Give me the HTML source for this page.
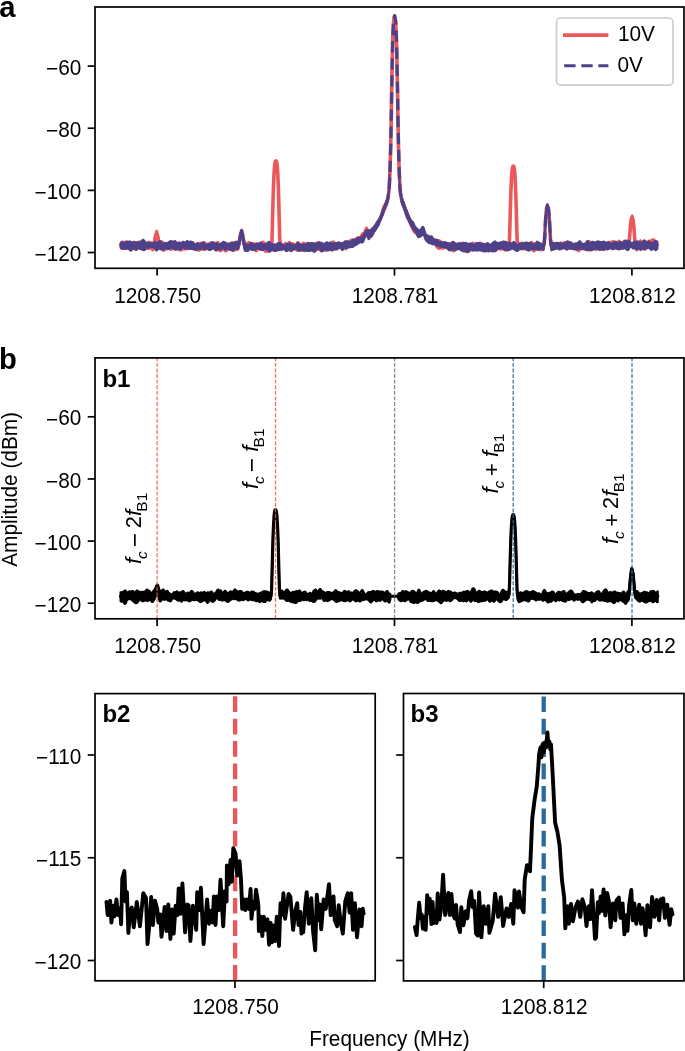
<!DOCTYPE html><html><head><meta charset="utf-8"><style>html,body{margin:0;padding:0;background:#fff;overflow:hidden}svg{display:block}</style></head><body><svg width="685" height="1051" viewBox="0 0 685 1051">
<style>.t{font-family:'Liberation Sans', Arial, Helvetica, sans-serif;font-size:20.8px;fill:#000}.bl{font-family:'Liberation Sans', Arial, Helvetica, sans-serif;font-weight:bold;fill:#000}.m{font-family:'Liberation Sans', Arial, Helvetica, sans-serif;fill:#000}</style>
<rect width="685" height="1051" fill="#fff"/>
<clipPath id="ca"><rect x="95" y="7" width="589" height="261.3"/></clipPath>
<g clip-path="url(#ca)" fill="none" stroke-linejoin="round" stroke-linecap="round">
<path d="M120.5 242.76L120.99 242.54L121.48 242.06L121.97 241.54L122.45 241.25L122.94 241.25L123.43 241.45L123.92 241.67L124.41 241.75L124.9 241.62L125.39 241.34L125.87 241.05L126.36 240.96L126.85 241.18L127.34 241.67L127.83 242.31L128.32 242.95L128.81 243.34L129.3 243.3L129.78 242.87L130.27 242.39L130.76 242.13L131.25 242.11L131.74 242.12L132.23 242.04L132.72 241.88L133.2 241.67L133.69 241.49L134.18 241.5L134.67 241.75L135.16 242.09L135.65 242.25L136.14 242.17L136.62 241.99L137.11 241.85L137.6 241.72L138.09 241.51L138.58 241.27L139.07 241.23L139.56 241.49L140.05 241.91L140.53 242.21L141.02 242.28L141.51 242.2L142 242.06L142.49 241.89L142.98 241.73L143.47 241.68L143.95 241.82L144.44 242.15L144.93 242.63L145.42 243.18L145.91 243.45L146.4 243.45L146.89 243.46L147.37 243.1L147.86 242.22L148.35 241.58L148.84 241.42L149.33 241.57L149.82 241.78L150.31 241.95L150.79 242.2L151.28 242.62L151.77 243.13L152.26 243.51L152.75 243.49L153.24 243.34L153.73 242.42L154.22 240.44L154.7 237.47L155.19 234.33L155.68 231.94L156.17 230.66L156.66 230.33L157.15 230.67L157.64 232.16L158.12 234.9L158.61 238.2L159.1 240.84L159.59 241.98L160.08 241.97L160.57 241.58L161.06 241.25L161.54 241.11L162.03 241.15L162.52 241.34L163.01 241.68L163.5 242.1L163.99 242.5L164.48 242.79L164.96 242.95L165.45 243.02L165.94 243.02L166.43 242.95L166.92 242.82L167.41 242.62L167.9 242.41L168.39 242.22L168.87 242.08L169.36 242.03L169.85 242.1L170.34 242.3L170.83 242.61L171.32 242.95L171.81 243.18L172.29 243.19L172.78 242.92L173.27 242.4L173.76 241.73L174.25 241.12L174.74 240.8L175.23 240.85L175.71 241.25L176.2 241.87L176.69 242.56L177.18 243.09L177.67 243.19L178.16 242.85L178.65 242.32L179.14 241.96L179.62 241.96L180.11 242.24L180.6 242.65L181.09 243.12L181.58 243.61L182.07 243.84L182.56 243.85L183.04 243.85L183.53 243.84L184.02 243.46L184.51 243.13L185 242.81L185.49 242.42L185.98 241.97L186.46 241.61L186.95 241.47L187.44 241.55L187.93 241.69L188.42 241.82L188.91 241.94L189.4 242.16L189.88 242.51L190.37 242.88L190.86 243.02L191.35 242.81L191.84 242.36L192.33 241.97L192.82 241.83L193.31 241.99L193.79 242.41L194.28 242.96L194.77 243.54L195.26 243.99L195.75 243.99L196.24 244L196.73 244L197.21 244.01L197.7 244.01L198.19 243.74L198.68 243.28L199.17 242.84L199.66 242.51L200.15 242.42L200.63 242.62L201.12 243.03L201.61 243.37L202.1 243.4L202.59 243.02L203.08 242.42L203.57 241.94L204.06 241.78L204.54 241.98L205.03 242.41L205.52 242.89L206.01 243.22L206.5 243.3L206.99 243.22L207.48 243.19L207.96 243.34L208.45 243.58L208.94 243.64L209.43 243.28L209.92 242.6L210.41 242.01L210.9 241.87L211.38 242.14L211.87 242.47L212.36 242.6L212.85 242.53L213.34 242.4L213.83 242.33L214.32 242.32L214.8 242.38L215.29 242.48L215.78 242.52L216.27 242.42L216.76 242.15L217.25 241.85L217.74 241.68L218.23 241.85L218.71 242.43L219.2 243.24L219.69 243.91L220.18 244.2L220.67 244.13L221.16 243.82L221.65 243.33L222.13 242.77L222.62 242.33L223.11 242.17L223.6 242.15L224.09 242.12L224.58 242.07L225.07 242.15L225.55 242.4L226.04 242.7L226.53 242.94L227.02 243.15L227.51 243.35L228 243.51L228.49 243.55L228.97 243.41L229.46 243.18L229.95 242.95L230.44 242.74L230.93 242.49L231.42 242.16L231.91 241.92L232.4 241.9L232.88 242.1L233.37 242.35L233.86 242.47L234.35 242.4L234.84 242.15L235.33 241.8L235.82 241.52L236.3 241.52L236.79 241.89L237.28 242.52L237.77 243.19L238.26 243.5L238.75 242.74L239.24 240.28L239.72 236.58L240.21 233.07L240.7 230.72L241.19 229.63L241.68 229.33L242.17 229.52L242.66 230.79L243.15 233.4L243.63 236.93L244.12 240.22L244.61 242.22L245.1 243.04L245.59 243.38L246.08 243.55L246.57 243.49L247.05 243.11L247.54 242.54L248.03 242.03L248.52 241.72L249.01 241.64L249.5 241.79L249.99 242.14L250.47 242.54L250.96 242.79L251.45 242.84L251.94 242.78L252.43 242.72L252.92 242.75L253.41 242.92L253.89 243.19L254.38 243.4L254.87 243.36L255.36 243.16L255.85 242.98L256.34 242.95L256.83 243.05L257.32 243.24L257.8 243.49L258.29 243.73L258.78 243.76L259.27 243.49L259.76 242.97L260.25 242.42L260.74 242.02L261.22 241.82L261.71 241.7L262.2 241.55L262.69 241.41L263.18 241.44L263.67 241.7L264.16 242.11L264.64 242.52L265.13 242.9L265.62 243.27L266.11 243.66L266.6 244L267.09 244.21L267.58 244.29L268.07 244.29L268.55 244.22L269.04 244.09L269.53 243.94L270.02 243.84L270.51 243.84L271 243.87L271.49 243.25L271.97 237.35L272.46 220.19L272.95 200.42L273.44 184.36L273.93 172.74L273.93 177.99L273.44 189.69L272.95 205.63L272.46 225.36L271.97 242.35L271.49 248.07L271 249.12L270.51 250.03L270.02 250.87L269.53 251.57L269.04 252.06L268.55 252.25L268.07 252.11L267.58 251.8L267.09 251.61L266.6 251.69L266.11 251.96L265.62 252.14L265.13 252.04L264.64 251.67L264.16 251.21L263.67 250.78L263.18 250.4L262.69 250.11L262.2 249.96L261.71 249.96L261.22 249.96L260.74 249.8L260.25 249.46L259.76 249.06L259.27 248.84L258.78 249L258.29 249.61L257.8 250.45L257.32 251.16L256.83 251.49L256.34 251.51L255.85 251.42L255.36 251.31L254.87 251.08L254.38 250.67L253.89 250.16L253.41 249.68L252.92 249.26L252.43 248.88L251.94 248.56L251.45 248.55L250.96 248.54L250.47 248.54L249.99 248.53L249.5 248.77L249.01 249.05L248.52 249.31L248.03 249.54L247.54 249.72L247.05 249.76L246.57 249.66L246.08 249.56L245.59 249.61L245.1 249.75L244.61 249.52L244.12 248.11L243.63 245.24L243.15 241.84L242.66 239.18L242.17 237.86L241.68 237.66L241.19 237.9L240.7 238.81L240.21 240.82L239.72 243.84L239.24 247.01L238.75 249.13L238.26 249.92L237.77 250.05L237.28 250.11L236.79 250.27L236.3 250.45L235.82 250.55L235.33 250.58L234.84 250.63L234.35 250.77L233.86 250.94L233.37 251.02L232.88 250.87L232.4 250.55L231.91 250.19L231.42 249.96L230.93 249.92L230.44 250.02L229.95 250.11L229.46 250.09L228.97 249.99L228.49 249.99L228 250.23L227.51 250.71L227.02 251.21L226.53 251.57L226.04 251.7L225.55 251.64L225.07 251.44L224.58 251.08L224.09 250.54L223.6 249.97L223.11 249.64L222.62 249.77L222.13 250.3L221.65 250.94L221.16 251.41L220.67 251.6L220.18 251.56L219.69 251.36L219.2 251.02L218.71 250.61L218.23 250.3L217.74 250.26L217.25 250.47L216.76 250.77L216.27 250.91L215.78 250.78L215.29 250.39L214.8 249.87L214.32 249.3L213.83 248.73L213.34 248.29L212.85 248.17L212.36 248.3L211.87 248.75L211.38 249.28L210.9 249.68L210.41 249.81L209.92 249.68L209.43 249.37L208.94 248.99L208.45 248.67L207.96 248.54L207.48 248.66L206.99 248.99L206.5 249.43L206.01 249.86L205.52 250.16L205.03 250.27L204.54 250.23L204.06 250.13L203.57 250.07L203.08 250.07L202.59 250.1L202.1 250.07L201.61 249.95L201.12 249.82L200.63 249.82L200.15 250.07L199.66 250.52L199.17 251.01L198.68 251.29L198.19 251.21L197.7 250.82L197.21 250.28L196.73 249.7L196.24 249.15L195.75 248.75L195.26 248.7L194.77 249.04L194.28 249.58L193.79 249.96L193.31 249.93L192.82 249.58L192.33 249.19L191.84 248.94L191.35 248.82L190.86 248.71L190.37 248.57L189.88 248.49L189.4 248.63L188.91 248.99L188.42 249.36L187.93 249.49L187.44 249.36L186.95 249.23L186.46 249.34L185.98 249.65L185.49 249.9L185 249.88L184.51 249.64L184.02 249.43L183.53 249.43L183.04 249.67L182.56 250.02L182.07 250.33L181.58 250.55L181.09 250.7L180.6 250.77L180.11 250.79L179.62 250.76L179.14 250.64L178.65 250.29L178.16 249.74L177.67 249.28L177.18 249.16L176.69 249.37L176.2 249.64L175.71 249.84L175.23 249.98L174.74 250.05L174.25 249.9L173.76 249.56L173.27 249.29L172.78 249.34L172.29 249.67L171.81 250.04L171.32 250.19L170.83 250.11L170.34 249.92L169.85 249.72L169.36 249.42L168.87 248.99L168.39 248.5L167.9 248.16L167.41 248.1L166.92 248.35L166.43 248.89L165.94 249.56L165.45 250.16L164.96 250.55L164.48 250.82L163.99 251.05L163.5 251.14L163.01 250.91L162.52 250.3L162.03 249.49L161.54 248.79L161.06 248.43L160.57 248.46L160.08 248.68L159.59 248.53L159.1 247.28L158.61 244.69L158.12 241.58L157.64 239.09L157.15 237.8L156.66 237.59L156.17 237.94L155.68 239.09L155.19 241.29L154.7 244.29L154.22 247.3L153.73 249.44L153.24 250.51L152.75 250.8L152.26 250.5L151.77 249.8L151.28 248.99L150.79 248.44L150.31 248.37L149.82 248.65L149.33 249L148.84 249.2L148.35 249.25L147.86 249.27L147.37 249.29L146.89 249.26L146.4 249.2L145.91 249.23L145.42 249.45L144.93 249.79L144.44 250.05L143.95 250.02L143.47 249.58L142.98 248.83L142.49 248.01L142 247.43L141.51 247.4L141.02 247.39L140.53 247.71L140.05 248.16L139.56 248.56L139.07 248.75L138.58 248.64L138.09 248.38L137.6 248.22L137.11 248.39L136.62 248.86L136.14 249.45L135.65 249.93L135.16 250.12L134.67 249.96L134.18 249.58L133.69 249.25L133.2 249.15L132.72 249.21L132.23 249.23L131.74 249.17L131.25 249.19L130.76 249.43L130.27 249.81L129.78 250.05L129.3 249.86L128.81 249.28L128.32 248.69L127.83 248.53L127.34 248.84L126.85 249.28L126.36 249.4L125.87 249.1L125.39 248.59L124.9 248.26L124.41 248.29L123.92 248.61L123.43 249L122.94 249.25L122.45 249.24L121.97 249.05L121.48 248.82L120.99 248.67L120.5 248.59ZM278.33 184.31L278.81 199.92L279.3 219.18L279.79 236.58L280.28 243.12L280.77 244.06L281.26 244.31L281.75 244.5L282.24 244.65L282.72 244.7L283.21 244.6L283.7 244.29L284.19 243.75L284.68 243.12L285.17 242.66L285.66 242.59L286.14 242.88L286.63 243.3L287.12 243.54L287.61 243.4L288.1 242.86L288.59 242.17L289.08 241.68L289.56 241.6L290.05 241.9L290.54 242.4L291.03 242.89L291.52 243.17L292.01 243.16L292.5 242.98L292.98 242.85L293.47 243L293.96 243.5L294.45 244.2L294.94 244.73L295.43 244.73L295.92 244.11L296.41 243.15L296.89 242.26L297.38 241.76L297.87 241.72L298.36 242.06L298.85 242.63L299.34 243.29L299.83 243.91L300.31 244.4L300.8 244.59L301.29 244.39L301.78 243.83L302.27 243.11L302.76 242.53L303.25 242.28L303.73 242.37L304.22 242.57L304.71 242.76L305.2 243.03L305.69 243.51L306.18 244.07L306.67 244.41L307.16 244.36L307.64 244.06L308.13 243.74L308.62 243.46L309.11 243.18L309.6 242.91L310.09 242.75L310.58 242.75L311.06 242.86L311.55 242.96L312.04 243.01L312.53 243.04L313.02 243.07L313.51 243.08L314 243.05L314.48 243.02L314.97 243.05L315.46 243.09L315.95 242.97L316.44 242.59L316.93 242.08L317.42 241.74L317.9 241.81L318.39 242.3L318.88 242.98L319.37 243.53L319.86 243.77L320.35 243.71L320.84 243.52L321.33 243.37L321.81 243.31L322.3 243.37L322.79 243.61L323.28 244.08L323.77 244.65L324.26 244.7L324.75 244.68L325.23 244.67L325.72 244.5L326.21 244.16L326.7 243.81L327.19 243.44L327.68 243.16L328.17 243.08L328.65 243.29L329.14 243.71L329.63 244.06L330.12 244.07L330.61 243.65L331.1 242.96L331.59 242.22L332.08 241.63L332.56 241.25L333.05 241.11L333.54 241.17L334.03 241.42L334.52 241.82L335.01 242.29L335.5 242.69L335.98 242.93L336.47 242.92L336.96 242.71L337.45 242.42L337.94 242.25L338.43 242.28L338.92 242.43L339.4 242.54L339.89 242.53L340.38 242.55L340.87 242.74L341.36 243.09L341.85 243.47L342.34 243.62L342.82 243.54L343.31 243.46L343.8 243.37L344.29 242.77L344.78 241.9L345.27 241.28L345.76 241.12L346.25 241.36L346.73 241.69L347.22 241.89L347.71 241.9L348.2 241.8L348.69 241.57L349.18 241.16L349.67 240.58L350.15 239.96L350.64 239.51L351.13 239.35L351.62 239.39L352.11 239.46L352.6 239.41L353.09 239.25L353.57 239.14L354.06 239.17L354.55 239.21L355.04 239.05L355.53 238.67L356.02 238.18L356.51 237.74L356.99 237.34L357.48 236.99L357.97 236.77L358.46 236.75L358.95 236.89L359.44 237.02L359.93 236.89L360.42 236.3L360.9 235.29L361.39 234.18L361.88 233.36L362.37 233L362.86 232.96L363.35 232.84L363.84 232.28L364.32 231.2L364.81 229.89L365.3 228.69L365.79 227.82L366.28 227.31L366.77 227.35L367.26 228.02L367.74 229.08L368.23 230.08L368.72 230.71L369.21 230.88L369.7 230.65L370.19 230.16L370.68 229.6L371.17 229.09L371.65 228.67L372.14 228.16L372.63 227.67L373.12 227.17L373.61 226.64L374.1 226.06L374.59 225.48L375.07 224.95L375.56 224.46L376.05 223.93L376.54 223.29L377.03 222.54L377.52 221.78L378.01 221.15L378.49 220.41L378.98 219.64L379.47 218.51L379.96 217.36L380.45 216.21L380.94 214.64L381.43 212.55L381.91 210.51L382.4 208.71L382.89 207.2L383.38 205.97L383.87 204.98L384.36 204.19L384.85 203.53L385.34 202.83L385.82 201.94L386.31 200.79L386.8 199.47L387.29 198.14L387.78 196.2L388.27 193.1L388.76 189.87L389.24 184.59L389.73 173.82L389.73 179.34L389.24 190.17L388.76 195.29L388.27 198.42L387.78 201.72L387.29 204.04L386.8 205.7L386.31 207.15L385.82 208.31L385.34 209.22L384.85 210.05L384.36 211L383.87 212.15L383.38 213.41L382.89 214.65L382.4 215.77L381.91 216.77L381.43 217.74L380.94 218.92L380.45 220.1L379.96 221.26L379.47 222.4L378.98 223.54L378.49 224.65L378.01 225.73L377.52 226.8L377.03 227.83L376.54 228.67L376.05 229.33L375.56 229.99L375.07 230.78L374.59 231.72L374.1 232.74L373.61 233.81L373.12 234.87L372.63 235.84L372.14 236.59L371.65 237L371.17 236.9L370.68 236.54L370.19 236.13L369.7 235.83L369.21 235.8L368.72 235.94L368.23 235.75L367.74 235.22L367.26 234.58L366.77 234.88L366.28 235.62L365.79 236.34L365.3 236.85L364.81 237.45L364.32 238.31L363.84 239.3L363.35 240.12L362.86 240.52L362.37 240.6L361.88 240.66L361.39 240.99L360.9 241.61L360.42 242.26L359.93 242.68L359.44 242.86L358.95 242.99L358.46 243.29L357.97 243.76L357.48 244.24L356.99 244.58L356.51 244.71L356.02 244.77L355.53 244.87L355.04 244.97L354.55 245.01L354.06 245.07L353.57 245.32L353.09 245.87L352.6 246.56L352.11 247.12L351.62 247.36L351.13 247.32L350.64 247.12L350.15 246.84L349.67 246.51L349.18 246.2L348.69 246.23L348.2 246.43L347.71 247.23L347.22 248.27L346.73 249.19L346.25 249.67L345.76 249.58L345.27 248.99L344.78 248.19L344.29 247.56L343.8 247.36L343.31 247.52L342.82 247.94L342.34 248.32L341.85 248.49L341.36 248.44L340.87 248.27L340.38 248.06L339.89 247.98L339.4 248.03L338.92 248.06L338.43 248.37L337.94 248.92L337.45 249.42L336.96 249.73L336.47 249.83L335.98 249.76L335.5 249.62L335.01 249.54L334.52 249.65L334.03 249.88L333.54 250.07L333.05 250.12L332.56 250.09L332.08 250.07L331.59 250.14L331.1 250.29L330.61 250.41L330.12 250.43L329.63 250.39L329.14 250.37L328.65 250.38L328.17 250.39L327.68 250.44L327.19 250.57L326.7 250.77L326.21 250.92L325.72 250.96L325.23 250.94L324.75 250.97L324.26 251.01L323.77 250.97L323.28 250.8L322.79 250.59L322.3 250.41L321.81 250.27L321.33 250.1L320.84 249.92L320.35 249.79L319.86 249.82L319.37 250.03L318.88 250.25L318.39 250.32L317.9 250.22L317.42 250.14L316.93 250.2L316.44 250.45L315.95 250.79L315.46 251.07L314.97 251.19L314.48 251.13L314 250.95L313.51 250.72L313.02 250.42L312.53 250.01L312.04 249.58L311.55 249.28L311.06 249.24L310.58 249.5L310.09 249.93L309.6 250.32L309.11 250.52L308.62 250.51L308.13 250.32L307.64 250.04L307.16 249.86L306.67 249.96L306.18 250.35L305.69 250.87L305.2 251.29L304.71 251.42L304.22 251.18L303.73 250.68L303.25 250.21L302.76 250.01L302.27 250.04L301.78 250.06L301.29 249.93L300.8 249.76L300.31 249.74L299.83 249.98L299.34 250.41L298.85 250.84L298.36 251.1L297.87 251.18L297.38 251.14L296.89 251.01L296.41 250.74L295.92 250.37L295.43 250.04L294.94 249.85L294.45 249.72L293.96 249.47L293.47 249.07L292.98 248.87L292.5 248.87L292.01 248.87L291.52 248.86L291.03 248.86L290.54 248.88L290.05 249.31L289.56 249.72L289.08 250.12L288.59 250.59L288.1 251.07L287.61 251.32L287.12 251.2L286.63 250.79L286.14 250.28L285.66 249.84L285.17 249.56L284.68 249.49L284.19 249.53L283.7 249.57L283.21 249.6L282.72 249.69L282.24 249.92L281.75 250.24L281.26 250.5L280.77 250.58L280.28 249.8L279.79 243.13L279.3 225.19L278.81 205.4L278.33 189.53ZM399.51 175.23L399.99 185.43L400.48 189.95L400.97 193.16L401.46 196.34L401.95 198.11L402.44 199.23L402.93 200.31L403.41 201.45L403.9 202.69L404.39 204.08L404.88 205.59L405.37 207.12L405.86 208.51L406.35 209.69L406.83 210.72L407.32 211.8L407.81 213.05L408.3 214.35L408.79 215.49L409.28 216.38L409.77 217.24L410.26 218.28L410.74 219.52L411.23 220.67L411.72 221.34L412.21 221.84L412.7 222.35L413.19 223.07L413.68 224.08L414.16 225.2L414.65 226.11L415.14 226.68L415.63 227.07L416.12 227.56L416.61 228.29L417.1 229.13L417.58 229.87L418.07 230.19L418.56 230.25L419.05 230.1L419.54 229.89L420.03 229.74L420.52 229.59L421.01 229.26L421.49 228.78L421.98 228.42L422.47 228.4L422.96 228.7L423.45 229.21L423.94 230.19L424.43 231.57L424.91 233.17L425.4 234.6L425.89 235.26L426.38 235.21L426.87 234.92L427.36 234.72L427.85 234.86L428.33 235.38L428.82 236.1L429.31 236.84L429.8 237.41L430.29 237.7L430.78 237.71L431.27 237.64L431.75 237.73L432.24 238.09L432.73 238.54L433.22 238.85L433.71 238.97L434.2 239L434.69 239.03L435.18 239.1L435.66 239.22L436.15 239.41L436.64 239.67L437.13 239.94L437.62 240.12L438.11 240.1L438.6 239.91L439.08 239.75L439.57 239.92L440.06 240.55L440.55 241.49L441.04 242.33L441.53 242.58L442.02 242.71L442.5 242.71L442.99 242.54L443.48 242.43L443.97 242.45L444.46 242.57L444.95 242.68L445.44 242.7L445.92 242.7L446.41 242.8L446.9 243.01L447.39 243.17L447.88 243.18L448.37 243.05L448.86 242.88L449.35 242.75L449.83 242.73L450.32 242.82L450.81 242.94L451.3 243.01L451.79 243.07L452.28 243.2L452.77 243.38L453.25 243.47L453.74 243.29L454.23 242.95L454.72 242.74L455.21 242.95L455.7 243.57L456.19 244.32L456.67 244.49L457.16 244.51L457.65 244.54L458.14 244.56L458.63 244.18L459.12 243.43L459.61 242.83L460.1 242.59L460.58 242.74L461.07 243.16L461.56 243.67L462.05 244.11L462.54 244.36L463.03 244.41L463.52 244.34L464 244.21L464.49 244.02L464.98 243.71L465.47 243.33L465.96 243.1L466.45 243.29L466.94 243.97L467.42 244.79L467.91 244.8L468.4 244.8L468.89 244.81L469.38 244.67L469.87 244.47L470.36 244.26L470.84 243.89L471.33 243.36L471.82 242.84L472.31 242.45L472.8 242.34L473.29 242.51L473.78 242.79L474.27 242.98L474.75 243.06L475.24 243.2L475.73 243.48L476.22 243.78L476.71 243.95L477.2 243.89L477.69 243.64L478.17 243.29L478.66 242.92L479.15 242.58L479.64 242.35L480.13 242.31L480.62 242.46L481.11 242.68L481.59 242.88L482.08 243.08L482.57 243.32L483.06 243.51L483.55 243.55L484.04 243.56L484.53 243.77L485.02 244.23L485.5 244.71L485.99 244.86L486.48 244.57L486.97 244.08L487.46 243.75L487.95 243.77L488.44 244.01L488.92 244.24L489.41 244.41L489.9 244.6L490.39 244.84L490.88 244.85L491.37 244.85L491.86 244.5L492.34 243.9L492.83 243.47L493.32 243.45L493.81 243.78L494.3 244.21L494.79 244.49L495.28 244.49L495.76 244.19L496.25 243.75L496.74 243.44L497.23 243.4L497.72 243.49L498.21 243.54L498.7 243.45L499.19 243.22L499.67 242.9L500.16 242.56L500.65 242.23L501.14 241.95L501.63 241.82L502.12 241.86L502.61 242.03L503.09 242.25L503.58 242.47L504.07 242.56L504.56 242.34L505.05 241.9L505.54 241.54L506.03 241.61L506.51 242.13L507 242.75L507.49 243.04L507.98 242.95L508.47 242.72L508.96 242.15L509.45 237.17L509.93 221.87L510.42 203.49L510.91 188.16L511.4 176.9L511.4 182.31L510.91 193.68L510.42 209.29L509.93 228.21L509.45 244.17L508.96 249.43L508.47 249.94L507.98 250.08L507.49 250.39L507 250.72L506.51 250.93L506.03 250.97L505.54 250.91L505.05 250.74L504.56 250.48L504.07 250.2L503.58 249.99L503.09 249.87L502.61 249.77L502.12 249.7L501.63 249.7L501.14 249.8L500.65 249.88L500.16 249.8L499.67 249.55L499.19 249.29L498.7 249.15L498.21 249.19L497.72 249.39L497.23 249.7L496.74 250.01L496.25 250.25L495.76 250.36L495.28 250.35L494.79 250.26L494.3 250.18L493.81 250.11L493.32 249.97L492.83 249.72L492.34 249.42L491.86 249.25L491.37 249.28L490.88 249.45L490.39 249.64L489.9 249.8L489.41 250.03L488.92 250.41L488.44 250.9L487.95 251.33L487.46 251.56L486.97 251.64L486.48 251.63L485.99 251.54L485.5 251.3L485.02 250.9L484.53 250.46L484.04 250.05L483.55 249.74L483.06 249.53L482.57 249.4L482.08 249.34L481.59 249.35L481.11 249.43L480.62 249.57L480.13 249.71L479.64 249.85L479.15 250.03L478.66 250.26L478.17 250.39L477.69 250.28L477.2 249.95L476.71 249.55L476.22 249.22L475.73 248.96L475.24 248.87L474.75 248.87L474.27 248.87L473.78 249.23L473.29 249.73L472.8 250.12L472.31 250.35L471.82 250.52L471.33 250.69L470.84 250.83L470.36 250.91L469.87 250.97L469.38 251.03L468.89 251.12L468.4 251.34L467.91 251.73L467.42 252.14L466.94 252.42L466.45 252.51L465.96 252.49L465.47 252.35L464.98 252L464.49 251.39L464 250.69L463.52 250.1L463.03 249.73L462.54 249.46L462.05 249.15L461.56 248.84L461.07 248.72L460.58 248.87L460.1 249.13L459.61 249.24L459.12 249.14L458.63 248.94L458.14 248.78L457.65 248.75L457.16 248.88L456.67 249.18L456.19 249.57L455.7 249.97L455.21 250.37L454.72 250.81L454.23 251.28L453.74 251.6L453.25 251.63L452.77 251.36L452.28 250.89L451.79 250.39L451.3 249.98L450.81 249.72L450.32 249.58L449.83 249.53L449.35 249.5L448.86 249.41L448.37 249.25L447.88 248.99L447.39 248.7L446.9 248.46L446.41 248.32L445.92 248.29L445.44 248.34L444.95 248.47L444.46 248.62L443.97 248.72L443.48 248.8L442.99 248.9L442.5 248.98L442.02 248.93L441.53 248.77L441.04 248.65L440.55 248.71L440.06 248.96L439.57 249.21L439.08 249.29L438.6 249.15L438.11 248.87L437.62 248.55L437.13 248.15L436.64 247.53L436.15 246.68L435.66 245.79L435.18 245.02L434.69 244.4L434.2 244.03L433.71 243.81L433.22 243.58L432.73 243.35L432.24 243.45L431.75 243.65L431.27 243.71L430.78 243.56L430.29 243.29L429.8 243.09L429.31 243.06L428.82 243.1L428.33 242.97L427.85 242.58L427.36 242.02L426.87 241.49L426.38 241.02L425.89 240.47L425.4 239.58L424.91 238.27L424.43 236.82L423.94 235.6L423.45 234.81L422.96 234.39L422.47 234.3L421.98 234.74L421.49 235.59L421.01 236.41L420.52 236.8L420.03 236.7L419.54 236.31L419.05 235.81L418.56 235.36L418.07 235.05L417.58 234.86L417.1 234.52L416.61 234.14L416.12 233.79L415.63 233.55L415.14 233.38L414.65 233.13L414.16 232.67L413.68 231.99L413.19 231.18L412.7 230.3L412.21 229.38L411.72 228.45L411.23 227.53L410.74 226.37L410.26 225.21L409.77 224.11L409.28 222.99L408.79 221.76L408.3 220.47L407.81 219.18L407.32 217.9L406.83 216.61L406.35 215.32L405.86 214.05L405.37 212.82L404.88 211.58L404.39 210.32L403.9 209.03L403.41 207.7L402.93 206.4L402.44 205.2L401.95 204.1L401.46 202.5L400.97 199.5L400.48 196.35L399.99 191.62L399.51 180.9ZM515.31 178.53L515.8 190.13L516.29 205.69L516.78 223.92L517.26 237.71L517.75 242.22L518.24 243.5L518.73 244L519.22 244.09L519.71 243.99L520.2 243.8L520.68 243.46L521.17 242.96L521.66 242.44L522.15 242.12L522.64 242.19L523.13 242.64L523.62 243.34L524.11 244.05L524.59 244.53L525.08 244.52L525.57 244.22L526.06 243.56L526.55 242.9L527.04 242.5L527.53 242.48L528.01 242.72L528.5 242.98L528.99 243.05L529.48 242.86L529.97 242.49L530.46 242.03L530.95 241.67L531.43 241.56L531.92 241.75L532.41 242.1L532.9 242.45L533.39 242.76L533.88 243.14L534.37 243.59L534.85 243.97L535.34 244.08L535.83 243.83L536.32 243.39L536.81 243.05L537.3 243.01L537.79 243.23L538.28 243.54L538.76 243.79L539.25 244L539.74 244.19L540.23 244.29L540.72 244.27L541.21 244.16L541.7 244.02L542.18 243.79L542.67 243.37L543.16 242.77L543.65 241.83L544.14 239.42L544.63 233.12L545.12 223.7L545.6 214.88L546.09 208.61L546.58 205.15L547.07 203.97L547.56 204.05L548.05 204.58L548.54 206.39L549.03 210.39L549.51 217.12L550 226.19L550.49 234.98L550.98 239.75L551.47 241.02L551.96 241.4L552.45 241.79L552.93 242.19L553.42 242.55L553.91 242.88L554.4 243.16L554.89 243.32L555.38 243.42L555.87 243.57L556.35 243.78L556.84 243.94L557.33 243.99L557.82 243.96L558.31 243.83L558.8 243.54L559.29 243.07L559.77 242.54L560.26 242.18L560.75 242.15L561.24 242.42L561.73 242.75L562.22 242.88L562.71 242.72L563.2 242.4L563.68 242.08L564.17 241.88L564.66 241.81L565.15 241.82L565.64 241.79L566.13 241.66L566.62 241.46L567.1 241.3L567.59 241.29L568.08 241.48L568.57 241.81L569.06 242.17L569.55 242.43L570.04 242.5L570.52 242.4L571.01 242.3L571.5 242.41L571.99 242.77L572.48 243.22L572.97 243.57L573.46 243.72L573.94 243.69L574.43 243.56L574.92 243.47L575.41 243.51L575.9 243.65L576.39 243.85L576.88 243.91L577.37 243.9L577.85 243.89L578.34 243.89L578.83 243.88L579.32 243.85L579.81 243.52L580.3 243.39L580.79 243.56L581.27 243.85L581.76 243.84L582.25 243.84L582.74 243.83L583.23 243.83L583.72 243.8L584.21 243.75L584.69 243.53L585.18 243.11L585.67 242.69L586.16 242.48L586.65 242.53L587.14 242.57L587.63 242.33L588.12 241.77L588.6 241.14L589.09 240.78L589.58 240.87L590.07 241.33L590.56 241.84L591.05 242.12L591.54 242.17L592.02 242.24L592.51 242.52L593 242.96L593.49 243.32L593.98 243.43L594.47 243.31L594.96 243.17L595.44 243.16L595.93 243.27L596.42 243.4L596.91 243.42L597.4 243.33L597.89 243.18L598.38 243.07L598.86 243.01L599.35 242.97L599.84 242.94L600.33 242.95L600.82 243.03L601.31 243.11L601.8 243.19L602.29 243.34L602.77 243.55L603.26 243.56L603.75 243.56L604.24 243.55L604.73 243.45L605.22 243L605.71 242.6L606.19 242.44L606.68 242.52L607.17 242.69L607.66 242.74L608.15 242.55L608.64 242.16L609.13 241.78L609.61 241.61L610.1 241.66L610.59 241.75L611.08 241.65L611.57 241.37L612.06 241.09L612.55 240.96L613.04 240.9L613.52 240.84L614.01 240.89L614.5 241.18L614.99 241.69L615.48 242.18L615.97 242.48L616.46 242.51L616.94 242.31L617.43 241.88L617.92 241.27L618.41 240.68L618.9 240.35L619.39 240.45L619.88 240.91L620.36 241.54L620.85 242.15L621.34 242.6L621.83 242.75L622.32 242.45L622.81 241.76L623.3 241.01L623.78 240.57L624.27 240.64L624.76 241.06L625.25 241.53L625.74 241.85L626.23 242L626.72 242.02L627.21 241.97L627.69 241.89L628.18 241.8L628.67 241.4L629.16 239.37L629.65 234.37L630.14 227.61L630.63 221.78L631.11 217.8L631.6 215.75L632.09 215.1L632.58 215.25L633.07 216.96L633.56 220.85L634.05 226.81L634.53 233.6L635.02 238.73L635.51 240.8L636 241.25L636.49 241.59L636.98 242.08L637.47 242.45L637.95 242.45L638.44 242.01L638.93 241.34L639.42 240.69L639.91 240.24L640.4 240.1L640.89 240.3L641.38 240.81L641.86 241.46L642.35 241.94L642.84 241.93L643.33 241.41L643.82 240.69L644.31 240.21L644.8 240.24L645.28 240.69L645.77 241.25L646.26 241.63L646.75 241.72L647.24 241.53L647.73 241.13L648.22 240.67L648.7 240.39L649.19 240.42L649.68 240.58L650.17 240.59L650.66 240.32L651.15 239.88L651.64 239.5L652.13 239.25L652.61 239.1L653.1 239.03L653.59 239.1L654.08 239.34L654.57 239.71L655.06 240.14L655.55 240.59L656.03 241.06L656.52 241.46L657.01 241.7L657.5 241.82L657.5 249.38L657.01 249.44L656.52 249.31L656.03 248.99L655.55 248.55L655.06 248.15L654.57 247.9L654.08 247.86L653.59 248.03L653.1 248.33L652.61 248.59L652.13 248.62L651.64 248.41L651.15 248.12L650.66 247.91L650.17 247.82L649.68 247.81L649.19 247.82L648.7 247.83L648.22 247.93L647.73 248.15L647.24 248.47L646.75 248.8L646.26 249.16L645.77 249.57L645.28 249.97L644.8 250.19L644.31 250.13L643.82 249.79L643.33 249.21L642.84 248.46L642.35 247.71L641.86 247.15L641.38 247.07L640.89 247.07L640.4 247.36L639.91 247.75L639.42 248.06L638.93 248.33L638.44 248.74L637.95 249.4L637.47 250.2L636.98 250.77L636.49 250.82L636 250.25L635.51 248.8L635.02 245.4L634.53 239.33L634.05 232.42L633.56 227L633.07 223.79L632.58 222.45L632.09 222.25L631.6 222.58L631.11 224.29L630.63 228.06L630.14 233.92L629.65 240.87L629.16 246.48L628.67 249.12L628.18 249.84L627.69 249.88L627.21 249.65L626.72 249.19L626.23 248.54L625.74 247.85L625.25 247.34L624.76 247.27L624.27 247.5L623.78 248L623.3 248.44L622.81 248.67L622.32 248.72L621.83 248.7L621.34 248.75L620.85 248.87L620.36 248.95L619.88 248.89L619.39 248.75L618.9 248.74L618.41 248.95L617.92 249.23L617.43 249.32L616.94 249.11L616.46 248.72L615.97 248.35L615.48 248.2L614.99 248.28L614.5 248.46L614.01 248.6L613.52 248.81L613.04 249.17L612.55 249.57L612.06 249.61L611.57 249.1L611.08 248.25L610.59 247.55L610.1 247.47L609.61 247.83L609.13 248.47L608.64 249.04L608.15 249.45L607.66 249.73L607.17 249.84L606.68 249.79L606.19 249.69L605.71 249.69L605.22 249.82L604.73 249.98L604.24 250.01L603.75 249.85L603.26 249.56L602.77 249.29L602.29 249.19L601.8 249.29L601.31 249.48L600.82 249.61L600.33 249.6L599.84 249.47L599.35 249.26L598.86 249.08L598.38 249.06L597.89 249.3L597.4 249.72L596.91 250.15L596.42 250.39L595.93 250.27L595.44 249.83L594.96 249.27L594.47 248.87L593.98 248.84L593.49 249.16L593 249.64L592.51 250.1L592.02 250.45L591.54 250.67L591.05 250.78L590.56 250.82L590.07 250.8L589.58 250.74L589.09 250.69L588.6 250.64L588.12 250.6L587.63 250.55L587.14 250.46L586.65 250.33L586.16 250.12L585.67 249.86L585.18 249.64L584.69 249.49L584.21 249.43L583.72 249.47L583.23 249.63L582.74 249.76L582.25 249.67L581.76 249.39L581.27 249.22L580.79 249.44L580.3 250.03L579.81 250.72L579.32 251.21L578.83 251.41L578.34 251.35L577.85 251.14L577.37 250.83L576.88 250.43L576.39 249.98L575.9 249.56L575.41 249.27L574.92 249.15L574.43 249.2L573.94 249.31L573.46 249.36L572.97 249.29L572.48 249.17L571.99 249.13L571.5 249.2L571.01 249.31L570.52 249.33L570.04 249.19L569.55 248.92L569.06 248.6L568.57 248.32L568.08 248.22L567.59 248.35L567.1 248.62L566.62 248.84L566.13 248.88L565.64 248.76L565.15 248.57L564.66 248.34L564.17 248.19L563.68 248.24L563.2 248.51L562.71 248.87L562.22 249.12L561.73 249.16L561.24 248.96L560.75 248.61L560.26 248.25L559.77 248.12L559.29 248.13L558.8 248.19L558.31 248.31L557.82 248.29L557.33 248.22L556.84 248.26L556.35 248.48L555.87 248.8L555.38 249.1L554.89 249.32L554.4 249.47L553.91 249.59L553.42 249.74L552.93 249.93L552.45 250.14L551.96 250.29L551.47 250.17L550.98 248.77L550.49 243.47L550 233.91L549.51 224.05L549.03 216.62L548.54 212.14L548.05 210.17L547.56 209.81L547.07 210.1L546.58 211.68L546.09 215.4L545.6 221.74L545.12 230.54L544.63 240.01L544.14 246.43L543.65 248.92L543.16 249.8L542.67 250.23L542.18 250.44L541.7 250.57L541.21 250.7L540.72 250.73L540.23 250.56L539.74 250.22L539.25 249.91L538.76 249.79L538.28 249.86L537.79 250.03L537.3 250.16L536.81 250.18L536.32 250.15L535.83 250.24L535.34 250.58L534.85 251.08L534.37 251.52L533.88 251.69L533.39 251.58L532.9 251.23L532.41 250.73L531.92 250.21L531.43 249.84L530.95 249.64L530.46 249.51L529.97 249.38L529.48 249.29L528.99 249.34L528.5 249.59L528.01 249.88L527.53 249.94L527.04 249.64L526.55 249.18L526.06 248.95L525.57 249.13L525.08 249.51L524.59 249.76L524.11 249.73L523.62 249.59L523.13 249.55L522.64 249.59L522.15 249.5L521.66 249.18L521.17 248.79L520.68 248.57L520.2 248.58L519.71 248.76L519.22 249.01L518.73 249.31L518.24 249.62L517.75 249.57L517.26 246.11L516.78 232.22L516.29 212.99L515.8 196.4L515.31 184.1Z" fill="#EC5759" stroke="#EC5759" stroke-width="1.6"/>
<path d="M120.5 245.35L120.99 245.35L121.48 245.35L121.97 245.35L122.45 245.35L122.94 245.35L123.43 245.35L123.92 245.35L124.41 245.36L124.9 245.36L125.39 245.36L125.87 245.36L126.36 245.36L126.85 245.36L127.34 245.36L127.83 245.36L128.32 245.36L128.81 245.36L129.3 245.36L129.78 245.36L130.27 245.36L130.76 245.37L131.25 245.37L131.74 245.37L132.23 245.37L132.72 245.37L133.2 245.37L133.69 245.37L134.18 245.37L134.67 245.37L135.16 245.37L135.65 245.37L136.14 245.37L136.62 245.37L137.11 245.38L137.6 245.38L138.09 245.38L138.58 245.38L139.07 245.38L139.56 245.38L140.05 245.38L140.53 245.39L141.02 245.39L141.51 245.4L142 245.4L142.49 245.41L142.98 245.41L143.47 245.42L143.95 245.42L144.44 245.43L144.93 245.43L145.42 245.44L145.91 245.44L146.4 245.45L146.89 245.46L147.37 245.46L147.86 245.47L148.35 245.47L148.84 245.48L149.33 245.48L149.82 245.49L150.31 245.49L150.79 245.5L151.28 245.5L151.77 245.51L152.26 245.51L152.75 245.49L153.24 245.34L153.73 244.69L154.22 242.98L154.7 240.25L155.19 237.4L155.68 235.37L156.17 234.43L156.66 234.29L157.15 234.57L157.64 235.76L158.12 238.05L158.61 240.98L159.1 243.55L159.59 244.98L160.08 245.48L160.57 245.59L161.06 245.61L161.54 245.62L162.03 245.62L162.52 245.63L163.01 245.63L163.5 245.64L163.99 245.64L164.48 245.65L164.96 245.66L165.45 245.66L165.94 245.67L166.43 245.67L166.92 245.68L167.41 245.68L167.9 245.69L168.39 245.69L168.87 245.7L169.36 245.7L169.85 245.71L170.34 245.71L170.83 245.72L171.32 245.73L171.81 245.73L172.29 245.74L172.78 245.74L173.27 245.75L173.76 245.75L174.25 245.76L174.74 245.76L175.23 245.77L175.71 245.77L176.2 245.78L176.69 245.78L177.18 245.79L177.67 245.8L178.16 245.8L178.65 245.81L179.14 245.81L179.62 245.82L180.11 245.82L180.6 245.83L181.09 245.83L181.58 245.84L182.07 245.84L182.56 245.85L183.04 245.85L183.53 245.86L184.02 245.87L184.51 245.87L185 245.88L185.49 245.88L185.98 245.89L186.46 245.89L186.95 245.9L187.44 245.9L187.93 245.91L188.42 245.91L188.91 245.92L189.4 245.92L189.88 245.93L190.37 245.94L190.86 245.94L191.35 245.95L191.84 245.95L192.33 245.96L192.82 245.96L193.31 245.97L193.79 245.97L194.28 245.98L194.77 245.98L195.26 245.99L195.75 245.99L196.24 246L196.73 246L197.21 246.01L197.7 246.01L198.19 246.02L198.68 246.02L199.17 246.03L199.66 246.03L200.15 246.04L200.63 246.04L201.12 246.05L201.61 246.05L202.1 246.06L202.59 246.07L203.08 246.07L203.57 246.08L204.06 246.08L204.54 246.09L205.03 246.09L205.52 246.1L206.01 246.1L206.5 246.11L206.99 246.11L207.48 246.12L207.96 246.12L208.45 246.13L208.94 246.13L209.43 246.14L209.92 246.14L210.41 246.15L210.9 246.15L211.38 246.16L211.87 246.16L212.36 246.17L212.85 246.17L213.34 246.18L213.83 246.18L214.32 246.19L214.8 246.19L215.29 246.2L215.78 246.2L216.27 246.21L216.76 246.21L217.25 246.22L217.74 246.22L218.23 246.23L218.71 246.23L219.2 246.24L219.69 246.24L220.18 246.24L220.67 246.25L221.16 246.25L221.65 246.26L222.13 246.26L222.62 246.27L223.11 246.27L223.6 246.28L224.09 246.28L224.58 246.29L225.07 246.29L225.55 246.3L226.04 246.3L226.53 246.31L227.02 246.31L227.51 246.32L228 246.32L228.49 246.33L228.97 246.33L229.46 246.34L229.95 246.34L230.44 246.35L230.93 246.35L231.42 246.36L231.91 246.36L232.4 246.37L232.88 246.37L233.37 246.38L233.86 246.38L234.35 246.38L234.84 246.39L235.33 246.39L235.82 246.4L236.3 246.4L236.79 246.41L237.28 246.41L237.77 246.38L238.26 246.16L238.75 245.24L239.24 242.97L239.72 239.55L240.21 236.2L240.7 233.92L241.19 232.92L241.68 232.77L242.17 233.12L242.66 234.53L243.15 237.22L243.63 240.75L244.12 243.91L244.61 245.71L245.1 246.34L245.59 246.47L246.08 246.49L246.57 246.5L247.05 246.51L247.54 246.51L248.03 246.51L248.52 246.52L249.01 246.52L249.5 246.53L249.99 246.53L250.47 246.54L250.96 246.54L251.45 246.55L251.94 246.55L252.43 246.55L252.92 246.56L253.41 246.56L253.89 246.57L254.38 246.57L254.87 246.58L255.36 246.58L255.85 246.59L256.34 246.59L256.83 246.59L257.32 246.6L257.8 246.6L258.29 246.61L258.78 246.61L259.27 246.62L259.76 246.62L260.25 246.62L260.74 246.63L261.22 246.63L261.71 246.64L262.2 246.64L262.69 246.65L263.18 246.65L263.67 246.65L264.16 246.66L264.64 246.66L265.13 246.67L265.62 246.67L266.11 246.67L266.6 246.68L267.09 246.68L267.58 246.69L268.07 246.69L268.55 246.69L269.04 246.7L269.53 246.7L270.02 246.71L270.51 246.71L271 246.68L271.49 246.07L271.97 240.36L272.46 223.4L272.95 203.71L273.44 187.56L273.93 175.73L274.42 167.85L274.91 163.27L275.39 161.25L275.88 160.84L276.37 161.18L276.86 163.06L277.35 167.43L277.84 175.07L278.33 186.6L278.81 202.46L279.3 222.01L279.79 239.57L280.28 246L280.77 246.75L281.26 246.79L281.75 246.8L282.24 246.8L282.72 246.8L283.21 246.81L283.7 246.81L284.19 246.81L284.68 246.82L285.17 246.82L285.66 246.82L286.14 246.83L286.63 246.83L287.12 246.83L287.61 246.84L288.1 246.84L288.59 246.84L289.08 246.85L289.56 246.85L290.05 246.85L290.54 246.86L291.03 246.86L291.52 246.86L292.01 246.87L292.5 246.87L292.98 246.87L293.47 246.88L293.96 246.88L294.45 246.88L294.94 246.89L295.43 246.89L295.92 246.89L296.41 246.89L296.89 246.9L297.38 246.9L297.87 246.9L298.36 246.91L298.85 246.91L299.34 246.91L299.83 246.91L300.31 246.92L300.8 246.92L301.29 246.92L301.78 246.92L302.27 246.93L302.76 246.93L303.25 246.93L303.73 246.93L304.22 246.94L304.71 246.94L305.2 246.94L305.69 246.94L306.18 246.93L306.67 246.93L307.16 246.93L307.64 246.93L308.13 246.93L308.62 246.92L309.11 246.92L309.6 246.92L310.09 246.92L310.58 246.91L311.06 246.91L311.55 246.91L312.04 246.9L312.53 246.9L313.02 246.9L313.51 246.89L314 246.89L314.48 246.88L314.97 246.88L315.46 246.87L315.95 246.87L316.44 246.86L316.93 246.86L317.42 246.85L317.9 246.84L318.39 246.84L318.88 246.83L319.37 246.82L319.86 246.82L320.35 246.8L320.84 246.79L321.33 246.78L321.81 246.77L322.3 246.75L322.79 246.74L323.28 246.72L323.77 246.71L324.26 246.69L324.75 246.68L325.23 246.66L325.72 246.65L326.21 246.63L326.7 246.61L327.19 246.6L327.68 246.58L328.17 246.56L328.65 246.54L329.14 246.53L329.63 246.51L330.12 246.49L330.61 246.47L331.1 246.45L331.59 246.43L332.08 246.41L332.56 246.39L333.05 246.36L333.54 246.34L334.03 246.32L334.52 246.29L335.01 246.27L335.5 246.25L335.98 246.22L336.47 246.2L336.96 246.17L337.45 246.14L337.94 246.12L338.43 246.09L338.92 246.06L339.4 246.03L339.89 245.98L340.38 245.92L340.87 245.85L341.36 245.77L341.85 245.7L342.34 245.62L342.82 245.54L343.31 245.45L343.8 245.36L344.29 245.27L344.78 245.17L345.27 245.07L345.76 244.97L346.25 244.86L346.73 244.74L347.22 244.62L347.71 244.5L348.2 244.37L348.69 244.24L349.18 244.1L349.67 243.96L350.15 243.81L350.64 243.65L351.13 243.49L351.62 243.32L352.11 243.15L352.6 242.97L353.09 242.79L353.57 242.59L354.06 242.4L354.55 242.19L355.04 241.98L355.53 241.76L356.02 241.53L356.51 241.3L356.99 241.06L357.48 240.81L357.97 240.58L358.46 240.36L358.95 240.12L359.44 239.89L359.93 239.64L360.42 239.39L360.9 239.14L361.39 238.87L361.88 238.61L362.37 238.31L362.86 237.94L363.35 237.34L363.84 236.35L364.32 235.05L364.81 233.78L365.3 232.89L365.79 232.43L366.28 232.2L366.77 232.22L367.26 232.61L367.74 233.25L368.23 233.78L368.72 233.97L369.21 233.83L369.7 233.52L370.19 233.17L370.68 232.8L371.17 232.42L371.65 232.02L372.14 231.44L372.63 230.85L373.12 230.25L373.61 229.64L374.1 229.02L374.59 228.39L375.07 227.75L375.56 227.1L376.05 226.44L376.54 225.77L377.03 225.1L377.52 224.41L378.01 223.72L378.49 222.7L378.98 221.59L379.47 220.46L379.96 219.31L380.45 218.15L380.94 216.98L381.43 215.8L381.91 214.6L382.4 213.39L382.89 212.18L383.38 210.96L383.87 209.72L384.36 208.47L384.85 207.2L385.34 205.92L385.82 204.63L386.31 203.34L386.8 202.05L387.29 200.75L387.78 198.8L388.27 195.74L388.76 192.67L389.24 187.57L389.73 176.85L390.22 163.99L390.71 145.53L391.2 121.63L391.69 88.93L392.18 64.57L392.66 41.44L393.15 28.86L393.64 20.83L394.13 18.25L394.62 15.87L395.11 18.45L395.6 21.03L396.09 29.53L396.57 43.25L397.06 66.39L397.55 91.5L398.04 124.2L398.53 147.24L399.02 165.01L399.51 177.86L399.99 188.35L400.48 192.91L400.97 195.99L401.46 199.04L401.95 200.85L402.44 202.15L402.93 203.44L403.41 204.73L403.9 206.02L404.39 207.3L404.88 208.57L405.37 209.82L405.86 211.05L406.35 212.28L406.83 213.49L407.32 214.7L407.81 215.89L408.3 217.07L408.79 218.25L409.28 219.4L409.77 220.55L410.26 221.68L410.74 222.79L411.23 223.78L411.72 224.47L412.21 225.16L412.7 225.83L413.19 226.5L413.68 227.16L414.16 227.81L414.65 228.45L415.14 229.08L415.63 229.7L416.12 230.31L416.61 230.91L417.1 231.5L417.58 232.08L418.07 232.47L418.56 232.84L419.05 233.21L419.54 233.54L420.03 233.75L420.52 233.65L421.01 233.08L421.49 232.2L421.98 231.44L422.47 231.11L422.96 231.21L423.45 231.52L423.94 232.26L424.43 233.55L424.91 235.14L425.4 236.57L425.89 237.51L426.38 238.04L426.87 238.38L427.36 238.66L427.85 238.93L428.33 239.19L428.82 239.45L429.31 239.7L429.8 239.94L430.29 240.18L430.78 240.41L431.27 240.64L431.75 240.87L432.24 241.12L432.73 241.36L433.22 241.6L433.71 241.82L434.2 242.04L434.69 242.26L435.18 242.46L435.66 242.66L436.15 242.85L436.64 243.04L437.13 243.22L437.62 243.39L438.11 243.56L438.6 243.72L439.08 243.88L439.57 244.03L440.06 244.17L440.55 244.31L441.04 244.45L441.53 244.58L442.02 244.7L442.5 244.82L442.99 244.94L443.48 245.05L443.97 245.15L444.46 245.26L444.95 245.35L445.44 245.45L445.92 245.54L446.41 245.62L446.9 245.71L447.39 245.79L447.88 245.86L448.37 245.94L448.86 246.01L449.35 246.07L449.83 246.12L450.32 246.15L450.81 246.18L451.3 246.21L451.79 246.24L452.28 246.27L452.77 246.29L453.25 246.32L453.74 246.34L454.23 246.37L454.72 246.39L455.21 246.42L455.7 246.44L456.19 246.47L456.67 246.49L457.16 246.51L457.65 246.53L458.14 246.56L458.63 246.58L459.12 246.6L459.61 246.62L460.1 246.64L460.58 246.65L461.07 246.66L461.56 246.67L462.05 246.68L462.54 246.7L463.03 246.71L463.52 246.72L464 246.73L464.49 246.74L464.98 246.75L465.47 246.76L465.96 246.76L466.45 246.77L466.94 246.78L467.42 246.79L467.91 246.8L468.4 246.8L468.89 246.81L469.38 246.82L469.87 246.82L470.36 246.83L470.84 246.83L471.33 246.84L471.82 246.84L472.31 246.85L472.8 246.85L473.29 246.86L473.78 246.86L474.27 246.87L474.75 246.87L475.24 246.87L475.73 246.88L476.22 246.88L476.71 246.88L477.2 246.89L477.69 246.89L478.17 246.89L478.66 246.89L479.15 246.89L479.64 246.9L480.13 246.9L480.62 246.9L481.11 246.9L481.59 246.9L482.08 246.9L482.57 246.9L483.06 246.9L483.55 246.9L484.04 246.9L484.53 246.9L485.02 246.9L485.5 246.9L485.99 246.89L486.48 246.89L486.97 246.88L487.46 246.88L487.95 246.88L488.44 246.87L488.92 246.87L489.41 246.87L489.9 246.86L490.39 246.86L490.88 246.85L491.37 246.85L491.86 246.85L492.34 246.84L492.83 246.84L493.32 246.83L493.81 246.83L494.3 246.83L494.79 246.82L495.28 246.82L495.76 246.81L496.25 246.81L496.74 246.8L497.23 246.8L497.72 246.8L498.21 246.79L498.7 246.79L499.19 246.78L499.67 246.78L500.16 246.77L500.65 246.77L501.14 246.77L501.63 246.76L502.12 246.76L502.61 246.75L503.09 246.75L503.58 246.74L504.07 246.74L504.56 246.73L505.05 246.73L505.54 246.72L506.03 246.72L506.51 246.71L507 246.71L507.49 246.71L507.98 246.7L508.47 246.66L508.96 246.04L509.45 240.64L509.93 224.79L510.42 206.11L510.91 190.75L511.4 179.58L511.89 172.24L512.38 168.1L512.87 166.38L513.36 166.11L513.84 166.6L514.33 168.79L514.82 173.6L515.31 181.76L515.8 193.86L516.29 210.14L516.78 229L517.26 242.68L517.75 246.25L518.24 246.58L518.73 246.59L519.22 246.59L519.71 246.58L520.2 246.58L520.68 246.57L521.17 246.57L521.66 246.56L522.15 246.56L522.64 246.55L523.13 246.54L523.62 246.54L524.11 246.53L524.59 246.53L525.08 246.52L525.57 246.52L526.06 246.51L526.55 246.51L527.04 246.5L527.53 246.5L528.01 246.49L528.5 246.49L528.99 246.48L529.48 246.48L529.97 246.47L530.46 246.46L530.95 246.46L531.43 246.45L531.92 246.45L532.41 246.44L532.9 246.44L533.39 246.43L533.88 246.43L534.37 246.42L534.85 246.41L535.34 246.41L535.83 246.4L536.32 246.4L536.81 246.39L537.3 246.39L537.79 246.38L538.28 246.38L538.76 246.37L539.25 246.36L539.74 246.36L540.23 246.35L540.72 246.35L541.21 246.34L541.7 246.34L542.18 246.33L542.67 246.32L543.16 246.29L543.65 245.96L544.14 243.99L544.63 237.76L545.12 228.12L545.6 219.01L546.09 212.43L546.58 208.59L547.07 206.98L547.56 206.73L548.05 207.2L548.54 209.29L549.03 213.76L549.51 221.01L550 230.52L550.49 239.67L550.98 244.69L551.47 246.02L551.96 246.2L552.45 246.21L552.93 246.2L553.42 246.2L553.91 246.19L554.4 246.18L554.89 246.18L555.38 246.17L555.87 246.17L556.35 246.16L556.84 246.16L557.33 246.15L557.82 246.14L558.31 246.14L558.8 246.13L559.29 246.13L559.77 246.12L560.26 246.11L560.75 246.11L561.24 246.1L561.73 246.1L562.22 246.09L562.71 246.08L563.2 246.08L563.68 246.07L564.17 246.07L564.66 246.06L565.15 246.05L565.64 246.05L566.13 246.04L566.62 246.03L567.1 246.03L567.59 246.02L568.08 246.02L568.57 246.01L569.06 246L569.55 246L570.04 245.99L570.52 245.99L571.01 245.98L571.5 245.97L571.99 245.97L572.48 245.96L572.97 245.96L573.46 245.95L573.94 245.94L574.43 245.94L574.92 245.93L575.41 245.92L575.9 245.92L576.39 245.91L576.88 245.91L577.37 245.9L577.85 245.89L578.34 245.89L578.83 245.88L579.32 245.88L579.81 245.87L580.3 245.86L580.79 245.86L581.27 245.85L581.76 245.84L582.25 245.84L582.74 245.83L583.23 245.83L583.72 245.82L584.21 245.81L584.69 245.81L585.18 245.8L585.67 245.79L586.16 245.79L586.65 245.78L587.14 245.78L587.63 245.77L588.12 245.76L588.6 245.76L589.09 245.75L589.58 245.74L590.07 245.74L590.56 245.73L591.05 245.73L591.54 245.72L592.02 245.71L592.51 245.71L593 245.7L593.49 245.69L593.98 245.69L594.47 245.68L594.96 245.67L595.44 245.67L595.93 245.66L596.42 245.66L596.91 245.65L597.4 245.64L597.89 245.64L598.38 245.63L598.86 245.62L599.35 245.62L599.84 245.61L600.33 245.6L600.82 245.6L601.31 245.59L601.8 245.58L602.29 245.58L602.77 245.57L603.26 245.56L603.75 245.56L604.24 245.55L604.73 245.54L605.22 245.54L605.71 245.53L606.19 245.52L606.68 245.52L607.17 245.51L607.66 245.5L608.15 245.5L608.64 245.49L609.13 245.48L609.61 245.48L610.1 245.47L610.59 245.46L611.08 245.46L611.57 245.45L612.06 245.45L612.55 245.44L613.04 245.43L613.52 245.43L614.01 245.42L614.5 245.41L614.99 245.41L615.48 245.4L615.97 245.39L616.46 245.39L616.94 245.38L617.43 245.37L617.92 245.37L618.41 245.36L618.9 245.35L619.39 245.35L619.88 245.34L620.36 245.33L620.85 245.33L621.34 245.32L621.83 245.31L622.32 245.31L622.81 245.3L623.3 245.29L623.78 245.29L624.27 245.28L624.76 245.27L625.25 245.27L625.74 245.26L626.23 245.25L626.72 245.25L627.21 245.24L627.69 245.23L628.18 245.13L628.67 244.51L629.16 242.01L629.65 236.49L630.14 229.58L630.63 223.74L631.11 220.01L631.6 218.31L632.09 217.97L632.58 218.27L633.07 219.91L633.56 223.56L634.05 229.33L634.53 236.22L635.02 241.81L635.51 244.38L636 245.02L636.49 245.11L636.98 245.11L637.47 245.1L637.95 245.1L638.44 245.09L638.93 245.08L639.42 245.08L639.91 245.07L640.4 245.07L640.89 245.07L641.38 245.07L641.86 245.07L642.35 245.07L642.84 245.07L643.33 245.06L643.82 245.06L644.31 245.06L644.8 245.06L645.28 245.06L645.77 245.06L646.26 245.06L646.75 245.06L647.24 245.06L647.73 245.06L648.22 245.06L648.7 245.06L649.19 245.06L649.68 245.05L650.17 245.05L650.66 245.05L651.15 245.05L651.64 245.05L652.13 245.05L652.61 245.05L653.1 245.05L653.59 245.05L654.08 245.05L654.57 245.05L655.06 245.05L655.55 245.05L656.03 245.04L656.52 245.04L657.01 245.04L657.5 245.04" stroke="#EC5759" stroke-width="3.6"/>
<path d="M120.5 242.66L120.99 242.31L121.48 242.01L121.97 241.91L122.45 242.03L122.94 242.29L123.43 242.53L123.92 242.59L124.41 242.45L124.9 242.28L125.39 242.18L125.87 242.12L126.36 242L126.85 241.78L127.34 241.6L127.83 241.52L128.32 241.5L128.81 241.42L129.3 241.27L129.78 241.16L130.27 241.23L130.76 241.52L131.25 241.9L131.74 242.16L132.23 242.18L132.72 242.01L133.2 241.83L133.69 241.82L134.18 241.98L134.67 242.15L135.16 242.24L135.65 242.25L136.14 242.23L136.62 242.17L137.11 242.12L137.6 242.15L138.09 242.28L138.58 242.35L139.07 242.2L139.56 241.84L140.05 241.5L140.53 241.35L141.02 241.25L141.51 240.93L142 240.36L142.49 239.81L142.98 239.57L143.47 239.7L143.95 240.07L144.44 240.56L144.93 241.13L145.42 241.76L145.91 242.33L146.4 242.63L146.89 242.6L147.37 242.4L147.86 242.28L148.35 242.39L148.84 242.69L149.33 242.96L149.82 243.03L150.31 242.88L150.79 242.65L151.28 242.5L151.77 242.53L152.26 242.7L152.75 242.84L153.24 242.82L153.73 242.61L154.22 242.3L154.7 241.98L155.19 241.71L155.68 241.64L156.17 241.87L156.66 242.32L157.15 242.73L157.64 242.81L158.12 242.48L158.61 241.88L159.1 241.24L159.59 240.8L160.08 240.73L160.57 241.07L161.06 241.68L161.54 242.36L162.03 242.98L162.52 243.46L163.01 243.7L163.5 243.64L163.99 243.35L164.48 243.02L164.96 242.82L165.45 242.78L165.94 242.88L166.43 243.01L166.92 243.05L167.41 242.92L167.9 242.62L168.39 242.22L168.87 241.8L169.36 241.44L169.85 241.14L170.34 240.93L170.83 240.82L171.32 240.85L171.81 241.03L172.29 241.32L172.78 241.56L173.27 241.6L173.76 241.41L174.25 241.14L174.74 241.01L175.23 241.16L175.71 241.56L176.2 242.05L176.69 242.48L177.18 242.75L177.67 242.83L178.16 242.74L178.65 242.57L179.14 242.48L179.62 242.57L180.11 242.82L180.6 243.06L181.09 243.1L181.58 242.84L182.07 242.35L182.56 241.81L183.04 241.47L183.53 241.52L184.02 241.91L184.51 242.36L185 242.51L185.49 242.23L185.98 241.7L186.46 241.17L186.95 240.83L187.44 240.81L187.93 241.09L188.42 241.53L188.91 241.84L189.4 241.83L189.88 241.55L190.37 241.28L190.86 241.23L191.35 241.42L191.84 241.69L192.33 241.98L192.82 242.36L193.31 242.93L193.79 243.58L194.28 244.13L194.77 244.13L195.26 244.14L195.75 244.14L196.24 244L196.73 243.36L197.21 242.87L197.7 242.77L198.19 243.14L198.68 243.79L199.17 244.18L199.66 244.18L200.15 244.19L200.63 243.67L201.12 243.14L201.61 242.73L202.1 242.42L202.59 242.2L203.08 242.13L203.57 242.24L204.06 242.53L204.54 242.97L205.03 243.48L205.52 243.93L206.01 244.25L206.5 244.26L206.99 244.26L207.48 244.27L207.96 244.27L208.45 243.91L208.94 243.4L209.43 243.22L209.92 243.32L210.41 243.41L210.9 243.22L211.38 242.74L211.87 242.21L212.36 241.91L212.85 241.94L213.34 242.24L213.83 242.7L214.32 243.18L214.8 243.59L215.29 243.78L215.78 243.61L216.27 243.2L216.76 242.9L217.25 243.07L217.74 243.74L218.23 244.38L218.71 244.38L219.2 244.39L219.69 244.33L220.18 243.73L220.67 243.35L221.16 243.22L221.65 243.09L222.13 242.72L222.62 242.15L223.11 241.64L223.6 241.46L224.09 241.65L224.58 242.08L225.07 242.58L225.55 243.02L226.04 243.28L226.53 243.34L227.02 243.32L227.51 243.39L228 243.55L228.49 243.66L228.97 243.6L229.46 243.38L229.95 243.12L230.44 242.91L230.93 242.77L231.42 242.69L231.91 242.69L232.4 242.77L232.88 242.84L233.37 242.78L233.86 242.55L234.35 242.27L234.84 242.01L235.33 241.8L235.82 241.63L236.3 241.51L236.79 241.45L237.28 241.46L237.77 241.57L238.26 241.61L238.75 241.1L239.24 239.31L239.72 236.31L240.21 233.17L240.7 230.93L241.19 229.9L241.68 229.72L242.17 230L242.66 231.3L243.15 233.95L243.63 237.55L244.12 240.85L244.61 242.74L245.1 243.38L245.59 243.53L246.08 243.75L246.57 244.16L247.05 244.66L247.54 244.66L248.03 244.66L248.52 244.67L249.01 244.67L249.5 244.63L249.99 243.81L250.47 243.1L250.96 242.7L251.45 242.69L251.94 242.98L252.43 243.42L252.92 243.89L253.41 244.31L253.89 244.6L254.38 244.71L254.87 244.58L255.36 244.26L255.85 243.88L256.34 243.6L256.83 243.48L257.32 243.48L257.8 243.47L258.29 243.36L258.78 243.2L259.27 243.05L259.76 242.92L260.25 242.81L260.74 242.78L261.22 242.89L261.71 243.18L262.2 243.58L262.69 244L263.18 244.31L263.67 244.4L264.16 244.31L264.64 244.13L265.13 243.96L265.62 243.76L266.11 243.51L266.6 243.2L267.09 242.84L267.58 242.44L268.07 242.01L268.55 241.66L269.04 241.56L269.53 241.82L270.02 242.37L270.51 242.99L271 243.43L271.49 243.65L271.97 243.8L272.46 243.97L272.95 244.13L273.44 244.2L273.93 244.16L274.42 244.09L274.91 244.12L275.39 244.23L275.88 244.29L276.37 244.16L276.86 243.8L277.35 243.29L277.84 242.86L278.33 242.67L278.81 242.71L279.3 242.76L279.79 242.7L280.28 242.65L280.77 242.79L281.26 243.17L281.75 243.63L282.24 244.01L282.72 244.34L283.21 244.72L283.7 244.96L284.19 244.96L284.68 244.97L285.17 244.8L285.66 244.38L286.14 244.12L286.63 243.97L287.12 243.8L287.61 243.61L288.1 243.48L288.59 243.42L289.08 243.37L289.56 243.29L290.05 243.25L290.54 243.36L291.03 243.62L291.52 243.98L292.01 244.33L292.5 244.6L292.98 244.79L293.47 245.02L293.96 245.03L294.45 245.03L294.94 245.04L295.43 245.04L295.92 244.58L296.41 243.93L296.89 243.42L297.38 243.09L297.87 242.92L298.36 242.89L298.85 243.03L299.34 243.3L299.83 243.65L300.31 244.04L300.8 244.44L301.29 244.76L301.78 244.87L302.27 244.73L302.76 244.48L303.25 244.31L303.73 244.27L304.22 244.31L304.71 244.31L305.2 244.2L305.69 243.97L306.18 243.64L306.67 243.27L307.16 242.89L307.64 242.6L308.13 242.54L308.62 242.75L309.11 243.11L309.6 243.41L310.09 243.44L310.58 243.24L311.06 243L311.55 242.9L312.04 242.98L312.53 243.11L313.02 243.16L313.51 243.13L314 243.17L314.48 243.4L314.97 243.7L315.46 243.84L315.95 243.67L316.44 243.3L316.93 243.01L317.42 242.95L317.9 242.96L318.39 242.8L318.88 242.42L319.37 242.05L319.86 241.95L320.35 242.13L320.84 242.44L321.33 242.71L321.81 242.88L322.3 243L322.79 243.19L323.28 243.46L323.77 243.71L324.26 243.76L324.75 243.56L325.23 243.16L325.72 242.69L326.21 242.26L326.7 242.01L327.19 242.07L327.68 242.41L328.17 242.78L328.65 242.96L329.14 242.84L329.63 242.53L330.12 242.24L330.61 242.17L331.1 242.35L331.59 242.69L332.08 243.07L332.56 243.37L333.05 243.49L333.54 243.4L334.03 243.21L334.52 243.07L335.01 243.07L335.5 243.1L335.98 243.05L336.47 242.91L336.96 242.72L337.45 242.54L337.94 242.36L338.43 242.27L338.92 242.36L339.4 242.63L339.89 242.92L340.38 243.1L340.87 243.11L341.36 242.98L341.85 242.81L342.34 242.68L342.82 242.6L343.31 242.47L343.8 242.19L344.29 241.77L344.78 241.37L345.27 241.1L345.76 240.99L346.25 240.96L346.73 240.96L347.22 240.94L347.71 240.97L348.2 241.1L348.69 241.3L349.18 241.54L349.67 241.75L350.15 241.82L350.64 241.67L351.13 241.28L351.62 240.76L352.11 240.21L352.6 239.71L353.09 239.34L353.57 239.2L354.06 239.29L354.55 239.47L355.04 239.55L355.53 239.41L356.02 239.06L356.51 238.61L356.99 238.16L357.48 237.81L357.97 237.63L358.46 237.65L358.95 237.8L359.44 237.97L359.93 237.81L360.42 237.56L360.9 237.3L361.39 236.78L361.88 236.26L362.37 235.9L362.86 235.61L363.35 235.17L363.84 234.38L364.32 233.27L364.81 232.02L365.3 231.15L365.79 230.69L366.28 230.46L366.77 230.35L367.26 230.02L367.74 229.85L368.23 229.87L368.72 230.03L369.21 230.25L369.7 230.36L370.19 230.24L370.68 229.87L371.17 229.35L371.65 228.84L372.14 228.31L372.63 227.92L373.12 227.56L373.61 227.09L374.1 226.47L374.59 225.74L375.07 224.93L375.56 224.1L376.05 223.25L376.54 222.39L377.03 221.58L377.52 220.91L378.01 220.42L378.49 219.75L378.98 219.05L379.47 218.31L379.96 217.45L380.45 216.36L380.94 215.19L381.43 213.78L381.91 212.25L382.4 210.79L382.89 209.49L383.38 208.29L383.87 207.13L384.36 205.98L384.85 204.85L385.34 203.75L385.82 202.6L386.31 201.32L386.8 199.88L387.29 198.33L387.78 196.14L388.27 192.91L388.76 189.77L389.24 184.74L389.73 174.24L389.73 180.01L389.24 190.83L388.76 195.96L388.27 198.87L387.78 201.57L387.29 203.05L386.8 203.99L386.31 205.11L385.82 206.41L385.34 207.69L384.85 208.98L384.36 210.25L383.87 211.76L383.38 213.4L382.89 214.85L382.4 216.09L381.91 217.26L381.43 218.44L380.94 219.63L380.45 220.84L379.96 222.07L379.47 223.34L378.98 224.57L378.49 225.65L378.01 226.5L377.52 227.01L377.03 227.69L376.54 228.54L376.05 229.48L375.56 230.3L375.07 230.92L374.59 231.4L374.1 231.92L373.61 232.63L373.12 233.53L372.63 234.54L372.14 235.52L371.65 236.31L371.17 236.71L370.68 237.03L370.19 237.53L369.7 238.28L369.21 239.06L368.72 239.39L368.23 238.9L367.74 237.75L367.26 236.52L366.77 235.74L366.28 235.58L365.79 235.87L365.3 236.55L364.81 237.73L364.32 239.26L363.84 240.73L363.35 241.81L362.86 242.43L362.37 242.74L361.88 242.81L361.39 242.72L360.9 242.55L360.42 242.43L359.93 242.45L359.44 242.65L358.95 242.97L358.46 243.31L357.97 243.63L357.48 244L356.99 244.45L356.51 244.89L356.02 245.2L355.53 245.33L355.04 245.4L354.55 245.61L354.06 246.06L353.57 246.64L353.09 247.08L352.6 247.25L352.11 247.21L351.62 247.16L351.13 247.21L350.64 247.32L350.15 247.43L349.67 247.53L349.18 247.66L348.69 247.8L348.2 247.9L347.71 247.97L347.22 248.08L346.73 248.21L346.25 248.28L345.76 248.26L345.27 248.24L344.78 248.33L344.29 248.61L343.8 249.05L343.31 249.6L342.82 250.11L342.34 250.32L341.85 250.04L341.36 249.35L340.87 248.59L340.38 248.09L339.89 247.96L339.4 248.1L338.92 248.36L338.43 248.61L337.94 248.85L337.45 249.1L336.96 249.36L336.47 249.56L335.98 249.61L335.5 249.5L335.01 249.3L334.52 249.18L334.03 249.31L333.54 249.74L333.05 250.31L332.56 250.74L332.08 250.83L331.59 250.62L331.1 250.26L330.61 249.91L330.12 249.69L329.63 249.67L329.14 249.86L328.65 250.2L328.17 250.56L327.68 250.76L327.19 250.68L326.7 250.33L326.21 249.88L325.72 249.5L325.23 249.32L324.75 249.38L324.26 249.68L323.77 250.13L323.28 250.62L322.79 251.09L322.3 251.52L321.81 251.79L321.33 251.73L320.84 251.22L320.35 250.46L319.86 249.73L319.37 249.19L318.88 248.82L318.39 248.69L317.9 248.69L317.42 248.8L316.93 249.24L316.44 249.81L315.95 250.5L315.46 251.23L314.97 251.85L314.48 252.14L314 252.03L313.51 251.69L313.02 251.32L312.53 251.02L312.04 250.81L311.55 250.74L311.06 250.82L310.58 251L310.09 251.15L309.6 251.19L309.11 251.2L308.62 251.26L308.13 251.32L307.64 251.32L307.16 251.23L306.67 251.05L306.18 250.84L305.69 250.72L305.2 250.73L304.71 250.81L304.22 250.85L303.73 250.87L303.25 250.89L302.76 250.88L302.27 250.76L301.78 250.63L301.29 250.62L300.8 250.75L300.31 250.93L299.83 251.06L299.34 251.07L298.85 250.95L298.36 250.7L297.87 250.35L297.38 249.92L296.89 249.4L296.41 248.9L295.92 248.74L295.43 248.74L294.94 248.94L294.45 249.24L293.96 249.45L293.47 249.65L292.98 249.98L292.5 250.45L292.01 250.95L291.52 251.3L291.03 251.36L290.54 251.09L290.05 250.62L289.56 250.14L289.08 249.8L288.59 249.73L288.1 249.96L287.61 250.4L287.12 250.92L286.63 251.33L286.14 251.4L285.66 251.01L285.17 250.3L284.68 249.6L284.19 249.2L283.7 249.19L283.21 249.41L282.72 249.6L282.24 249.63L281.75 249.5L281.26 249.37L280.77 249.39L280.28 249.61L279.79 249.94L279.3 250.23L278.81 250.36L278.33 250.38L277.84 250.43L277.35 250.58L276.86 250.82L276.37 251.01L275.88 251.1L275.39 251.15L274.91 251.2L274.42 251.2L273.93 251.04L273.44 250.78L272.95 250.55L272.46 250.46L271.97 250.51L271.49 250.69L271 251.02L270.51 251.45L270.02 251.79L269.53 251.8L269.04 251.48L268.55 251.02L268.07 250.61L267.58 250.25L267.09 249.89L266.6 249.57L266.11 249.34L265.62 249.18L265.13 249.12L264.64 249.21L264.16 249.46L263.67 249.79L263.18 250.07L262.69 250.23L262.2 250.28L261.71 250.23L261.22 250.13L260.74 250.06L260.25 249.98L259.76 249.79L259.27 249.44L258.78 248.99L258.29 248.56L257.8 248.45L257.32 248.45L256.83 248.59L256.34 249.12L255.85 249.62L255.36 249.86L254.87 249.87L254.38 249.86L253.89 249.96L253.41 250.13L252.92 250.27L252.43 250.3L251.94 250.18L251.45 249.95L250.96 249.64L250.47 249.36L249.99 249.28L249.5 249.52L249.01 250.05L248.52 250.67L248.03 251.15L247.54 251.35L247.05 251.31L246.57 251.2L246.08 251.16L245.59 251.24L245.1 251.29L244.61 250.79L244.12 248.89L243.63 245.36L243.15 241.36L242.66 238.27L242.17 236.67L241.68 236.24L241.19 236.24L240.7 236.96L240.21 238.93L239.72 242.07L239.24 245.43L238.75 247.79L238.26 248.91L237.77 249.33L237.28 249.37L236.79 249.09L236.3 248.68L235.82 248.43L235.33 248.55L234.84 249.03L234.35 249.7L233.86 250.35L233.37 250.81L232.88 251L232.4 250.94L231.91 250.74L231.42 250.54L230.93 250.36L230.44 250.16L229.95 249.91L229.46 249.64L228.97 249.3L228.49 248.87L228 248.43L227.51 248.24L227.02 248.48L226.53 249.06L226.04 249.64L225.55 249.96L225.07 249.92L224.58 249.54L224.09 248.97L223.6 248.47L223.11 248.25L222.62 248.41L222.13 248.81L221.65 249.19L221.16 249.35L220.67 249.33L220.18 249.28L219.69 249.35L219.2 249.52L218.71 249.69L218.23 249.76L217.74 249.74L217.25 249.78L216.76 249.97L216.27 250.26L215.78 250.43L215.29 250.26L214.8 249.74L214.32 249.09L213.83 248.61L213.34 248.48L212.85 248.68L212.36 249.07L211.87 249.42L211.38 249.65L210.9 249.81L210.41 249.99L209.92 250.18L209.43 250.27L208.94 250.18L208.45 249.91L207.96 249.49L207.48 249.06L206.99 248.77L206.5 248.72L206.01 248.85L205.52 249.09L205.03 249.36L204.54 249.51L204.06 249.4L203.57 248.99L203.08 248.46L202.59 248.04L202.1 247.92L201.61 248.15L201.12 248.65L200.63 249.2L200.15 249.5L199.66 249.42L199.17 249.09L198.68 248.82L198.19 248.83L197.7 249.11L197.21 249.52L196.73 249.92L196.24 250.2L195.75 250.3L195.26 250.19L194.77 249.92L194.28 249.59L193.79 249.27L193.31 249.06L192.82 249.04L192.33 249.18L191.84 249.32L191.35 249.3L190.86 249.13L190.37 248.96L189.88 248.89L189.4 248.9L188.91 248.92L188.42 248.97L187.93 249.04L187.44 249.07L186.95 249.03L186.46 248.93L185.98 248.87L185.49 248.84L185 248.72L184.51 248.4L184.02 247.9L183.53 247.71L183.04 247.7L182.56 247.7L182.07 248.17L181.58 248.8L181.09 249.38L180.6 249.77L180.11 249.87L179.62 249.69L179.14 249.35L178.65 249.04L178.16 248.92L177.67 249.06L177.18 249.41L176.69 249.8L176.2 250.02L175.71 249.94L175.23 249.63L174.74 249.25L174.25 248.9L173.76 248.6L173.27 248.35L172.78 248.22L172.29 248.26L171.81 248.4L171.32 248.49L170.83 248.43L170.34 248.34L169.85 248.38L169.36 248.64L168.87 249.02L168.39 249.37L167.9 249.56L167.41 249.5L166.92 249.2L166.43 248.81L165.94 248.59L165.45 248.62L164.96 248.82L164.48 249.1L163.99 249.41L163.5 249.7L163.01 249.84L162.52 249.76L162.03 249.59L161.54 249.51L161.06 249.58L160.57 249.61L160.08 249.44L159.59 249.04L159.1 248.68L158.61 248.68L158.12 249.17L157.64 249.92L157.15 250.56L156.66 250.81L156.17 250.62L155.68 250.11L155.19 249.42L154.7 248.61L154.22 247.87L153.73 247.38L153.24 247.38L152.75 247.37L152.26 247.37L151.77 247.51L151.28 247.58L150.79 247.56L150.31 247.51L149.82 247.55L149.33 247.69L148.84 247.86L148.35 247.95L147.86 247.9L147.37 247.76L146.89 247.65L146.4 247.77L145.91 248.24L145.42 249L144.93 249.77L144.44 250.29L143.95 250.47L143.47 250.44L142.98 250.33L142.49 250.12L142 249.82L141.51 249.53L141.02 249.36L140.53 249.31L140.05 249.23L139.56 248.98L139.07 248.56L138.58 248.22L138.09 248.24L137.6 248.72L137.11 249.41L136.62 249.96L136.14 250.13L135.65 249.86L135.16 249.29L134.67 248.7L134.18 248.31L133.69 248.23L133.2 248.42L132.72 248.84L132.23 249.47L131.74 250.19L131.25 250.77L130.76 250.96L130.27 250.68L129.78 250.1L129.3 249.5L128.81 249.04L128.32 248.74L127.83 248.52L127.34 248.41L126.85 248.47L126.36 248.71L125.87 249.01L125.39 249.18L124.9 249.11L124.41 248.9L123.92 248.76L123.43 248.83L122.94 249.07L122.45 249.2L121.97 249.01L121.48 248.54L120.99 248L120.5 247.54ZM399.51 175.47L399.99 185.85L400.48 190.21L400.97 192.93L401.46 195.61L401.95 197.21L402.44 198.54L402.93 199.98L403.41 201.39L403.9 202.7L404.39 203.94L404.88 205.18L405.37 206.43L405.86 207.76L406.35 209.19L406.83 210.63L407.32 211.98L407.81 213.2L408.3 214.39L408.79 215.62L409.28 216.84L409.77 217.95L410.26 218.91L410.74 219.77L411.23 220.46L411.72 220.82L412.21 221.16L412.7 221.51L413.19 222.04L413.68 222.9L414.16 224.07L414.65 225.33L415.14 226.42L415.63 227.18L416.12 227.67L416.61 228.01L417.1 228.37L417.58 228.88L418.07 229.35L418.56 229.84L419.05 230.16L419.54 230.21L420.03 230.01L420.52 229.56L421.01 228.84L421.49 227.92L421.98 227.08L422.47 226.59L422.96 226.56L423.45 226.92L423.94 227.84L424.43 229.37L424.91 231.21L425.4 232.9L425.89 234.15L426.38 235.03L426.87 235.67L427.36 236.07L427.85 236.18L428.33 236.09L428.82 235.99L429.31 236.03L429.8 236.19L430.29 236.3L430.78 236.22L431.27 236.07L431.75 236.13L432.24 236.6L432.73 237.38L433.22 238.2L433.71 238.85L434.2 239.25L434.69 239.46L435.18 239.53L435.66 239.5L436.15 239.43L436.64 239.43L437.13 239.62L437.62 240.08L438.11 240.75L438.6 241.42L439.08 241.84L439.57 241.9L440.06 241.71L440.55 241.49L441.04 241.42L441.53 241.55L442.02 241.82L442.5 242.13L442.99 242.33L443.48 242.28L443.97 242.03L444.46 241.8L444.95 241.78L445.44 241.98L445.92 242.22L446.41 242.41L446.9 242.56L447.39 242.74L447.88 242.99L448.37 243.34L448.86 243.77L449.35 244.17L449.83 244.28L450.32 244.2L450.81 243.69L451.3 242.98L451.79 242.31L452.28 241.83L452.77 241.62L453.25 241.64L453.74 241.87L454.23 242.29L454.72 242.77L455.21 243.19L455.7 243.44L456.19 243.55L456.67 243.54L457.16 243.44L457.65 243.28L458.14 243.11L458.63 243L459.12 243.05L459.61 243.29L460.1 243.63L460.58 243.86L461.07 243.77L461.56 243.35L462.05 242.79L462.54 242.42L463.03 242.41L463.52 242.67L464 242.9L464.49 242.89L464.98 242.73L465.47 242.64L465.96 242.76L466.45 243.03L466.94 243.3L467.42 243.48L467.91 243.54L468.4 243.54L468.89 243.5L469.38 243.4L469.87 243.26L470.36 243.21L470.84 243.34L471.33 243.62L471.82 243.85L472.31 243.95L472.8 244.01L473.29 244.21L473.78 244.6L474.27 245.01L474.75 245.02L475.24 244.64L475.73 243.75L476.22 242.93L476.71 242.62L477.2 242.82L477.69 243.17L478.17 243.27L478.66 243.07L479.15 242.8L479.64 242.72L480.13 242.9L480.62 243.25L481.11 243.61L481.59 243.82L482.08 243.81L482.57 243.63L483.06 243.45L483.55 243.48L484.04 243.74L484.53 244.08L485.02 244.31L485.5 244.23L485.99 243.84L486.48 243.32L486.97 242.92L487.46 242.79L487.95 242.92L488.44 243.29L488.92 243.85L489.41 244.45L489.9 244.86L490.39 244.86L490.88 244.44L491.37 243.82L491.86 243.28L492.34 242.92L492.83 242.59L493.32 242.19L493.81 241.74L494.3 241.37L494.79 241.2L495.28 241.27L495.76 241.56L496.25 242L496.74 242.46L497.23 242.78L497.72 242.87L498.21 242.77L498.7 242.61L499.19 242.51L499.67 242.55L500.16 242.65L500.65 242.66L501.14 242.5L501.63 242.18L502.12 241.82L502.61 241.52L503.09 241.34L503.58 241.29L504.07 241.36L504.56 241.54L505.05 241.74L505.54 241.86L506.03 241.91L506.51 242L507 242.23L507.49 242.54L507.98 242.79L508.47 242.85L508.96 242.72L509.45 242.5L509.93 242.37L510.42 242.5L510.91 242.87L511.4 243.22L511.89 243.26L512.38 242.88L512.87 242.3L513.36 241.83L513.84 241.69L514.33 241.92L514.82 242.42L515.31 243.06L515.8 243.7L516.29 244.23L516.78 244.6L517.26 244.76L517.75 244.65L518.24 244.27L518.73 243.73L519.22 243.23L519.71 242.92L520.2 242.85L520.68 242.99L521.17 243.24L521.66 243.46L522.15 243.54L522.64 243.51L523.13 243.41L523.62 243.25L524.11 242.99L524.59 242.68L525.08 242.46L525.57 242.38L526.06 242.37L526.55 242.39L527.04 242.48L527.53 242.66L528.01 242.82L528.5 242.88L528.99 242.85L529.48 242.78L529.97 242.69L530.46 242.61L530.95 242.65L531.43 242.94L531.92 243.44L532.41 243.93L532.9 244.2L533.39 244.18L533.88 243.97L534.37 243.73L534.85 243.52L535.34 243.23L535.83 242.72L536.32 242.05L536.81 241.51L537.3 241.39L537.79 241.69L538.28 242.17L538.76 242.59L539.25 242.81L539.74 242.89L540.23 242.99L540.72 243.26L541.21 243.74L541.7 244.33L542.18 244.48L542.67 244.47L543.16 244.44L543.65 244.13L544.14 242.08L544.63 235.39L545.12 225.32L545.6 215.88L546.09 209.17L546.58 205.43L547.07 204.1L547.56 204.23L548.05 205.04L548.54 207.31L549.03 211.72L549.51 218.67L550 227.66L550.49 236.22L550.98 240.92L551.47 242.35L551.96 242.84L552.45 243.18L552.93 243.34L553.42 243.29L553.91 243.08L554.4 242.86L554.89 242.76L555.38 242.75L555.87 242.75L556.35 242.68L556.84 242.56L557.33 242.46L557.82 242.48L558.31 242.64L558.8 242.85L559.29 243.02L559.77 243.1L560.26 243.14L560.75 243.21L561.24 243.29L561.73 243.32L562.22 243.27L562.71 243.16L563.2 243.08L563.68 243.1L564.17 243.16L564.66 243.14L565.15 243L565.64 242.73L566.13 242.33L566.62 241.87L567.1 241.49L567.59 241.32L568.08 241.35L568.57 241.51L569.06 241.72L569.55 241.94L570.04 242.12L570.52 242.26L571.01 242.41L571.5 242.65L571.99 243.04L572.48 243.52L572.97 243.95L573.46 244.1L573.94 244.09L574.43 243.92L574.92 243.57L575.41 243.26L575.9 243.07L576.39 243L576.88 242.93L577.37 242.76L577.85 242.43L578.34 241.97L578.83 241.47L579.32 241.07L579.81 240.95L580.3 241.23L580.79 241.81L581.27 242.46L581.76 242.96L582.25 243.28L582.74 243.52L583.23 243.74L583.72 243.89L584.21 243.88L584.69 243.7L585.18 243.34L585.67 242.8L586.16 242.1L586.65 241.34L587.14 240.77L587.63 240.67L588.12 241.15L588.6 241.96L589.09 242.7L589.58 243.03L590.07 242.92L590.56 242.59L591.05 242.24L591.54 241.97L592.02 241.76L592.51 241.62L593 241.61L593.49 241.73L593.98 241.96L594.47 242.23L594.96 242.39L595.44 242.32L595.93 242.05L596.42 241.69L596.91 241.37L597.4 241.16L597.89 241.12L598.38 241.2L598.86 241.34L599.35 241.49L599.84 241.63L600.33 241.75L600.82 241.83L601.31 241.86L601.8 241.86L602.29 241.82L602.77 241.7L603.26 241.5L603.75 241.35L604.24 241.47L604.73 241.91L605.22 242.47L605.71 242.83L606.19 242.83L606.68 242.55L607.17 242.2L607.66 241.94L608.15 241.87L608.64 242.04L609.13 242.42L609.61 242.87L610.1 243.2L610.59 243.33L611.08 243.35L611.57 243.33L612.06 243.27L612.55 243.15L613.04 242.98L613.52 242.76L614.01 242.43L614.5 242L614.99 241.62L615.48 241.45L615.97 241.55L616.46 241.84L616.94 242.16L617.43 242.37L617.92 242.46L618.41 242.44L618.9 242.33L619.39 242.11L619.88 241.85L620.36 241.7L620.85 241.84L621.34 242.26L621.83 242.74L622.32 242.99L622.81 242.83L623.3 242.33L623.78 241.64L624.27 240.98L624.76 240.54L625.25 240.35L625.74 240.38L626.23 240.48L626.72 240.57L627.21 240.58L627.69 240.56L628.18 240.58L628.67 240.72L629.16 240.99L629.65 241.32L630.14 241.67L630.63 242.04L631.11 242.38L631.6 242.62L632.09 242.75L632.58 242.73L633.07 242.48L633.56 242.02L634.05 241.56L634.53 241.31L635.02 241.33L635.51 241.48L636 241.56L636.49 241.49L636.98 241.32L637.47 241.18L637.95 241.22L638.44 241.5L638.93 241.92L639.42 242.26L639.91 242.41L640.4 242.39L640.89 242.28L641.38 242.15L641.86 241.99L642.35 241.72L642.84 241.26L643.33 240.71L643.82 240.31L644.31 240.24L644.8 240.55L645.28 241.13L645.77 241.77L646.26 242.19L646.75 242.26L647.24 242.04L647.73 241.69L648.22 241.37L648.7 241.18L649.19 241.3L649.68 241.77L650.17 242.39L650.66 242.79L651.15 242.83L651.64 242.7L652.13 242.66L652.61 242.73L653.1 242.67L653.59 242.34L654.08 241.8L654.57 241.26L655.06 240.91L655.55 240.85L656.03 241.03L656.52 241.26L657.01 241.39L657.5 241.38L657.5 248.36L657.01 249.16L656.52 249.89L656.03 250.33L655.55 250.41L655.06 250.18L654.57 249.74L654.08 249.24L653.59 248.88L653.1 248.85L652.61 249.19L652.13 249.71L651.64 250.11L651.15 250.16L650.66 249.82L650.17 249.22L649.68 248.6L649.19 248.17L648.7 247.99L648.22 248.03L647.73 248.16L647.24 248.28L646.75 248.33L646.26 248.38L645.77 248.47L645.28 248.67L644.8 248.91L644.31 249.04L643.82 248.94L643.33 248.74L642.84 248.7L642.35 248.99L641.86 249.53L641.38 250.02L640.89 250.23L640.4 250.1L639.91 249.79L639.42 249.51L638.93 249.32L638.44 249.2L637.95 249.11L637.47 249.11L636.98 249.2L636.49 249.28L636 249.18L635.51 248.88L635.02 248.6L634.53 248.54L634.05 248.67L633.56 248.78L633.07 248.7L632.58 248.41L632.09 247.99L631.6 247.53L631.11 247.16L630.63 247.05L630.14 247.31L629.65 247.96L629.16 248.82L628.67 249.63L628.18 250.17L627.69 250.37L627.21 250.26L626.72 249.92L626.23 249.39L625.74 248.76L625.25 248.3L624.76 248.25L624.27 248.59L623.78 248.96L623.3 249.03L622.81 248.78L622.32 248.48L621.83 248.45L621.34 248.75L620.85 249.17L620.36 249.45L619.88 249.46L619.39 249.37L618.9 249.36L618.41 249.46L617.92 249.56L617.43 249.47L616.94 249.15L616.46 248.73L615.97 248.45L615.48 248.43L614.99 248.67L614.5 248.99L614.01 249.23L613.52 249.29L613.04 249.25L612.55 249.19L612.06 249.07L611.57 248.83L611.08 248.51L610.59 248.31L610.1 248.35L609.61 248.56L609.13 248.82L608.64 249.06L608.15 249.25L607.66 249.33L607.17 249.22L606.68 248.94L606.19 248.62L605.71 248.47L605.22 248.65L604.73 249.14L604.24 249.74L603.75 250.17L603.26 250.28L602.77 250.09L602.29 249.79L601.8 249.58L601.31 249.57L600.82 249.76L600.33 250.04L599.84 250.23L599.35 250.17L598.86 249.86L598.38 249.39L597.89 248.92L597.4 248.62L596.91 248.56L596.42 248.76L595.93 249.08L595.44 249.35L594.96 249.5L594.47 249.57L593.98 249.65L593.49 249.74L593 249.78L592.51 249.77L592.02 249.81L591.54 249.94L591.05 250.1L590.56 250.19L590.07 250.15L589.58 250L589.09 249.84L588.6 249.8L588.12 249.9L587.63 250.1L587.14 250.29L586.65 250.38L586.16 250.33L585.67 250.15L585.18 249.89L584.69 249.59L584.21 249.29L583.72 249.04L583.23 248.9L582.74 248.94L582.25 249.13L581.76 249.3L581.27 249.31L580.79 249.11L580.3 248.82L579.81 248.69L579.32 248.82L578.83 249.16L578.34 249.49L577.85 249.67L577.37 249.71L576.88 249.71L576.39 249.71L575.9 249.68L575.41 249.63L574.92 249.58L574.43 249.56L573.94 249.53L573.46 249.44L572.97 249.23L572.48 248.88L571.99 248.5L571.5 248.27L571.01 248.26L570.52 248.41L570.04 248.57L569.55 248.63L569.06 248.61L568.57 248.72L568.08 249.1L567.59 249.61L567.1 249.94L566.62 249.87L566.13 249.49L565.64 249.1L565.15 248.86L564.66 248.7L564.17 248.48L563.68 248.21L563.2 248.09L562.71 248.22L562.22 248.5L561.73 248.75L561.24 248.95L560.75 249.18L560.26 249.46L559.77 249.67L559.29 249.67L558.8 249.49L558.31 249.24L557.82 249L557.33 248.8L556.84 248.71L556.35 248.79L555.87 249.01L555.38 249.23L554.89 249.38L554.4 249.42L553.91 249.37L553.42 249.28L552.93 249.33L552.45 249.68L551.96 250.26L551.47 250.64L550.98 249.54L550.49 244.3L550 234.61L549.51 224.52L549.03 216.85L548.54 212.15L548.05 209.97L547.56 209.52L547.07 209.9L546.58 211.81L546.09 216.16L545.6 223.43L545.12 233.2L544.63 243.1L544.14 248.99L543.65 250.26L543.16 249.85L542.67 249.31L542.18 249L541.7 248.96L541.21 249.1L540.72 249.28L540.23 249.42L539.74 249.55L539.25 249.71L538.76 249.88L538.28 249.97L537.79 249.89L537.3 249.65L536.81 249.35L536.32 249.13L535.83 249.08L535.34 249.19L534.85 249.35L534.37 249.46L533.88 249.45L533.39 249.36L532.9 249.24L532.41 249.12L531.92 249.01L531.43 249L530.95 249.2L530.46 249.67L529.97 250.27L529.48 250.72L528.99 250.87L528.5 250.77L528.01 250.58L527.53 250.43L527.04 250.29L526.55 250.06L526.06 249.68L525.57 249.22L525.08 248.83L524.59 248.68L524.11 248.75L523.62 248.88L523.13 248.91L522.64 248.89L522.15 248.98L521.66 249.2L521.17 249.39L520.68 249.4L520.2 249.31L519.71 249.35L519.22 249.69L518.73 250.21L518.24 250.67L517.75 250.96L517.26 251.12L516.78 251.18L516.29 251.1L515.8 250.86L515.31 250.52L514.82 250.13L514.33 249.73L513.84 249.33L513.36 248.99L512.87 248.77L512.38 248.72L511.89 248.87L511.4 249.16L510.91 249.47L510.42 249.7L509.93 249.85L509.45 250.03L508.96 250.29L508.47 250.49L507.98 250.47L507.49 250.23L507 249.94L506.51 249.8L506.03 249.85L505.54 249.98L505.05 250.03L504.56 249.86L504.07 249.48L503.58 249.07L503.09 248.79L502.61 248.69L502.12 248.61L501.63 248.61L501.14 248.61L500.65 248.62L500.16 248.62L499.67 248.63L499.19 248.63L498.7 248.98L498.21 249.08L497.72 249.13L497.23 249.41L496.74 249.97L496.25 250.67L495.76 251.26L495.28 251.55L494.79 251.53L494.3 251.38L493.81 251.33L493.32 251.49L492.83 251.71L492.34 251.77L491.86 251.54L491.37 251.16L490.88 250.87L490.39 250.9L489.9 251.25L489.41 251.68L488.92 251.86L488.44 251.63L487.95 251.15L487.46 250.68L486.97 250.47L486.48 250.6L485.99 250.97L485.5 251.41L485.02 251.68L484.53 251.73L484.04 251.64L483.55 251.52L483.06 251.4L482.57 251.23L482.08 251.04L481.59 250.89L481.11 250.84L480.62 250.78L480.13 250.65L479.64 250.45L479.15 250.32L478.66 250.36L478.17 250.51L477.69 250.66L477.2 250.77L476.71 250.83L476.22 250.81L475.73 250.65L475.24 250.39L474.75 250.24L474.27 250.37L473.78 250.69L473.29 250.94L472.8 250.86L472.31 250.41L471.82 249.79L471.33 249.33L470.84 249.32L470.36 249.83L469.87 250.68L469.38 251.49L468.89 252.02L468.4 252.24L467.91 252.23L467.42 252.08L466.94 251.86L466.45 251.59L465.96 251.29L465.47 251.01L464.98 250.85L464.49 250.91L464 251.16L463.52 251.45L463.03 251.58L462.54 251.44L462.05 251.13L461.56 250.82L461.07 250.54L460.58 250.21L460.1 249.8L459.61 249.43L459.12 249.26L458.63 249.31L458.14 249.45L457.65 249.55L457.16 249.59L456.67 249.71L456.19 249.99L455.7 250.35L455.21 250.59L454.72 250.57L454.23 250.26L453.74 249.77L453.25 249.28L452.77 249.03L452.28 249.19L451.79 249.71L451.3 250.3L450.81 250.65L450.32 250.71L449.83 250.65L449.35 250.56L448.86 250.36L448.37 249.94L447.88 249.34L447.39 248.75L446.9 248.32L446.41 248.05L445.92 247.87L445.44 247.68L444.95 247.47L444.46 247.27L443.97 247.17L443.48 247.17L442.99 247.19L442.5 247.16L442.02 247.15L441.53 247.21L441.04 247.28L440.55 247.17L440.06 246.8L439.57 246.34L439.08 246.04L438.6 246.01L438.11 246.09L437.62 246.07L437.13 245.89L436.64 245.65L436.15 245.45L435.66 245.26L435.18 244.96L434.69 244.57L434.2 244.27L433.71 244.24L433.22 244.42L432.73 244.58L432.24 244.47L431.75 244.1L431.27 243.7L430.78 243.49L430.29 243.47L429.8 243.52L429.31 243.46L428.82 243.2L428.33 242.75L427.85 242.24L427.36 241.79L426.87 241.39L426.38 240.97L425.89 240.4L425.4 239.51L424.91 238.24L424.43 236.82L423.94 235.72L423.45 235.17L422.96 235.03L422.47 235L421.98 235.23L421.49 235.73L421.01 236.29L420.52 236.65L420.03 236.84L419.54 237.04L419.05 237.3L418.56 237.44L418.07 237.28L417.58 236.73L417.1 235.73L416.61 234.66L416.12 233.63L415.63 232.72L415.14 231.92L414.65 231.25L414.16 230.65L413.68 230.03L413.19 229.26L412.7 228.31L412.21 227.31L411.72 226.46L411.23 225.83L410.74 225.06L410.26 224.19L409.77 223.21L409.28 222.18L408.79 221.18L408.3 220.29L407.81 219.45L407.32 218.58L406.83 217.59L406.35 216.41L405.86 215.02L405.37 213.47L404.88 211.81L404.39 210.2L403.9 208.79L403.41 207.62L402.93 206.59L402.44 205.48L401.95 204.16L401.46 202.11L400.97 198.72L400.48 195.37L399.99 190.65L399.51 180.03Z" fill="#4E418A" stroke="#4E418A" stroke-width="1.6"/>
<path d="M120.5 245.35L120.99 245.35L121.48 245.35L121.97 245.35L122.45 245.35L122.94 245.35L123.43 245.35L123.92 245.35L124.41 245.36L124.9 245.36L125.39 245.36L125.87 245.36L126.36 245.36L126.85 245.36L127.34 245.36L127.83 245.36L128.32 245.36L128.81 245.36L129.3 245.36L129.78 245.36L130.27 245.36L130.76 245.37L131.25 245.37L131.74 245.37L132.23 245.37L132.72 245.37L133.2 245.37L133.69 245.37L134.18 245.37L134.67 245.37L135.16 245.37L135.65 245.37L136.14 245.37L136.62 245.37L137.11 245.38L137.6 245.38L138.09 245.38L138.58 245.38L139.07 245.38L139.56 245.38L140.05 245.38L140.53 245.39L141.02 245.39L141.51 245.4L142 245.4L142.49 245.41L142.98 245.41L143.47 245.42L143.95 245.42L144.44 245.43L144.93 245.43L145.42 245.44L145.91 245.44L146.4 245.45L146.89 245.46L147.37 245.46L147.86 245.47L148.35 245.47L148.84 245.48L149.33 245.48L149.82 245.49L150.31 245.49L150.79 245.5L151.28 245.5L151.77 245.51L152.26 245.52L152.75 245.52L153.24 245.53L153.73 245.53L154.22 245.54L154.7 245.54L155.19 245.55L155.68 245.55L156.17 245.56L156.66 245.56L157.15 245.57L157.64 245.57L158.12 245.58L158.61 245.59L159.1 245.59L159.59 245.6L160.08 245.6L160.57 245.61L161.06 245.61L161.54 245.62L162.03 245.62L162.52 245.63L163.01 245.63L163.5 245.64L163.99 245.64L164.48 245.65L164.96 245.66L165.45 245.66L165.94 245.67L166.43 245.67L166.92 245.68L167.41 245.68L167.9 245.69L168.39 245.69L168.87 245.7L169.36 245.7L169.85 245.71L170.34 245.71L170.83 245.72L171.32 245.73L171.81 245.73L172.29 245.74L172.78 245.74L173.27 245.75L173.76 245.75L174.25 245.76L174.74 245.76L175.23 245.77L175.71 245.77L176.2 245.78L176.69 245.78L177.18 245.79L177.67 245.8L178.16 245.8L178.65 245.81L179.14 245.81L179.62 245.82L180.11 245.82L180.6 245.83L181.09 245.83L181.58 245.84L182.07 245.84L182.56 245.85L183.04 245.85L183.53 245.86L184.02 245.87L184.51 245.87L185 245.88L185.49 245.88L185.98 245.89L186.46 245.89L186.95 245.9L187.44 245.9L187.93 245.91L188.42 245.91L188.91 245.92L189.4 245.92L189.88 245.93L190.37 245.94L190.86 245.94L191.35 245.95L191.84 245.95L192.33 245.96L192.82 245.96L193.31 245.97L193.79 245.97L194.28 245.98L194.77 245.98L195.26 245.99L195.75 245.99L196.24 246L196.73 246L197.21 246.01L197.7 246.01L198.19 246.02L198.68 246.02L199.17 246.03L199.66 246.03L200.15 246.04L200.63 246.04L201.12 246.05L201.61 246.05L202.1 246.06L202.59 246.07L203.08 246.07L203.57 246.08L204.06 246.08L204.54 246.09L205.03 246.09L205.52 246.1L206.01 246.1L206.5 246.11L206.99 246.11L207.48 246.12L207.96 246.12L208.45 246.13L208.94 246.13L209.43 246.14L209.92 246.14L210.41 246.15L210.9 246.15L211.38 246.16L211.87 246.16L212.36 246.17L212.85 246.17L213.34 246.18L213.83 246.18L214.32 246.19L214.8 246.19L215.29 246.2L215.78 246.2L216.27 246.21L216.76 246.21L217.25 246.22L217.74 246.22L218.23 246.23L218.71 246.23L219.2 246.24L219.69 246.24L220.18 246.24L220.67 246.25L221.16 246.25L221.65 246.26L222.13 246.26L222.62 246.27L223.11 246.27L223.6 246.28L224.09 246.28L224.58 246.29L225.07 246.29L225.55 246.3L226.04 246.3L226.53 246.31L227.02 246.31L227.51 246.32L228 246.32L228.49 246.33L228.97 246.33L229.46 246.34L229.95 246.34L230.44 246.35L230.93 246.35L231.42 246.36L231.91 246.36L232.4 246.37L232.88 246.37L233.37 246.38L233.86 246.38L234.35 246.38L234.84 246.39L235.33 246.39L235.82 246.4L236.3 246.4L236.79 246.41L237.28 246.41L237.77 246.38L238.26 246.17L238.75 245.31L239.24 243.17L239.72 239.92L240.21 236.69L240.7 234.48L241.19 233.5L241.68 233.36L242.17 233.7L242.66 235.06L243.15 237.68L243.63 241.06L244.12 244.07L244.61 245.76L245.1 246.35L245.59 246.47L246.08 246.5L246.57 246.5L247.05 246.51L247.54 246.51L248.03 246.51L248.52 246.52L249.01 246.52L249.5 246.53L249.99 246.53L250.47 246.54L250.96 246.54L251.45 246.55L251.94 246.55L252.43 246.55L252.92 246.56L253.41 246.56L253.89 246.57L254.38 246.57L254.87 246.58L255.36 246.58L255.85 246.59L256.34 246.59L256.83 246.59L257.32 246.6L257.8 246.6L258.29 246.61L258.78 246.61L259.27 246.62L259.76 246.62L260.25 246.62L260.74 246.63L261.22 246.63L261.71 246.64L262.2 246.64L262.69 246.65L263.18 246.65L263.67 246.65L264.16 246.66L264.64 246.66L265.13 246.67L265.62 246.67L266.11 246.67L266.6 246.68L267.09 246.68L267.58 246.69L268.07 246.69L268.55 246.69L269.04 246.7L269.53 246.7L270.02 246.71L270.51 246.71L271 246.71L271.49 246.72L271.97 246.72L272.46 246.73L272.95 246.73L273.44 246.73L273.93 246.74L274.42 246.74L274.91 246.75L275.39 246.75L275.88 246.75L276.37 246.76L276.86 246.76L277.35 246.76L277.84 246.77L278.33 246.77L278.81 246.78L279.3 246.78L279.79 246.78L280.28 246.79L280.77 246.79L281.26 246.79L281.75 246.8L282.24 246.8L282.72 246.8L283.21 246.81L283.7 246.81L284.19 246.81L284.68 246.82L285.17 246.82L285.66 246.82L286.14 246.83L286.63 246.83L287.12 246.83L287.61 246.84L288.1 246.84L288.59 246.84L289.08 246.85L289.56 246.85L290.05 246.85L290.54 246.86L291.03 246.86L291.52 246.86L292.01 246.87L292.5 246.87L292.98 246.87L293.47 246.88L293.96 246.88L294.45 246.88L294.94 246.89L295.43 246.89L295.92 246.89L296.41 246.89L296.89 246.9L297.38 246.9L297.87 246.9L298.36 246.91L298.85 246.91L299.34 246.91L299.83 246.91L300.31 246.92L300.8 246.92L301.29 246.92L301.78 246.92L302.27 246.93L302.76 246.93L303.25 246.93L303.73 246.93L304.22 246.94L304.71 246.94L305.2 246.94L305.69 246.94L306.18 246.93L306.67 246.93L307.16 246.93L307.64 246.93L308.13 246.93L308.62 246.92L309.11 246.92L309.6 246.92L310.09 246.92L310.58 246.91L311.06 246.91L311.55 246.91L312.04 246.9L312.53 246.9L313.02 246.9L313.51 246.89L314 246.89L314.48 246.88L314.97 246.88L315.46 246.87L315.95 246.87L316.44 246.86L316.93 246.86L317.42 246.85L317.9 246.84L318.39 246.84L318.88 246.83L319.37 246.82L319.86 246.82L320.35 246.8L320.84 246.79L321.33 246.78L321.81 246.77L322.3 246.75L322.79 246.74L323.28 246.72L323.77 246.71L324.26 246.69L324.75 246.68L325.23 246.66L325.72 246.65L326.21 246.63L326.7 246.61L327.19 246.6L327.68 246.58L328.17 246.56L328.65 246.54L329.14 246.53L329.63 246.51L330.12 246.49L330.61 246.47L331.1 246.45L331.59 246.43L332.08 246.41L332.56 246.39L333.05 246.36L333.54 246.34L334.03 246.32L334.52 246.29L335.01 246.27L335.5 246.25L335.98 246.22L336.47 246.2L336.96 246.17L337.45 246.14L337.94 246.12L338.43 246.09L338.92 246.06L339.4 246.03L339.89 245.98L340.38 245.92L340.87 245.85L341.36 245.77L341.85 245.7L342.34 245.62L342.82 245.54L343.31 245.45L343.8 245.36L344.29 245.27L344.78 245.17L345.27 245.07L345.76 244.97L346.25 244.86L346.73 244.74L347.22 244.62L347.71 244.5L348.2 244.37L348.69 244.24L349.18 244.1L349.67 243.96L350.15 243.81L350.64 243.65L351.13 243.49L351.62 243.32L352.11 243.15L352.6 242.97L353.09 242.79L353.57 242.59L354.06 242.4L354.55 242.19L355.04 241.98L355.53 241.76L356.02 241.53L356.51 241.3L356.99 241.06L357.48 240.81L357.97 240.58L358.46 240.36L358.95 240.12L359.44 239.89L359.93 239.64L360.42 239.39L360.9 239.14L361.39 238.87L361.88 238.61L362.37 238.31L362.86 237.94L363.35 237.35L363.84 236.38L364.32 235.09L364.81 233.85L365.3 232.97L365.79 232.51L366.28 232.28L366.77 232.28L367.26 232.67L367.74 233.28L368.23 233.8L368.72 233.97L369.21 233.83L369.7 233.52L370.19 233.17L370.68 232.8L371.17 232.42L371.65 232.02L372.14 231.44L372.63 230.85L373.12 230.25L373.61 229.64L374.1 229.02L374.59 228.39L375.07 227.75L375.56 227.1L376.05 226.44L376.54 225.77L377.03 225.1L377.52 224.41L378.01 223.72L378.49 222.7L378.98 221.59L379.47 220.46L379.96 219.31L380.45 218.15L380.94 216.98L381.43 215.8L381.91 214.6L382.4 213.39L382.89 212.18L383.38 210.96L383.87 209.72L384.36 208.47L384.85 207.2L385.34 205.92L385.82 204.63L386.31 203.34L386.8 202.05L387.29 200.75L387.78 198.8L388.27 195.74L388.76 192.67L389.24 187.57L389.73 176.85L390.22 163.99L390.71 145.53L391.2 121.63L391.69 88.93L392.18 64.57L392.66 41.44L393.15 28.86L393.64 20.83L394.13 18.25L394.62 15.87L395.11 18.45L395.6 21.03L396.09 29.53L396.57 43.25L397.06 66.39L397.55 91.5L398.04 124.2L398.53 147.24L399.02 165.01L399.51 177.86L399.99 188.35L400.48 192.91L400.97 195.99L401.46 199.04L401.95 200.85L402.44 202.15L402.93 203.44L403.41 204.73L403.9 206.02L404.39 207.3L404.88 208.57L405.37 209.82L405.86 211.05L406.35 212.28L406.83 213.49L407.32 214.7L407.81 215.89L408.3 217.07L408.79 218.25L409.28 219.4L409.77 220.55L410.26 221.68L410.74 222.79L411.23 223.78L411.72 224.47L412.21 225.16L412.7 225.83L413.19 226.5L413.68 227.16L414.16 227.81L414.65 228.45L415.14 229.08L415.63 229.7L416.12 230.31L416.61 230.91L417.1 231.5L417.58 232.08L418.07 232.47L418.56 232.84L419.05 233.21L419.54 233.54L420.03 233.76L420.52 233.67L421.01 233.11L421.49 232.26L421.98 231.52L422.47 231.2L422.96 231.3L423.45 231.61L423.94 232.34L424.43 233.61L424.91 235.19L425.4 236.59L425.89 237.52L426.38 238.04L426.87 238.38L427.36 238.66L427.85 238.93L428.33 239.19L428.82 239.45L429.31 239.7L429.8 239.94L430.29 240.18L430.78 240.41L431.27 240.64L431.75 240.87L432.24 241.12L432.73 241.36L433.22 241.6L433.71 241.82L434.2 242.04L434.69 242.26L435.18 242.46L435.66 242.66L436.15 242.85L436.64 243.04L437.13 243.22L437.62 243.39L438.11 243.56L438.6 243.72L439.08 243.88L439.57 244.03L440.06 244.17L440.55 244.31L441.04 244.45L441.53 244.58L442.02 244.7L442.5 244.82L442.99 244.94L443.48 245.05L443.97 245.15L444.46 245.26L444.95 245.35L445.44 245.45L445.92 245.54L446.41 245.62L446.9 245.71L447.39 245.79L447.88 245.86L448.37 245.94L448.86 246.01L449.35 246.07L449.83 246.12L450.32 246.15L450.81 246.18L451.3 246.21L451.79 246.24L452.28 246.27L452.77 246.29L453.25 246.32L453.74 246.34L454.23 246.37L454.72 246.4L455.21 246.42L455.7 246.44L456.19 246.47L456.67 246.49L457.16 246.51L457.65 246.53L458.14 246.56L458.63 246.58L459.12 246.6L459.61 246.62L460.1 246.64L460.58 246.65L461.07 246.66L461.56 246.67L462.05 246.68L462.54 246.7L463.03 246.71L463.52 246.72L464 246.73L464.49 246.74L464.98 246.75L465.47 246.76L465.96 246.76L466.45 246.77L466.94 246.78L467.42 246.79L467.91 246.8L468.4 246.8L468.89 246.81L469.38 246.82L469.87 246.82L470.36 246.83L470.84 246.83L471.33 246.84L471.82 246.84L472.31 246.85L472.8 246.85L473.29 246.86L473.78 246.86L474.27 246.87L474.75 246.87L475.24 246.87L475.73 246.88L476.22 246.88L476.71 246.88L477.2 246.89L477.69 246.89L478.17 246.89L478.66 246.89L479.15 246.89L479.64 246.9L480.13 246.9L480.62 246.9L481.11 246.9L481.59 246.9L482.08 246.9L482.57 246.9L483.06 246.9L483.55 246.9L484.04 246.9L484.53 246.9L485.02 246.9L485.5 246.9L485.99 246.89L486.48 246.89L486.97 246.88L487.46 246.88L487.95 246.88L488.44 246.87L488.92 246.87L489.41 246.87L489.9 246.86L490.39 246.86L490.88 246.85L491.37 246.85L491.86 246.85L492.34 246.84L492.83 246.84L493.32 246.83L493.81 246.83L494.3 246.83L494.79 246.82L495.28 246.82L495.76 246.81L496.25 246.81L496.74 246.8L497.23 246.8L497.72 246.8L498.21 246.79L498.7 246.79L499.19 246.78L499.67 246.78L500.16 246.77L500.65 246.77L501.14 246.77L501.63 246.76L502.12 246.76L502.61 246.75L503.09 246.75L503.58 246.74L504.07 246.74L504.56 246.73L505.05 246.73L505.54 246.72L506.03 246.72L506.51 246.71L507 246.71L507.49 246.71L507.98 246.7L508.47 246.7L508.96 246.69L509.45 246.69L509.93 246.68L510.42 246.68L510.91 246.67L511.4 246.67L511.89 246.66L512.38 246.66L512.87 246.65L513.36 246.65L513.84 246.64L514.33 246.64L514.82 246.63L515.31 246.63L515.8 246.62L516.29 246.62L516.78 246.61L517.26 246.61L517.75 246.6L518.24 246.6L518.73 246.59L519.22 246.59L519.71 246.58L520.2 246.58L520.68 246.57L521.17 246.57L521.66 246.56L522.15 246.56L522.64 246.55L523.13 246.54L523.62 246.54L524.11 246.53L524.59 246.53L525.08 246.52L525.57 246.52L526.06 246.51L526.55 246.51L527.04 246.5L527.53 246.5L528.01 246.49L528.5 246.49L528.99 246.48L529.48 246.48L529.97 246.47L530.46 246.46L530.95 246.46L531.43 246.45L531.92 246.45L532.41 246.44L532.9 246.44L533.39 246.43L533.88 246.43L534.37 246.42L534.85 246.41L535.34 246.41L535.83 246.4L536.32 246.4L536.81 246.39L537.3 246.39L537.79 246.38L538.28 246.38L538.76 246.37L539.25 246.36L539.74 246.36L540.23 246.35L540.72 246.35L541.21 246.34L541.7 246.34L542.18 246.33L542.67 246.32L543.16 246.29L543.65 245.98L544.14 244.08L544.63 238.05L545.12 228.58L545.6 219.55L546.09 213L546.58 209.17L547.07 207.56L547.56 207.32L548.05 207.79L548.54 209.87L549.03 214.32L549.51 221.53L550 230.95L550.49 239.91L550.98 244.76L551.47 246.03L551.96 246.2L552.45 246.21L552.93 246.2L553.42 246.2L553.91 246.19L554.4 246.18L554.89 246.18L555.38 246.17L555.87 246.17L556.35 246.16L556.84 246.16L557.33 246.15L557.82 246.14L558.31 246.14L558.8 246.13L559.29 246.13L559.77 246.12L560.26 246.11L560.75 246.11L561.24 246.1L561.73 246.1L562.22 246.09L562.71 246.08L563.2 246.08L563.68 246.07L564.17 246.07L564.66 246.06L565.15 246.05L565.64 246.05L566.13 246.04L566.62 246.03L567.1 246.03L567.59 246.02L568.08 246.02L568.57 246.01L569.06 246L569.55 246L570.04 245.99L570.52 245.99L571.01 245.98L571.5 245.97L571.99 245.97L572.48 245.96L572.97 245.96L573.46 245.95L573.94 245.94L574.43 245.94L574.92 245.93L575.41 245.92L575.9 245.92L576.39 245.91L576.88 245.91L577.37 245.9L577.85 245.89L578.34 245.89L578.83 245.88L579.32 245.88L579.81 245.87L580.3 245.86L580.79 245.86L581.27 245.85L581.76 245.84L582.25 245.84L582.74 245.83L583.23 245.83L583.72 245.82L584.21 245.81L584.69 245.81L585.18 245.8L585.67 245.79L586.16 245.79L586.65 245.78L587.14 245.78L587.63 245.77L588.12 245.76L588.6 245.76L589.09 245.75L589.58 245.74L590.07 245.74L590.56 245.73L591.05 245.73L591.54 245.72L592.02 245.71L592.51 245.71L593 245.7L593.49 245.69L593.98 245.69L594.47 245.68L594.96 245.68L595.44 245.67L595.93 245.66L596.42 245.66L596.91 245.65L597.4 245.64L597.89 245.64L598.38 245.63L598.86 245.62L599.35 245.62L599.84 245.61L600.33 245.6L600.82 245.6L601.31 245.59L601.8 245.58L602.29 245.58L602.77 245.57L603.26 245.56L603.75 245.56L604.24 245.55L604.73 245.54L605.22 245.54L605.71 245.53L606.19 245.52L606.68 245.52L607.17 245.51L607.66 245.5L608.15 245.5L608.64 245.49L609.13 245.48L609.61 245.48L610.1 245.47L610.59 245.46L611.08 245.46L611.57 245.45L612.06 245.45L612.55 245.44L613.04 245.43L613.52 245.43L614.01 245.42L614.5 245.41L614.99 245.41L615.48 245.4L615.97 245.39L616.46 245.39L616.94 245.38L617.43 245.37L617.92 245.37L618.41 245.36L618.9 245.35L619.39 245.35L619.88 245.34L620.36 245.33L620.85 245.33L621.34 245.32L621.83 245.31L622.32 245.31L622.81 245.3L623.3 245.29L623.78 245.29L624.27 245.28L624.76 245.27L625.25 245.27L625.74 245.26L626.23 245.25L626.72 245.25L627.21 245.24L627.69 245.24L628.18 245.23L628.67 245.22L629.16 245.22L629.65 245.21L630.14 245.2L630.63 245.2L631.11 245.19L631.6 245.18L632.09 245.18L632.58 245.17L633.07 245.16L633.56 245.16L634.05 245.15L634.53 245.14L635.02 245.14L635.51 245.13L636 245.12L636.49 245.12L636.98 245.11L637.47 245.1L637.95 245.1L638.44 245.09L638.93 245.08L639.42 245.08L639.91 245.07L640.4 245.07L640.89 245.07L641.38 245.07L641.86 245.07L642.35 245.07L642.84 245.07L643.33 245.06L643.82 245.06L644.31 245.06L644.8 245.06L645.28 245.06L645.77 245.06L646.26 245.06L646.75 245.06L647.24 245.06L647.73 245.06L648.22 245.06L648.7 245.06L649.19 245.06L649.68 245.05L650.17 245.05L650.66 245.05L651.15 245.05L651.64 245.05L652.13 245.05L652.61 245.05L653.1 245.05L653.59 245.05L654.08 245.05L654.57 245.05L655.06 245.05L655.55 245.05L656.03 245.04L656.52 245.04L657.01 245.04L657.5 245.04" stroke="#4E418A" stroke-width="3.3" stroke-dasharray="11.4 5.7" stroke-linecap="butt"/>
</g>
<rect x="95" y="7" width="589" height="261.3" fill="none" stroke="#000" stroke-width="1.7" stroke-linejoin="miter"/>
<line x1="87.7" y1="66.1" x2="95" y2="66.1" stroke="#000" stroke-width="1.7"/>
<text transform="translate(81.4 74.7) scale(1 1.05)" text-anchor="end" class="t"><tspan dy="1.2">−</tspan><tspan dy="-1.2">60</tspan></text>
<line x1="87.7" y1="128.24" x2="95" y2="128.24" stroke="#000" stroke-width="1.7"/>
<text transform="translate(81.4 136.84) scale(1 1.05)" text-anchor="end" class="t"><tspan dy="1.2">−</tspan><tspan dy="-1.2">80</tspan></text>
<line x1="87.7" y1="190.38" x2="95" y2="190.38" stroke="#000" stroke-width="1.7"/>
<text transform="translate(81.4 198.98) scale(1 1.05)" text-anchor="end" class="t"><tspan dy="1.2">−</tspan><tspan dy="-1.2">100</tspan></text>
<line x1="87.7" y1="252.52" x2="95" y2="252.52" stroke="#000" stroke-width="1.7"/>
<text transform="translate(81.4 261.12) scale(1 1.05)" text-anchor="end" class="t"><tspan dy="1.2">−</tspan><tspan dy="-1.2">120</tspan></text>
<line x1="157.1" y1="268.3" x2="157.1" y2="275.6" stroke="#000" stroke-width="1.7"/>
<text transform="translate(157.6 302.8) scale(1 1.05)" text-anchor="middle" class="t">1208.750</text>
<line x1="394.5" y1="268.3" x2="394.5" y2="275.6" stroke="#000" stroke-width="1.7"/>
<text transform="translate(395 302.8) scale(1 1.05)" text-anchor="middle" class="t">1208.781</text>
<line x1="631.9" y1="268.3" x2="631.9" y2="275.6" stroke="#000" stroke-width="1.7"/>
<text transform="translate(632.4 302.8) scale(1 1.05)" text-anchor="middle" class="t">1208.812</text>
<rect x="556.5" y="18" width="116.5" height="67.2" rx="4.2" ry="4.2" fill="#fff" fill-opacity="0.8" stroke="#ccc" stroke-width="1.7"/>
<line x1="563" y1="35.1" x2="608.4" y2="35.1" stroke="#EC5759" stroke-width="3.8"/>
<line x1="564.2" y1="65.8" x2="608.4" y2="65.8" stroke="#4E418A" stroke-width="3.1" stroke-dasharray="11.4 5.7"/>
<text transform="translate(618 41.2) scale(1 1.05)" text-anchor="start" class="t">10V</text>
<text transform="translate(617.5 72) scale(1 1.05)" text-anchor="start" class="t">0V</text>
<text x="-0.8" y="16.6" class="bl" font-size="29.2">a</text>
<text x="-0.9" y="368.6" class="bl" font-size="29.2">b</text>
<clipPath id="cb1"><rect x="95" y="357.9" width="589" height="260.9"/></clipPath>
<g clip-path="url(#cb1)" fill="none" stroke-linejoin="round" stroke-linecap="round">
<path d="M120.5 592.13L120.99 592.23L121.48 592.19L121.97 592.09L122.46 592.02L122.94 591.93L123.43 591.67L123.92 591.2L124.41 590.7L124.9 590.46L125.39 590.56L125.88 590.97L126.37 591.59L126.86 592.25L127.34 592.7L127.83 592.69L128.32 592.25L128.81 591.66L129.3 591.28L129.79 591.28L130.28 591.51L130.77 591.64L131.26 591.5L131.74 591.17L132.23 590.9L132.72 590.89L133.21 591.22L133.7 591.77L134.19 592.32L134.68 592.6L135.17 592.45L135.66 591.86L136.14 591.11L136.63 590.56L137.12 590.41L137.61 590.65L138.1 591.08L138.59 591.47L139.08 591.65L139.57 591.68L140.06 591.72L140.54 591.9L141.03 592.11L141.52 592.16L142.01 592L142.5 591.78L142.99 591.68L143.48 591.75L143.97 591.85L144.46 591.81L144.94 591.52L145.43 591.03L145.92 590.46L146.41 589.97L146.9 589.63L147.39 589.57L147.88 589.86L148.37 590.34L148.86 590.74L149.35 590.97L149.83 591.25L150.32 591.81L150.81 592.54L151.3 593.08L151.79 593.15L152.28 592.73L152.77 591.95L153.26 591.02L153.75 590.24L154.23 589.74L154.72 589.21L155.21 588.25L155.7 586.91L156.19 585.65L156.68 584.82L157.17 584.43L157.66 584.39L158.15 585.13L158.63 586.72L159.12 588.64L159.61 590.12L160.1 590.79L160.59 590.91L161.08 590.82L161.57 590.59L162.06 590.19L162.55 589.7L163.03 589.39L163.52 589.55L164.01 590.23L164.5 591.15L164.99 591.88L165.48 592.09L165.97 591.73L166.46 591.11L166.95 590.71L167.43 590.89L167.92 591.57L168.41 592.35L168.9 592.88L169.39 593.19L169.88 593.5L170.37 593.96L170.86 594.43L171.35 594.43L171.83 594.43L172.32 594.29L172.81 593.57L173.3 592.83L173.79 592.3L174.28 592.13L174.77 592.25L175.26 592.38L175.75 592.21L176.23 591.71L176.72 591.29L177.21 591.39L177.7 591.99L178.19 592.62L178.68 592.84L179.17 592.66L179.66 592.36L180.15 592.2L180.63 592.19L181.12 592.14L181.61 591.87L182.1 591.44L182.59 591.08L183.08 591.04L183.57 591.37L184.06 591.98L184.55 592.71L185.03 593.41L185.52 593.85L186.01 593.86L186.5 593.44L186.99 592.85L187.48 592.45L187.97 592.45L188.46 592.8L188.95 593.17L189.43 593.19L189.92 592.7L190.41 591.9L190.9 591.21L191.39 590.92L191.88 590.95L192.37 591.15L192.86 591.57L193.35 592.32L193.83 593.32L194.32 594.18L194.81 594.43L195.3 594.24L195.79 593.61L196.28 592.96L196.77 592.54L197.26 592.37L197.75 592.4L198.23 592.53L198.72 592.71L199.21 592.84L199.7 592.8L200.19 592.56L200.68 592.3L201.17 592.27L201.66 592.54L202.15 592.9L202.64 593.02L203.12 592.7L203.61 592.13L204.1 591.77L204.59 591.92L205.08 592.5L205.57 593.11L206.06 593.37L206.55 593.16L207.04 592.69L207.52 592.33L208.01 592.28L208.5 592.47L208.99 592.67L209.48 592.63L209.97 592.29L210.46 591.82L210.95 591.48L211.44 591.43L211.92 591.76L212.41 592.48L212.9 593.44L213.39 594.21L213.88 594.41L214.37 594.01L214.86 593.29L215.35 592.65L215.84 592.15L216.32 591.62L216.81 590.86L217.3 590.03L217.79 589.53L218.28 589.57L218.77 590L219.26 590.38L219.75 590.44L220.24 590.3L220.72 590.35L221.21 590.83L221.7 591.65L222.19 592.46L222.68 592.91L223.17 592.84L223.66 592.31L224.15 591.58L224.64 590.97L225.12 590.73L225.61 590.95L226.1 591.55L226.59 592.34L227.08 593.03L227.57 593.34L228.06 593.22L228.55 592.82L229.04 592.37L229.52 591.97L230.01 591.61L230.5 591.34L230.99 591.29L231.48 591.55L231.97 591.98L232.46 592.2L232.95 591.92L233.44 591.15L233.92 590.22L234.41 589.51L234.9 589.29L235.39 589.55L235.88 590.09L236.37 590.59L236.86 590.93L237.35 591.16L237.84 591.33L238.32 591.4L238.81 591.31L239.3 591.12L239.79 590.98L240.28 590.92L240.77 590.93L241.26 591.05L241.75 591.38L242.24 591.9L242.72 592.42L243.21 592.81L243.7 593.02L244.19 593.05L244.68 592.88L245.17 592.58L245.66 592.27L246.15 592.02L246.64 591.81L247.12 591.67L247.61 591.66L248.1 591.83L248.59 592.15L249.08 592.54L249.57 592.82L250.06 592.8L250.55 592.46L251.04 591.98L251.52 591.61L252.01 591.46L252.5 591.47L252.99 591.59L253.48 591.82L253.97 592.14L254.46 592.49L254.95 592.78L255.44 593L255.93 593.17L256.41 593.33L256.9 593.48L257.39 593.64L257.88 593.73L258.37 593.68L258.86 593.49L259.35 593.24L259.84 593.01L260.33 592.79L260.81 592.55L261.3 592.28L261.79 592.04L262.28 591.82L262.77 591.57L263.26 591.33L263.75 591.21L264.24 591.24L264.73 591.33L265.21 591.35L265.7 591.29L266.19 591.26L266.68 591.37L267.17 591.63L267.66 591.9L268.15 592.06L268.64 592.14L269.13 592.29L269.61 592.49L270.1 592.62L270.59 592.58L271.08 591.94L271.57 586.32L272.06 569.62L272.55 550.18L273.04 534.11L273.53 522.23L273.53 526.94L273.04 538.75L272.55 555.04L272.06 575.11L271.57 592.71L271.08 598.92L270.59 599.89L270.1 600.36L269.61 600.75L269.13 600.75L268.64 600.3L268.15 599.73L267.66 599.48L267.17 599.69L266.68 600.2L266.19 600.85L265.7 601.49L265.21 601.93L264.73 602.06L264.24 602.01L263.75 602.01L263.26 602L262.77 601.73L262.28 601.16L261.79 600.62L261.3 600.57L260.81 601.08L260.33 601.77L259.84 602.16L259.35 602.07L258.86 601.64L258.37 601.15L257.88 600.89L257.39 600.96L256.9 601.2L256.41 601.35L255.93 601.24L255.44 600.91L254.95 600.52L254.46 600.23L253.97 600.11L253.48 600.16L252.99 600.28L252.5 600.33L252.01 600.2L251.52 599.95L251.04 599.68L250.55 599.52L250.06 599.51L249.57 599.71L249.08 600.04L248.59 600.36L248.1 600.45L247.61 600.28L247.12 599.95L246.64 599.56L246.15 599.15L245.66 598.82L245.17 598.77L244.68 599.1L244.19 599.65L243.7 600.09L243.21 600.19L242.72 600.01L242.24 599.82L241.75 599.78L241.26 599.9L240.77 600.12L240.28 600.37L239.79 600.58L239.3 600.64L238.81 600.58L238.32 600.48L237.84 600.33L237.35 600.02L236.86 599.56L236.37 599.11L235.88 598.89L235.39 598.96L234.9 599.19L234.41 599.34L233.92 599.24L233.44 598.92L232.95 598.63L232.46 598.64L231.97 598.97L231.48 599.41L230.99 599.75L230.5 600.01L230.01 600.37L229.52 600.87L229.04 601.37L228.55 601.72L228.06 601.9L227.57 601.93L227.08 601.78L226.59 601.42L226.1 600.94L225.61 600.52L225.12 600.3L224.64 600.24L224.15 600.24L223.66 600.24L223.17 600.29L222.68 600.45L222.19 600.63L221.7 600.61L221.21 600.24L220.72 599.73L220.24 599.44L219.75 599.59L219.26 599.9L218.77 599.9L218.28 599.38L217.79 598.56L217.3 598.03L216.81 598.03L216.32 598.03L215.84 598.77L215.35 599.62L214.86 600.3L214.37 600.77L213.88 601.17L213.39 601.62L212.9 601.97L212.41 601.92L211.92 601.36L211.44 600.58L210.95 600.02L210.46 600L209.97 600.44L209.48 601.05L208.99 601.62L208.5 602.15L208.01 602.66L207.52 602.96L207.04 602.78L206.55 602.08L206.06 601.14L205.57 600.38L205.08 600.06L204.59 600.16L204.1 600.46L203.61 600.74L203.12 600.92L202.64 601.07L202.15 601.29L201.66 601.62L201.17 601.95L200.68 602.14L200.19 602.06L199.7 601.75L199.21 601.33L198.72 600.92L198.23 600.55L197.75 600.23L197.26 599.99L196.77 599.87L196.28 599.88L195.79 599.96L195.3 600.06L194.81 600.14L194.32 600.18L193.83 600.15L193.35 600.07L192.86 600L192.37 600.01L191.88 600.07L191.39 600.2L190.9 600.46L190.41 600.87L189.92 601.27L189.43 601.43L188.95 601.26L188.46 600.87L187.97 600.5L187.48 600.29L186.99 600.25L186.5 600.25L186.01 600.27L185.52 600.35L185.03 600.45L184.55 600.38L184.06 600.04L183.57 599.71L183.08 599.79L182.59 600.43L182.1 601.27L181.61 601.79L181.12 601.7L180.63 601.16L180.15 600.58L179.66 600.3L179.17 600.38L178.68 600.63L178.19 600.75L177.7 600.61L177.21 600.26L176.72 599.81L176.23 599.37L175.75 599.03L175.26 598.86L174.77 598.78L174.28 598.68L173.79 598.5L173.3 598.32L172.81 598.34L172.32 598.71L171.83 599.44L171.35 600.35L170.86 601.1L170.37 601.4L169.88 601.27L169.39 601.01L168.9 600.85L168.41 600.77L167.92 600.62L167.43 600.28L166.95 599.83L166.46 599.43L165.97 599.23L165.48 599.27L164.99 599.49L164.5 599.74L164.01 599.87L163.52 599.79L163.03 599.56L162.55 599.39L162.06 599.53L161.57 600L161.08 600.65L160.59 601.25L160.1 601.51L159.61 601.05L159.12 599.64L158.63 597.71L158.15 595.98L157.66 594.94L157.17 594.59L156.68 594.65L156.19 595.29L155.7 596.51L155.21 597.92L154.72 599.07L154.23 599.82L153.75 600.47L153.26 601.19L152.77 601.81L152.28 602.07L151.79 601.91L151.3 601.42L150.81 600.78L150.32 600.13L149.83 599.67L149.35 599.64L148.86 600.03L148.37 600.58L147.88 600.97L147.39 601.07L146.9 600.89L146.41 600.55L145.92 600.29L145.43 600.3L144.94 600.52L144.46 600.73L143.97 600.87L143.48 601.04L142.99 601.3L142.5 601.43L142.01 601.2L141.52 600.58L141.03 599.84L140.54 599.33L140.06 599.28L139.57 599.68L139.08 600.31L138.59 601L138.1 601.68L137.61 602.35L137.12 602.92L136.63 603.26L136.14 603.33L135.66 603.18L135.17 602.9L134.68 602.54L134.19 602.12L133.7 601.7L133.21 601.32L132.72 600.93L132.23 600.46L131.74 599.92L131.26 599.43L130.77 599.17L130.28 599.15L129.79 599.25L129.3 599.32L128.81 599.32L128.32 599.35L127.83 599.52L127.34 599.94L126.86 600.7L126.37 601.76L125.88 602.88L125.39 603.74L124.9 604.03L124.41 603.7L123.92 602.93L123.43 602.08L122.94 601.5L122.46 601.35L121.97 601.55L121.48 601.78L120.99 601.65L120.5 601.04ZM277.93 532.55L278.41 548.19L278.9 567.46L279.39 584.75L279.88 590.96L280.37 591.35L280.86 590.98L281.35 590.59L281.84 590.45L282.33 590.73L282.81 591.36L283.3 591.99L283.79 592.3L284.28 592.19L284.77 591.77L285.26 591.16L285.75 590.49L286.24 589.88L286.73 589.48L287.21 589.46L287.7 589.84L288.19 590.45L288.68 591.1L289.17 591.77L289.66 592.48L290.15 593.09L290.64 593.37L291.13 593.22L291.61 592.75L292.1 592.23L292.59 591.9L293.08 591.81L293.57 591.88L294.06 591.95L294.55 591.87L295.04 591.62L295.53 591.3L296.01 591.07L296.5 591.06L296.99 591.24L297.48 591.36L297.97 591.23L298.46 590.89L298.95 590.56L299.44 590.44L299.93 590.65L300.41 591.23L300.9 592.09L301.39 592.89L301.88 593.24L302.37 593.05L302.86 592.6L303.35 592.19L303.84 591.9L304.33 591.67L304.81 591.54L305.3 591.67L305.79 592.12L306.28 592.76L306.77 593.37L307.26 593.82L307.75 594.03L308.24 593.94L308.73 593.59L309.22 593.13L309.7 592.8L310.19 592.83L310.68 593.3L311.17 593.96L311.66 594.29L312.15 593.85L312.64 592.75L313.13 591.55L313.62 590.72L314.1 590.32L314.59 590.06L315.08 589.74L315.57 589.53L316.06 589.76L316.55 590.54L317.04 591.54L317.53 592.19L318.02 592.1L318.5 591.33L318.99 590.24L319.48 589.31L319.97 588.87L320.46 589.02L320.95 589.62L321.44 590.33L321.93 590.9L322.42 591.21L322.9 591.38L323.39 591.58L323.88 591.96L324.37 592.52L324.86 593.02L325.35 593.2L325.84 592.96L326.33 592.48L326.82 592.1L327.3 591.97L327.79 592.02L328.28 592.08L328.77 592.07L329.26 592.05L329.75 592.12L330.24 592.39L330.73 592.87L331.22 593.36L331.7 593.52L332.19 593.21L332.68 592.66L333.17 592.24L333.66 592.03L334.15 591.78L334.64 591.23L335.13 590.5L335.62 590.08L336.1 590.27L336.59 590.87L337.08 591.44L337.57 591.73L338.06 591.84L338.55 591.98L339.04 592.19L339.53 592.37L340.02 592.46L340.5 592.56L340.99 592.79L341.48 593.09L341.97 593.19L342.46 592.94L342.95 592.39L343.44 591.77L343.93 591.25L344.42 590.9L344.9 590.84L345.39 591.16L345.88 591.73L346.37 592.2L346.86 592.26L347.35 591.92L347.84 591.44L348.33 591.15L348.82 591.22L349.3 591.61L349.79 592.12L350.28 592.47L350.77 592.57L351.26 592.56L351.75 592.61L352.24 592.7L352.73 592.63L353.22 592.32L353.7 591.85L354.19 591.33L354.68 590.85L355.17 590.47L355.66 590.27L356.15 590.28L356.64 590.49L357.13 590.84L357.62 591.29L358.1 591.77L358.59 592.2L359.08 592.49L359.57 592.58L360.06 592.43L360.55 592L361.04 591.3L361.53 590.53L362.02 590.01L362.51 590.04L362.99 590.68L363.48 591.68L363.97 592.65L364.46 593.42L364.95 594.01L365.44 594.43L365.93 594.43L366.42 594.37L366.91 593.7L367.39 592.95L367.88 592.44L368.37 592.2L368.86 592.11L369.35 592.05L369.84 591.98L370.33 591.91L370.82 591.84L371.31 591.7L371.79 591.46L372.28 591.16L372.77 590.94L373.26 590.89L373.75 591.02L374.24 591.3L374.73 591.63L375.22 591.84L375.71 591.81L376.19 591.55L376.68 591.21L377.17 590.98L377.66 590.97L378.15 591.18L378.64 591.44L379.13 591.57L379.62 591.54L380.11 591.51L380.59 591.58L381.08 591.63L381.57 591.52L382.06 591.39L382.55 591.5L383.04 591.89L383.53 592.33L384.02 592.59L384.51 592.65L384.99 592.55L385.48 592.29L385.97 591.83L386.46 591.31L386.95 590.96L387.44 591.04L387.93 591.63L388.42 592.49L388.91 593.28L389.39 593.68L389.88 593.78L390.37 593.89L390.37 599.85L389.88 601.58L389.39 602.68L388.91 602.53L388.42 602.01L387.93 601.39L387.44 600.96L386.95 600.82L386.46 600.92L385.97 601.17L385.48 601.46L384.99 601.54L384.51 601.26L384.02 600.68L383.53 600.03L383.04 599.5L382.55 599.23L382.06 599.27L381.57 599.6L381.08 600.07L380.59 600.52L380.11 600.81L379.62 600.84L379.13 600.66L378.64 600.49L378.15 600.54L377.66 600.81L377.17 601.14L376.68 601.36L376.19 601.39L375.71 601.17L375.22 600.67L374.73 600.02L374.24 599.51L373.75 599.42L373.26 599.78L372.77 600.43L372.28 601.17L371.79 601.81L371.31 602.29L370.82 602.52L370.33 602.4L369.84 601.92L369.35 601.22L368.86 600.52L368.37 600.02L367.88 599.75L367.39 599.62L366.91 599.48L366.42 599.27L365.93 599.06L365.44 599.07L364.95 599.37L364.46 599.79L363.97 600L363.48 599.91L362.99 599.74L362.51 599.79L362.02 600.13L361.53 600.6L361.04 601.05L360.55 601.38L360.06 601.54L359.57 601.47L359.08 601.2L358.59 600.82L358.1 600.56L357.62 600.59L357.13 600.88L356.64 601.23L356.15 601.4L355.66 601.33L355.17 601.03L354.68 600.56L354.19 600.03L353.7 599.61L353.22 599.43L352.73 599.5L352.24 599.72L351.75 600.02L351.26 600.42L350.77 600.89L350.28 601.29L349.79 601.42L349.3 601.18L348.82 600.65L348.33 600.09L347.84 599.82L347.35 599.99L346.86 600.45L346.37 600.88L345.88 601.09L345.39 601.11L344.9 601.11L344.42 601.15L343.93 601.14L343.44 601.02L342.95 600.77L342.46 600.46L341.97 600.19L341.48 600.04L340.99 600.07L340.5 600.31L340.02 600.7L339.53 601.06L339.04 601.25L338.55 601.26L338.06 601.27L337.57 601.45L337.08 601.79L336.59 602.06L336.1 602.05L335.62 601.68L335.13 601.05L334.64 600.42L334.15 599.98L333.66 599.78L333.17 599.63L332.68 599.34L332.19 598.93L331.7 598.64L331.22 598.74L330.73 599.2L330.24 599.78L329.75 600.2L329.26 600.41L328.77 600.54L328.28 600.75L327.79 601.02L327.3 601.19L326.82 601.08L326.33 600.69L325.84 600.28L325.35 600.2L324.86 600.54L324.37 601L323.88 601.04L323.39 600.36L322.9 599.22L322.42 598.18L321.93 598.03L321.44 598.03L320.95 598.16L320.46 598.55L319.97 598.78L319.48 598.8L318.99 598.66L318.5 598.46L318.02 598.37L317.53 598.48L317.04 598.84L316.55 599.4L316.06 600.06L315.57 600.71L315.08 601.27L314.59 601.72L314.1 602.01L313.62 602.07L313.13 601.88L312.64 601.51L312.15 601.16L311.66 600.95L311.17 600.86L310.68 600.9L310.19 601L309.7 601.01L309.22 600.73L308.73 600.21L308.24 599.75L307.75 599.66L307.26 599.91L306.77 600.18L306.28 600.19L305.79 599.92L305.3 599.69L304.81 599.75L304.33 600.04L303.84 600.25L303.35 600.15L302.86 599.82L302.37 599.53L301.88 599.57L301.39 600L300.9 600.6L300.41 601.03L299.93 601.1L299.44 600.93L298.95 600.78L298.46 600.83L297.97 601.14L297.48 601.65L296.99 602.2L296.5 602.69L296.01 603.03L295.53 603.15L295.04 602.99L294.55 602.65L294.06 602.4L293.57 602.42L293.08 602.55L292.59 602.49L292.1 602.18L291.61 601.88L291.13 601.79L290.64 601.79L290.15 601.66L289.66 601.31L289.17 600.86L288.68 600.54L288.19 600.53L287.7 600.77L287.21 601.01L286.73 601.03L286.24 600.76L285.75 600.31L285.26 599.74L284.77 599.1L284.28 598.53L283.79 598.23L283.3 598.26L282.81 598.49L282.33 598.67L281.84 598.66L281.35 598.52L280.86 598.48L280.37 598.73L279.88 598.63L279.39 592.69L278.9 575.02L278.41 555.09L277.93 538.73ZM398.19 594.02L398.68 593.55L399.17 593.13L399.66 593.05L400.15 593.03L400.64 592.96L401.13 592.66L401.62 592.03L402.11 591.32L402.59 590.92L403.08 591.01L403.57 591.39L404.06 591.67L404.55 591.67L405.04 591.44L405.53 591.19L406.02 591.12L406.51 591.3L406.99 591.63L407.48 591.92L407.97 592.1L408.46 592.29L408.95 592.56L409.44 592.84L409.93 592.93L410.42 592.67L410.91 592.09L411.39 591.43L411.88 590.95L412.37 590.8L412.86 590.89L413.35 591.04L413.84 591.19L414.33 591.49L414.82 592.11L415.31 592.92L415.79 593.54L416.28 593.62L416.77 593.09L417.26 592.15L417.75 591.08L418.24 590.14L418.73 589.62L419.22 589.74L419.71 590.59L420.2 591.91L420.68 593.18L421.17 593.92L421.66 593.97L422.15 593.49L422.64 592.83L423.13 592.23L423.62 591.81L424.11 591.53L424.6 591.3L425.08 591.07L425.57 590.86L426.06 590.72L426.55 590.79L427.04 591.11L427.53 591.56L428.02 591.92L428.51 592.07L429 592.13L429.48 592.34L429.97 592.77L430.46 593.21L430.95 593.39L431.44 593.23L431.93 592.79L432.42 592.18L432.91 591.51L433.4 591.03L433.88 591.04L434.37 591.64L434.86 592.55L435.35 593.35L435.84 593.8L436.33 593.83L436.82 593.43L437.31 592.66L437.8 591.72L438.28 590.89L438.77 590.41L439.26 590.38L439.75 590.74L440.24 591.28L440.73 591.68L441.22 591.71L441.71 591.43L442.2 591.04L442.68 590.79L443.17 590.77L443.66 590.9L444.15 591.08L444.64 591.27L445.13 591.53L445.62 591.85L446.11 592.11L446.6 592.13L447.08 591.82L447.57 591.34L448.06 590.95L448.55 590.84L449.04 590.99L449.53 591.21L450.02 591.36L450.51 591.49L451 591.76L451.48 592.24L451.97 592.75L452.46 593.04L452.95 593.03L453.44 592.85L453.93 592.64L454.42 592.49L454.91 592.49L455.4 592.67L455.88 592.98L456.37 593.26L456.86 593.42L457.35 593.48L457.84 593.48L458.33 593.38L458.82 593.17L459.31 592.93L459.8 592.76L460.28 592.73L460.77 592.84L461.26 592.94L461.75 592.82L462.24 592.45L462.73 592.01L463.22 591.73L463.71 591.63L464.2 591.65L464.68 591.68L465.17 591.66L465.66 591.56L466.15 591.36L466.64 591.11L467.13 590.89L467.62 590.85L468.11 591.1L468.6 591.56L469.08 592.08L469.57 592.49L470.06 592.62L470.55 592.33L471.04 591.53L471.53 590.39L472.02 589.29L472.51 588.55L473 588.21L473.49 588.15L473.97 588.39L474.46 589.05L474.95 590.14L475.44 591.36L475.93 592.26L476.42 592.61L476.91 592.5L477.4 592.17L477.89 591.75L478.37 591.29L478.86 590.92L479.35 590.8L479.84 590.97L480.33 591.31L480.82 591.65L481.31 591.89L481.8 592.04L482.29 592.09L482.77 592.02L483.26 591.81L483.75 591.58L484.24 591.48L484.73 591.56L485.22 591.73L485.71 591.91L486.2 592.1L486.69 592.3L487.17 592.44L487.66 592.4L488.15 592.14L488.64 591.78L489.13 591.45L489.62 591.21L490.11 591.01L490.6 590.78L491.09 590.52L491.57 590.38L492.06 590.53L492.55 591L493.04 591.51L493.53 591.74L494.02 591.66L494.51 591.53L495 591.48L495.49 591.51L495.97 591.55L496.46 591.63L496.95 591.81L497.44 592.15L497.93 592.69L498.42 593.42L498.91 594.12L499.4 594.43L499.89 594.27L500.37 593.59L500.86 592.7L501.35 591.78L501.84 590.87L502.33 590.07L502.82 589.61L503.31 589.7L503.8 590.27L504.29 590.97L504.77 591.43L505.26 591.6L505.75 591.67L506.24 591.81L506.73 591.99L507.22 592.01L507.71 591.77L508.2 591.31L508.69 590.57L509.17 587.37L509.66 575.06L510.15 556.97L510.64 540.99L511.13 528.9L511.13 533.44L510.64 546.49L510.15 563.59L509.66 582.7L509.17 595.35L508.69 598.14L508.2 598.47L507.71 598.82L507.22 599.31L506.73 599.8L506.24 600.09L505.75 600.09L505.26 599.84L504.77 599.47L504.29 599.14L503.8 598.95L503.31 599.07L502.82 599.57L502.33 600.35L501.84 601.16L501.35 601.79L500.86 602.13L500.37 602.19L499.89 602.03L499.4 601.76L498.91 601.42L498.42 600.97L497.93 600.43L497.44 599.88L496.95 599.45L496.46 599.26L495.97 599.4L495.49 599.89L495 600.61L494.51 601.29L494.02 601.68L493.53 601.69L493.04 601.37L492.55 600.86L492.06 600.43L491.57 600.35L491.09 600.68L490.6 601.22L490.11 601.64L489.62 601.68L489.13 601.27L488.64 600.54L488.15 599.73L487.66 599.13L487.17 599.03L486.69 599.41L486.2 600.01L485.71 600.47L485.22 600.69L484.73 600.75L484.24 600.8L483.75 600.87L483.26 600.98L482.77 601.1L482.29 601.18L481.8 601.19L481.31 601.18L480.82 601.26L480.33 601.42L479.84 601.56L479.35 601.66L478.86 601.8L478.37 601.94L477.89 601.9L477.4 601.55L476.91 601.07L476.42 600.75L475.93 600.76L475.44 600.95L474.95 601.02L474.46 600.77L473.97 600.26L473.49 599.78L473 599.63L472.51 599.93L472.02 600.6L471.53 601.34L471.04 601.77L470.55 601.65L470.06 601.06L469.57 600.29L469.08 599.64L468.6 599.36L468.11 599.61L467.62 600.28L467.13 601.01L466.64 601.41L466.15 601.32L465.66 601L465.17 600.81L464.68 600.9L464.2 601.12L463.71 601.26L463.22 601.23L462.73 601.04L462.24 600.78L461.75 600.53L461.26 600.41L460.77 600.52L460.28 600.8L459.8 601.07L459.31 601.07L458.82 600.7L458.33 600.08L457.84 599.45L457.35 599.02L456.86 598.79L456.37 598.64L455.88 598.41L455.4 598.11L454.91 598.03L454.42 598.03L453.93 598.06L453.44 598.44L452.95 598.94L452.46 599.5L451.97 600.07L451.48 600.58L451 600.98L450.51 601.19L450.02 601.19L449.53 601.02L449.04 600.73L448.55 600.44L448.06 600.29L447.57 600.38L447.08 600.67L446.6 600.92L446.11 600.91L445.62 600.62L445.13 600.29L444.64 600.18L444.15 600.38L443.66 600.74L443.17 601.16L442.68 601.64L442.2 602.24L441.71 602.85L441.22 603.23L440.73 603.19L440.24 602.81L439.75 602.34L439.26 601.95L438.77 601.62L438.28 601.29L437.8 600.94L437.31 600.55L436.82 600.17L436.33 599.95L435.84 600.04L435.35 600.36L434.86 600.68L434.37 600.88L433.88 600.98L433.4 601.11L432.91 601.25L432.42 601.34L431.93 601.33L431.44 601.24L430.95 601.05L430.46 600.8L429.97 600.58L429.48 600.57L429 600.8L428.51 601.06L428.02 601.11L427.53 600.85L427.04 600.37L426.55 599.81L426.06 599.32L425.57 599.04L425.08 599.07L424.6 599.33L424.11 599.64L423.62 599.92L423.13 600.22L422.64 600.56L422.15 600.85L421.66 601.03L421.17 601.13L420.68 601.22L420.2 601.36L419.71 601.55L419.22 601.8L418.73 602.17L418.24 602.64L417.75 603.03L417.26 603.1L416.77 602.81L416.28 602.41L415.79 602.19L415.31 602.28L414.82 602.61L414.33 602.95L413.84 603.06L413.35 602.88L412.86 602.55L412.37 602.32L411.88 602.29L411.39 602.31L410.91 602.12L410.42 601.54L409.93 600.64L409.44 599.81L408.95 599.39L408.46 599.4L407.97 599.57L407.48 599.69L406.99 599.83L406.51 600.13L406.02 600.6L405.53 601.08L405.04 601.37L404.55 601.3L404.06 600.92L403.57 600.47L403.08 600.31L402.59 600.52L402.11 600.9L401.62 601.17L401.13 601.24L400.64 601.14L400.15 600.87L399.66 600.45L399.17 600.07L398.68 599.51L398.19 598.91ZM515.04 524.37L515.53 534.91L516.02 549.63L516.51 568.02L517 585.19L517.49 592.41L517.97 593.64L518.46 593.65L518.95 593.25L519.44 592.79L519.93 592.49L520.42 592.33L520.91 592.28L521.4 592.41L521.89 592.79L522.37 593.24L522.86 593.39L523.35 593.08L523.84 592.5L524.33 591.95L524.82 591.59L525.31 591.38L525.8 591.23L526.29 591.13L526.78 591.09L527.26 591.16L527.75 591.41L528.24 591.8L528.73 592.16L529.22 592.27L529.71 592.16L530.2 592.02L530.69 591.99L531.18 591.98L531.66 591.8L532.15 591.44L532.64 591.1L533.13 590.99L533.62 591.21L534.11 591.6L534.6 591.92L535.09 592.07L535.58 592.27L536.06 592.7L536.55 593.23L537.04 593.55L537.53 593.56L538.02 593.39L538.51 593.23L539 593.22L539.49 593.46L539.98 593.99L540.46 594.43L540.95 594.43L541.44 594.43L541.93 594.43L542.42 593.47L542.91 592.19L543.4 590.99L543.89 590.13L544.38 589.86L544.86 590.22L545.35 590.98L545.84 591.81L546.33 592.52L546.82 593.08L547.31 593.46L547.8 593.54L548.29 593.32L548.78 592.98L549.26 592.75L549.75 592.68L550.24 592.63L550.73 592.44L551.22 592.08L551.71 591.67L552.2 591.4L552.69 591.39L553.18 591.72L553.66 592.35L554.15 593.1L554.64 593.74L555.13 594.15L555.62 594.27L556.11 594.06L556.6 593.55L557.09 592.91L557.58 592.37L558.06 592L558.55 591.75L559.04 591.68L559.53 591.84L560.02 592.11L560.51 592.28L561 592.24L561.49 592.08L561.98 591.87L562.46 591.62L562.95 591.3L563.44 590.99L563.93 590.91L564.42 591.3L564.91 592.22L565.4 593.31L565.89 594.03L566.38 594.11L566.86 593.72L567.35 593.22L567.84 592.79L568.33 592.37L568.82 591.9L569.31 591.41L569.8 590.98L570.29 590.67L570.78 590.52L571.26 590.56L571.75 590.85L572.24 591.38L572.73 592.13L573.22 593L573.71 593.85L574.2 594.43L574.69 594.43L575.18 594.43L575.66 594.43L576.15 594.43L576.64 594.43L577.13 594.42L577.62 593.92L578.11 593.82L578.6 594.03L579.09 594.21L579.58 594.15L580.07 593.93L580.55 593.8L581.04 593.71L581.53 593.39L582.02 592.69L582.51 591.85L583 591.25L583.49 591.02L583.98 591.05L584.47 591.24L584.95 591.51L585.44 591.73L585.93 591.81L586.42 591.91L586.91 592.26L587.4 592.77L587.89 593.1L588.38 593.12L588.87 593.02L589.35 593.03L589.84 593.08L590.33 592.92L590.82 592.57L591.31 592.29L591.8 592.33L592.29 592.66L592.78 593.06L593.27 593.41L593.75 593.74L594.24 594.01L594.73 593.99L595.22 593.54L595.71 592.82L596.2 592.17L596.69 591.78L597.18 591.55L597.67 591.33L598.15 591.13L598.64 591.11L599.13 591.44L599.62 592.15L600.11 593.05L600.6 593.86L601.09 594.29L601.58 594.13L602.07 593.48L602.55 592.63L603.04 591.87L603.53 591.21L604.02 590.56L604.51 589.95L605 589.52L605.49 589.37L605.98 589.52L606.47 589.98L606.95 590.75L607.44 591.71L607.93 592.54L608.42 592.96L608.91 592.89L609.4 592.51L609.89 592.12L610.38 591.93L610.87 592L611.35 592.27L611.84 592.56L612.33 592.68L612.82 592.54L613.31 592.16L613.8 591.74L614.29 591.48L614.78 591.46L615.27 591.7L615.75 592.11L616.24 592.51L616.73 592.68L617.22 592.64L617.71 592.62L618.2 592.76L618.69 592.94L619.18 593.01L619.67 593.03L620.15 593.18L620.64 593.46L621.13 593.62L621.62 593.39L622.11 592.75L622.6 591.98L623.09 591.46L623.58 591.45L624.07 592.02L624.55 592.97L625.04 593.84L625.53 594.16L626.02 593.78L626.51 592.97L627 592.16L627.49 591.61L627.98 591.28L628.47 590.87L628.95 589.36L629.44 585.34L629.93 579.32L630.42 573.59L630.91 569.68L631.4 567.87L631.89 567.68L632.38 568.22L632.87 569.83L633.36 573.2L633.84 578.48L634.33 584.72L634.82 589.61L635.31 591.47L635.8 591.37L636.29 590.98L636.78 590.94L637.27 591.23L637.76 591.67L638.24 592.19L638.73 592.79L639.22 593.39L639.71 593.77L640.2 593.75L640.69 593.42L641.18 593.07L641.67 592.9L642.16 592.81L642.64 592.62L643.13 592.29L643.62 591.97L644.11 591.8L644.6 591.82L645.09 591.97L645.58 592.15L646.07 592.22L646.56 592.17L647.04 592.21L647.53 592.55L648.02 593.14L648.51 593.65L649 593.65L649.49 593.05L649.98 592.13L650.47 591.38L650.96 591.11L651.44 591.21L651.93 591.37L652.42 591.3L652.91 591.03L653.4 590.86L653.89 591.04L654.38 591.58L654.87 592.2L655.36 592.57L655.84 592.54L656.33 592.25L656.82 591.92L657.31 591.63L657.8 591.29L657.8 601.88L657.31 602.25L656.82 602.13L656.33 601.58L655.84 600.95L655.36 600.61L654.87 600.73L654.38 601.23L653.89 601.85L653.4 602.3L652.91 602.37L652.42 602.04L651.93 601.43L651.44 600.83L650.96 600.53L650.47 600.65L649.98 601.02L649.49 601.28L649 601.26L648.51 601.14L648.02 601.23L647.53 601.62L647.04 602.13L646.56 602.52L646.07 602.62L645.58 602.46L645.09 602.25L644.6 602.1L644.11 601.93L643.62 601.65L643.13 601.27L642.64 600.9L642.16 600.64L641.67 600.54L641.18 600.69L640.69 601.08L640.2 601.54L639.71 601.77L639.22 601.64L638.73 601.3L638.24 600.94L637.76 600.57L637.27 600.06L636.78 599.43L636.29 598.88L635.8 598.59L635.31 598.17L634.82 596.17L634.33 591.44L633.84 585.44L633.36 580.3L632.87 577.01L632.38 575.57L631.89 575.35L631.4 575.94L630.91 578.16L630.42 582.51L629.93 588.7L629.44 595.12L628.95 599.27L628.47 600.6L627.98 600.77L627.49 601.1L627 601.96L626.51 603.04L626.02 603.83L625.53 603.99L625.04 603.57L624.55 602.87L624.07 602.23L623.58 601.86L623.09 601.72L622.6 601.58L622.11 601.21L621.62 600.62L621.13 600.06L620.64 599.79L620.15 599.92L619.67 600.35L619.18 600.87L618.69 601.31L618.2 601.55L617.71 601.49L617.22 601.19L616.73 600.89L616.24 600.91L615.75 601.33L615.27 601.98L614.78 602.63L614.29 603.05L613.8 603.17L613.31 602.99L612.82 602.55L612.33 601.99L611.84 601.51L611.35 601.28L610.87 601.27L610.38 601.32L609.89 601.31L609.4 601.27L608.91 601.3L608.42 601.46L607.93 601.64L607.44 601.71L606.95 601.62L606.47 601.41L605.98 601.18L605.49 601.01L605 600.93L604.51 600.87L604.02 600.78L603.53 600.68L603.04 600.56L602.55 600.4L602.07 600.21L601.58 600.11L601.09 600.22L600.6 600.47L600.11 600.64L599.62 600.56L599.13 600.24L598.64 599.8L598.15 599.35L597.67 598.99L597.18 598.84L596.69 598.98L596.2 599.44L595.71 600.12L595.22 600.76L594.73 601.1L594.24 601.04L593.75 600.85L593.27 600.88L592.78 601.36L592.29 602.04L591.8 602.38L591.31 602L590.82 601.13L590.33 600.32L589.84 599.97L589.35 600L588.87 600.06L588.38 599.9L587.89 599.63L587.4 599.51L586.91 599.64L586.42 599.88L585.93 600.15L585.44 600.44L584.95 600.81L584.47 601.25L583.98 601.7L583.49 602.08L583 602.28L582.51 602.23L582.02 601.93L581.53 601.4L581.04 600.73L580.55 600.04L580.07 599.52L579.58 599.33L579.09 599.46L578.6 599.73L578.11 599.87L577.62 599.78L577.13 599.54L576.64 599.32L576.15 599.26L575.66 599.47L575.18 599.91L574.69 600.41L574.2 600.69L573.71 600.56L573.22 600.03L572.73 599.38L572.24 598.95L571.75 598.88L571.26 599.03L570.78 599.21L570.29 599.43L569.8 599.77L569.31 600.04L568.82 599.94L568.33 599.47L567.84 599.08L567.35 599.22L566.86 599.9L566.38 600.77L565.89 601.41L565.4 601.69L564.91 601.68L564.42 601.52L563.93 601.31L563.44 601.1L562.95 600.95L562.46 600.86L561.98 600.69L561.49 600.35L561 600L560.51 599.92L560.02 600.2L559.53 600.54L559.04 600.52L558.55 600.02L558.06 599.38L557.58 599.18L557.09 599.66L556.6 600.56L556.11 601.27L555.62 601.34L555.13 600.79L554.64 600.06L554.15 599.66L553.66 599.71L553.18 600.02L552.69 600.39L552.2 600.79L551.71 601.22L551.22 601.64L550.73 601.89L550.24 601.89L549.75 601.77L549.26 601.79L548.78 602.07L548.29 602.39L547.8 602.42L547.31 602.06L546.82 601.45L546.33 600.8L545.84 600.23L545.35 599.86L544.86 599.8L544.38 600.03L543.89 600.43L543.4 600.77L542.91 600.84L542.42 600.58L541.93 600.12L541.44 599.68L540.95 599.41L540.46 599.39L539.98 599.55L539.49 599.74L539 599.81L538.51 599.74L538.02 599.63L537.53 599.63L537.04 599.88L536.55 600.27L536.06 600.5L535.58 600.29L535.09 599.76L534.6 599.3L534.11 599.14L533.62 599.16L533.13 599.08L532.64 598.85L532.15 598.65L531.66 598.61L531.18 598.72L530.69 598.96L530.2 599.45L529.71 600.21L529.22 601.01L528.73 601.53L528.24 601.6L527.75 601.3L527.26 600.88L526.78 600.58L526.29 600.48L525.8 600.47L525.31 600.43L524.82 600.27L524.33 600.06L523.84 599.92L523.35 600.01L522.86 600.35L522.37 600.79L521.89 601.12L521.4 601.28L520.91 601.38L520.42 601.6L519.93 601.93L519.44 602.18L518.95 602.11L518.46 601.66L517.97 600.94L517.49 599.49L517 592.29L516.51 574.87L516.02 556.05L515.53 540.83L515.04 529.76Z" fill="#000" stroke="#000" stroke-width="2"/>
<path d="M120.5 596.23L120.99 596.23L121.48 596.23L121.97 596.23L122.46 596.23L122.94 596.23L123.43 596.23L123.92 596.23L124.41 596.23L124.9 596.23L125.39 596.23L125.88 596.23L126.37 596.23L126.86 596.23L127.34 596.23L127.83 596.23L128.32 596.23L128.81 596.23L129.3 596.23L129.79 596.23L130.28 596.23L130.77 596.23L131.26 596.23L131.74 596.23L132.23 596.23L132.72 596.23L133.21 596.23L133.7 596.23L134.19 596.23L134.68 596.23L135.17 596.23L135.66 596.23L136.14 596.23L136.63 596.23L137.12 596.23L137.61 596.23L138.1 596.23L138.59 596.23L139.08 596.23L139.57 596.23L140.06 596.23L140.54 596.23L141.03 596.23L141.52 596.23L142.01 596.23L142.5 596.23L142.99 596.23L143.48 596.23L143.97 596.23L144.46 596.23L144.94 596.23L145.43 596.23L145.92 596.23L146.41 596.23L146.9 596.23L147.39 596.23L147.88 596.23L148.37 596.23L148.86 596.23L149.35 596.23L149.83 596.23L150.32 596.23L150.81 596.23L151.3 596.23L151.79 596.23L152.28 596.23L152.77 596.23L153.26 596.21L153.75 596.12L154.23 595.73L154.72 594.68L155.21 592.91L155.7 590.94L156.19 589.47L156.68 588.79L157.17 588.68L157.66 588.9L158.15 589.8L158.63 591.46L159.12 593.45L159.61 595.05L160.1 595.89L160.59 596.16L161.08 596.22L161.57 596.23L162.06 596.23L162.55 596.23L163.03 596.23L163.52 596.23L164.01 596.23L164.5 596.23L164.99 596.23L165.48 596.23L165.97 596.23L166.46 596.23L166.95 596.23L167.43 596.23L167.92 596.23L168.41 596.23L168.9 596.23L169.39 596.23L169.88 596.23L170.37 596.23L170.86 596.23L171.35 596.23L171.83 596.23L172.32 596.23L172.81 596.23L173.3 596.23L173.79 596.23L174.28 596.23L174.77 596.23L175.26 596.23L175.75 596.23L176.23 596.23L176.72 596.23L177.21 596.23L177.7 596.23L178.19 596.23L178.68 596.23L179.17 596.23L179.66 596.23L180.15 596.23L180.63 596.23L181.12 596.23L181.61 596.23L182.1 596.23L182.59 596.23L183.08 596.23L183.57 596.23L184.06 596.23L184.55 596.23L185.03 596.23L185.52 596.23L186.01 596.23L186.5 596.23L186.99 596.23L187.48 596.23L187.97 596.23L188.46 596.23L188.95 596.23L189.43 596.23L189.92 596.23L190.41 596.23L190.9 596.23L191.39 596.23L191.88 596.23L192.37 596.23L192.86 596.23L193.35 596.23L193.83 596.23L194.32 596.23L194.81 596.23L195.3 596.23L195.79 596.23L196.28 596.23L196.77 596.23L197.26 596.23L197.75 596.23L198.23 596.23L198.72 596.23L199.21 596.23L199.7 596.23L200.19 596.23L200.68 596.23L201.17 596.23L201.66 596.23L202.15 596.23L202.64 596.23L203.12 596.23L203.61 596.23L204.1 596.23L204.59 596.23L205.08 596.23L205.57 596.23L206.06 596.23L206.55 596.23L207.04 596.23L207.52 596.23L208.01 596.23L208.5 596.23L208.99 596.23L209.48 596.23L209.97 596.23L210.46 596.23L210.95 596.23L211.44 596.23L211.92 596.23L212.41 596.23L212.9 596.23L213.39 596.23L213.88 596.23L214.37 596.23L214.86 596.23L215.35 596.23L215.84 596.23L216.32 596.23L216.81 596.23L217.3 596.23L217.79 596.23L218.28 596.23L218.77 596.23L219.26 596.23L219.75 596.23L220.24 596.23L220.72 596.23L221.21 596.23L221.7 596.23L222.19 596.23L222.68 596.23L223.17 596.23L223.66 596.23L224.15 596.23L224.64 596.23L225.12 596.23L225.61 596.23L226.1 596.23L226.59 596.23L227.08 596.23L227.57 596.23L228.06 596.23L228.55 596.23L229.04 596.23L229.52 596.23L230.01 596.23L230.5 596.23L230.99 596.23L231.48 596.23L231.97 596.23L232.46 596.23L232.95 596.23L233.44 596.23L233.92 596.23L234.41 596.23L234.9 596.23L235.39 596.23L235.88 596.23L236.37 596.23L236.86 596.23L237.35 596.23L237.84 596.23L238.32 596.23L238.81 596.23L239.3 596.23L239.79 596.23L240.28 596.23L240.77 596.23L241.26 596.23L241.75 596.23L242.24 596.23L242.72 596.23L243.21 596.23L243.7 596.23L244.19 596.23L244.68 596.23L245.17 596.23L245.66 596.23L246.15 596.23L246.64 596.23L247.12 596.23L247.61 596.23L248.1 596.23L248.59 596.23L249.08 596.23L249.57 596.23L250.06 596.23L250.55 596.23L251.04 596.23L251.52 596.23L252.01 596.23L252.5 596.23L252.99 596.23L253.48 596.23L253.97 596.23L254.46 596.23L254.95 596.23L255.44 596.23L255.93 596.23L256.41 596.23L256.9 596.23L257.39 596.23L257.88 596.23L258.37 596.23L258.86 596.23L259.35 596.23L259.84 596.23L260.33 596.23L260.81 596.23L261.3 596.23L261.79 596.23L262.28 596.23L262.77 596.23L263.26 596.23L263.75 596.23L264.24 596.23L264.73 596.23L265.21 596.23L265.7 596.23L266.19 596.23L266.68 596.23L267.17 596.23L267.66 596.23L268.15 596.23L268.64 596.23L269.13 596.23L269.61 596.23L270.1 596.23L270.59 596.2L271.08 595.57L271.57 589.71L272.06 572.52L272.55 552.71L273.04 536.5L273.53 524.63L274.01 516.72L274.5 512.12L274.99 510.09L275.48 509.68L275.97 510.01L276.46 511.88L276.95 516.25L277.44 523.88L277.93 535.42L278.41 551.3L278.9 570.93L279.39 588.76L279.88 595.41L280.37 596.19L280.86 596.23L281.35 596.23L281.84 596.23L282.33 596.23L282.81 596.23L283.3 596.23L283.79 596.23L284.28 596.23L284.77 596.23L285.26 596.23L285.75 596.23L286.24 596.23L286.73 596.23L287.21 596.23L287.7 596.23L288.19 596.23L288.68 596.23L289.17 596.23L289.66 596.23L290.15 596.23L290.64 596.23L291.13 596.23L291.61 596.23L292.1 596.23L292.59 596.23L293.08 596.23L293.57 596.23L294.06 596.23L294.55 596.23L295.04 596.23L295.53 596.23L296.01 596.23L296.5 596.23L296.99 596.23L297.48 596.23L297.97 596.23L298.46 596.23L298.95 596.23L299.44 596.23L299.93 596.23L300.41 596.23L300.9 596.23L301.39 596.23L301.88 596.23L302.37 596.23L302.86 596.23L303.35 596.23L303.84 596.23L304.33 596.23L304.81 596.23L305.3 596.23L305.79 596.23L306.28 596.23L306.77 596.23L307.26 596.23L307.75 596.23L308.24 596.23L308.73 596.23L309.22 596.23L309.7 596.23L310.19 596.23L310.68 596.23L311.17 596.23L311.66 596.23L312.15 596.23L312.64 596.23L313.13 596.23L313.62 596.23L314.1 596.23L314.59 596.23L315.08 596.23L315.57 596.23L316.06 596.23L316.55 596.23L317.04 596.23L317.53 596.23L318.02 596.23L318.5 596.23L318.99 596.23L319.48 596.23L319.97 596.23L320.46 596.23L320.95 596.23L321.44 596.23L321.93 596.23L322.42 596.23L322.9 596.23L323.39 596.23L323.88 596.23L324.37 596.23L324.86 596.23L325.35 596.23L325.84 596.23L326.33 596.23L326.82 596.23L327.3 596.23L327.79 596.23L328.28 596.23L328.77 596.23L329.26 596.23L329.75 596.23L330.24 596.23L330.73 596.23L331.22 596.23L331.7 596.23L332.19 596.23L332.68 596.23L333.17 596.23L333.66 596.23L334.15 596.23L334.64 596.23L335.13 596.23L335.62 596.23L336.1 596.23L336.59 596.23L337.08 596.23L337.57 596.23L338.06 596.23L338.55 596.23L339.04 596.23L339.53 596.23L340.02 596.23L340.5 596.23L340.99 596.23L341.48 596.23L341.97 596.23L342.46 596.23L342.95 596.23L343.44 596.23L343.93 596.23L344.42 596.23L344.9 596.23L345.39 596.23L345.88 596.23L346.37 596.23L346.86 596.23L347.35 596.23L347.84 596.23L348.33 596.23L348.82 596.23L349.3 596.23L349.79 596.23L350.28 596.23L350.77 596.23L351.26 596.23L351.75 596.23L352.24 596.23L352.73 596.23L353.22 596.23L353.7 596.23L354.19 596.23L354.68 596.23L355.17 596.23L355.66 596.23L356.15 596.23L356.64 596.23L357.13 596.23L357.62 596.23L358.1 596.23L358.59 596.23L359.08 596.23L359.57 596.23L360.06 596.23L360.55 596.23L361.04 596.23L361.53 596.23L362.02 596.23L362.51 596.23L362.99 596.23L363.48 596.23L363.97 596.23L364.46 596.23L364.95 596.23L365.44 596.23L365.93 596.23L366.42 596.23L366.91 596.23L367.39 596.23L367.88 596.23L368.37 596.23L368.86 596.23L369.35 596.23L369.84 596.23L370.33 596.23L370.82 596.23L371.31 596.23L371.79 596.23L372.28 596.23L372.77 596.23L373.26 596.23L373.75 596.23L374.24 596.23L374.73 596.23L375.22 596.23L375.71 596.23L376.19 596.23L376.68 596.23L377.17 596.23L377.66 596.23L378.15 596.23L378.64 596.23L379.13 596.23L379.62 596.23L380.11 596.23L380.59 596.23L381.08 596.23L381.57 596.23L382.06 596.23L382.55 596.23L383.04 596.23L383.53 596.23L384.02 596.23L384.51 596.23L384.99 596.23L385.48 596.23L385.97 596.23L386.46 596.23L386.95 596.23L387.44 596.23L387.93 596.23L388.42 596.23L388.91 596.23L389.39 596.23L389.88 596.23L390.37 596.23L390.86 596.23L391.35 596.23L391.84 596.23L392.33 596.23L392.82 596.23L393.31 596.23L393.79 596.23L394.28 596.23L394.77 596.23L395.26 596.23L395.75 596.23L396.24 596.23L396.73 596.23L397.22 596.23L397.71 596.23L398.19 596.23L398.68 596.23L399.17 596.23L399.66 596.23L400.15 596.23L400.64 596.23L401.13 596.23L401.62 596.23L402.11 596.23L402.59 596.23L403.08 596.23L403.57 596.23L404.06 596.23L404.55 596.23L405.04 596.23L405.53 596.23L406.02 596.23L406.51 596.23L406.99 596.23L407.48 596.23L407.97 596.23L408.46 596.23L408.95 596.23L409.44 596.23L409.93 596.23L410.42 596.23L410.91 596.23L411.39 596.23L411.88 596.23L412.37 596.23L412.86 596.23L413.35 596.23L413.84 596.23L414.33 596.23L414.82 596.23L415.31 596.23L415.79 596.23L416.28 596.23L416.77 596.23L417.26 596.23L417.75 596.23L418.24 596.23L418.73 596.23L419.22 596.23L419.71 596.23L420.2 596.23L420.68 596.23L421.17 596.23L421.66 596.23L422.15 596.23L422.64 596.23L423.13 596.23L423.62 596.23L424.11 596.23L424.6 596.23L425.08 596.23L425.57 596.23L426.06 596.23L426.55 596.23L427.04 596.23L427.53 596.23L428.02 596.23L428.51 596.23L429 596.23L429.48 596.23L429.97 596.23L430.46 596.23L430.95 596.23L431.44 596.23L431.93 596.23L432.42 596.23L432.91 596.23L433.4 596.23L433.88 596.23L434.37 596.23L434.86 596.23L435.35 596.23L435.84 596.23L436.33 596.23L436.82 596.23L437.31 596.23L437.8 596.23L438.28 596.23L438.77 596.23L439.26 596.23L439.75 596.23L440.24 596.23L440.73 596.23L441.22 596.23L441.71 596.23L442.2 596.23L442.68 596.23L443.17 596.23L443.66 596.23L444.15 596.23L444.64 596.23L445.13 596.23L445.62 596.23L446.11 596.23L446.6 596.23L447.08 596.23L447.57 596.23L448.06 596.23L448.55 596.23L449.04 596.23L449.53 596.23L450.02 596.23L450.51 596.23L451 596.23L451.48 596.23L451.97 596.23L452.46 596.23L452.95 596.23L453.44 596.23L453.93 596.23L454.42 596.23L454.91 596.23L455.4 596.23L455.88 596.23L456.37 596.23L456.86 596.23L457.35 596.23L457.84 596.23L458.33 596.23L458.82 596.23L459.31 596.23L459.8 596.23L460.28 596.23L460.77 596.23L461.26 596.23L461.75 596.23L462.24 596.23L462.73 596.23L463.22 596.23L463.71 596.23L464.2 596.23L464.68 596.23L465.17 596.23L465.66 596.23L466.15 596.23L466.64 596.23L467.13 596.23L467.62 596.23L468.11 596.23L468.6 596.23L469.08 596.23L469.57 596.23L470.06 596.23L470.55 596.23L471.04 596.23L471.53 596.23L472.02 596.23L472.51 596.23L473 596.23L473.49 596.23L473.97 596.23L474.46 596.23L474.95 596.23L475.44 596.23L475.93 596.23L476.42 596.23L476.91 596.23L477.4 596.23L477.89 596.23L478.37 596.23L478.86 596.23L479.35 596.23L479.84 596.23L480.33 596.23L480.82 596.23L481.31 596.23L481.8 596.23L482.29 596.23L482.77 596.23L483.26 596.23L483.75 596.23L484.24 596.23L484.73 596.23L485.22 596.23L485.71 596.23L486.2 596.23L486.69 596.23L487.17 596.23L487.66 596.23L488.15 596.23L488.64 596.23L489.13 596.23L489.62 596.23L490.11 596.23L490.6 596.23L491.09 596.23L491.57 596.23L492.06 596.23L492.55 596.23L493.04 596.23L493.53 596.23L494.02 596.23L494.51 596.23L495 596.23L495.49 596.23L495.97 596.23L496.46 596.23L496.95 596.23L497.44 596.23L497.93 596.23L498.42 596.23L498.91 596.23L499.4 596.23L499.89 596.23L500.37 596.23L500.86 596.23L501.35 596.23L501.84 596.23L502.33 596.23L502.82 596.23L503.31 596.23L503.8 596.23L504.29 596.23L504.77 596.23L505.26 596.23L505.75 596.23L506.24 596.23L506.73 596.23L507.22 596.23L507.71 596.23L508.2 596.22L508.69 595.96L509.17 592.97L509.66 580.09L510.15 561.02L510.64 544.19L511.13 531.55L511.62 522.93L512.11 517.75L512.6 515.28L513.09 514.65L513.57 514.82L514.06 516.31L514.55 520.13L515.04 527.06L515.53 537.76L516.02 552.67L516.51 571.25L517 588.42L517.49 595.28L517.97 596.17L518.46 596.23L518.95 596.23L519.44 596.23L519.93 596.23L520.42 596.23L520.91 596.23L521.4 596.23L521.89 596.23L522.37 596.23L522.86 596.23L523.35 596.23L523.84 596.23L524.33 596.23L524.82 596.23L525.31 596.23L525.8 596.23L526.29 596.23L526.78 596.23L527.26 596.23L527.75 596.23L528.24 596.23L528.73 596.23L529.22 596.23L529.71 596.23L530.2 596.23L530.69 596.23L531.18 596.23L531.66 596.23L532.15 596.23L532.64 596.23L533.13 596.23L533.62 596.23L534.11 596.23L534.6 596.23L535.09 596.23L535.58 596.23L536.06 596.23L536.55 596.23L537.04 596.23L537.53 596.23L538.02 596.23L538.51 596.23L539 596.23L539.49 596.23L539.98 596.23L540.46 596.23L540.95 596.23L541.44 596.23L541.93 596.23L542.42 596.23L542.91 596.23L543.4 596.23L543.89 596.23L544.38 596.23L544.86 596.23L545.35 596.23L545.84 596.23L546.33 596.23L546.82 596.23L547.31 596.23L547.8 596.23L548.29 596.23L548.78 596.23L549.26 596.23L549.75 596.23L550.24 596.23L550.73 596.23L551.22 596.23L551.71 596.23L552.2 596.23L552.69 596.23L553.18 596.23L553.66 596.23L554.15 596.23L554.64 596.23L555.13 596.23L555.62 596.23L556.11 596.23L556.6 596.23L557.09 596.23L557.58 596.23L558.06 596.23L558.55 596.23L559.04 596.23L559.53 596.23L560.02 596.23L560.51 596.23L561 596.23L561.49 596.23L561.98 596.23L562.46 596.23L562.95 596.23L563.44 596.23L563.93 596.23L564.42 596.23L564.91 596.23L565.4 596.23L565.89 596.23L566.38 596.23L566.86 596.23L567.35 596.23L567.84 596.23L568.33 596.23L568.82 596.23L569.31 596.23L569.8 596.23L570.29 596.23L570.78 596.23L571.26 596.23L571.75 596.23L572.24 596.23L572.73 596.23L573.22 596.23L573.71 596.23L574.2 596.23L574.69 596.23L575.18 596.23L575.66 596.23L576.15 596.23L576.64 596.23L577.13 596.23L577.62 596.23L578.11 596.23L578.6 596.23L579.09 596.23L579.58 596.23L580.07 596.23L580.55 596.23L581.04 596.23L581.53 596.23L582.02 596.23L582.51 596.23L583 596.23L583.49 596.23L583.98 596.23L584.47 596.23L584.95 596.23L585.44 596.23L585.93 596.23L586.42 596.23L586.91 596.23L587.4 596.23L587.89 596.23L588.38 596.23L588.87 596.23L589.35 596.23L589.84 596.23L590.33 596.23L590.82 596.23L591.31 596.23L591.8 596.23L592.29 596.23L592.78 596.23L593.27 596.23L593.75 596.23L594.24 596.23L594.73 596.23L595.22 596.23L595.71 596.23L596.2 596.23L596.69 596.23L597.18 596.23L597.67 596.23L598.15 596.23L598.64 596.23L599.13 596.23L599.62 596.23L600.11 596.23L600.6 596.23L601.09 596.23L601.58 596.23L602.07 596.23L602.55 596.23L603.04 596.23L603.53 596.23L604.02 596.23L604.51 596.23L605 596.23L605.49 596.23L605.98 596.23L606.47 596.23L606.95 596.23L607.44 596.23L607.93 596.23L608.42 596.23L608.91 596.23L609.4 596.23L609.89 596.23L610.38 596.23L610.87 596.23L611.35 596.23L611.84 596.23L612.33 596.23L612.82 596.23L613.31 596.23L613.8 596.23L614.29 596.23L614.78 596.23L615.27 596.23L615.75 596.23L616.24 596.23L616.73 596.23L617.22 596.23L617.71 596.23L618.2 596.23L618.69 596.23L619.18 596.23L619.67 596.23L620.15 596.23L620.64 596.23L621.13 596.23L621.62 596.23L622.11 596.23L622.6 596.23L623.09 596.23L623.58 596.23L624.07 596.23L624.55 596.23L625.04 596.23L625.53 596.23L626.02 596.23L626.51 596.23L627 596.23L627.49 596.23L627.98 596.18L628.47 595.85L628.95 594.27L629.44 590.12L629.93 583.98L630.42 578.19L630.91 574.19L631.4 572.17L631.89 571.64L632.38 571.79L632.87 573.04L633.36 576.1L633.84 581.17L634.33 587.43L634.82 592.73L635.31 595.37L635.8 596.1L636.29 596.22L636.78 596.23L637.27 596.23L637.76 596.23L638.24 596.23L638.73 596.23L639.22 596.23L639.71 596.23L640.2 596.23L640.69 596.23L641.18 596.23L641.67 596.23L642.16 596.23L642.64 596.23L643.13 596.23L643.62 596.23L644.11 596.23L644.6 596.23L645.09 596.23L645.58 596.23L646.07 596.23L646.56 596.23L647.04 596.23L647.53 596.23L648.02 596.23L648.51 596.23L649 596.23L649.49 596.23L649.98 596.23L650.47 596.23L650.96 596.23L651.44 596.23L651.93 596.23L652.42 596.23L652.91 596.23L653.4 596.23L653.89 596.23L654.38 596.23L654.87 596.23L655.36 596.23L655.84 596.23L656.33 596.23L656.82 596.23L657.31 596.23L657.8 596.23" stroke="#000" stroke-width="3.2"/>
</g>
<line x1="157.1" y1="618.8" x2="157.1" y2="357.9" stroke="#EC5759" stroke-opacity="0.85" stroke-width="1.3" stroke-dasharray="3.9 1.7"/>
<line x1="275.5" y1="618.8" x2="275.5" y2="357.9" stroke="#EC5759" stroke-opacity="0.85" stroke-width="1.3" stroke-dasharray="3.9 1.7"/>
<line x1="394.6" y1="618.8" x2="394.6" y2="357.9" stroke="#777" stroke-opacity="0.85" stroke-width="1.3" stroke-dasharray="3.9 1.7"/>
<line x1="513.2" y1="618.8" x2="513.2" y2="357.9" stroke="#2C6A9A" stroke-opacity="0.9" stroke-width="1.3" stroke-dasharray="3.9 1.7"/>
<line x1="632" y1="618.8" x2="632" y2="357.9" stroke="#2C6A9A" stroke-opacity="0.9" stroke-width="1.3" stroke-dasharray="3.9 1.7"/>
<rect x="95" y="357.9" width="589" height="260.9" fill="none" stroke="#000" stroke-width="1.7" stroke-linejoin="miter"/>
<line x1="87.7" y1="416.8" x2="95" y2="416.8" stroke="#000" stroke-width="1.7"/>
<text transform="translate(81.4 425.4) scale(1 1.05)" text-anchor="end" class="t"><tspan dy="1.2">−</tspan><tspan dy="-1.2">60</tspan></text>
<line x1="87.7" y1="478.94" x2="95" y2="478.94" stroke="#000" stroke-width="1.7"/>
<text transform="translate(81.4 487.54) scale(1 1.05)" text-anchor="end" class="t"><tspan dy="1.2">−</tspan><tspan dy="-1.2">80</tspan></text>
<line x1="87.7" y1="541.08" x2="95" y2="541.08" stroke="#000" stroke-width="1.7"/>
<text transform="translate(81.4 549.68) scale(1 1.05)" text-anchor="end" class="t"><tspan dy="1.2">−</tspan><tspan dy="-1.2">100</tspan></text>
<line x1="87.7" y1="603.22" x2="95" y2="603.22" stroke="#000" stroke-width="1.7"/>
<text transform="translate(81.4 611.82) scale(1 1.05)" text-anchor="end" class="t"><tspan dy="1.2">−</tspan><tspan dy="-1.2">120</tspan></text>
<line x1="157.1" y1="618.8" x2="157.1" y2="626.1" stroke="#000" stroke-width="1.7"/>
<text transform="translate(157.6 653) scale(1 1.05)" text-anchor="middle" class="t">1208.750</text>
<line x1="394.5" y1="618.8" x2="394.5" y2="626.1" stroke="#000" stroke-width="1.7"/>
<text transform="translate(395 653) scale(1 1.05)" text-anchor="middle" class="t">1208.781</text>
<line x1="631.9" y1="618.8" x2="631.9" y2="626.1" stroke="#000" stroke-width="1.7"/>
<text transform="translate(632.4 653) scale(1 1.05)" text-anchor="middle" class="t">1208.812</text>
<text x="102.4" y="387.3" class="bl" font-size="24">b1</text>
<text transform="translate(17.2 489.4) rotate(-90) scale(1 1.05)" text-anchor="middle" class="t">Amplitude (dBm)</text>
<text transform="translate(140.6 564) rotate(-90)" class="m" font-size="21.9"><tspan font-style="italic">f</tspan><tspan font-style="italic" font-size="15.5" dx="-1.2" dy="6.4">c</tspan><tspan font-size="24.53" dx="4.0" dy="-4">−</tspan><tspan dx="4.7" dy="-2.4">2</tspan><tspan font-style="italic" dx="0.2">f</tspan><tspan font-size="15.5" dx="-1.8" dy="6.4">B1</tspan></text>
<text transform="translate(257.5 488.9) rotate(-90)" class="m" font-size="21.9"><tspan font-style="italic">f</tspan><tspan font-style="italic" font-size="15.5" dx="-1.2" dy="6.4">c</tspan><tspan font-size="24.53" dx="4.0" dy="-4">−</tspan><tspan font-style="italic" dx="6.2" dy="-2.4">f</tspan><tspan font-size="15.5" dx="-1.8" dy="6.4">B1</tspan></text>
<text transform="translate(497.9 493.5) rotate(-90)" class="m" font-size="21.9"><tspan font-style="italic">f</tspan><tspan font-style="italic" font-size="15.5" dx="-1.2" dy="6.4">c</tspan><tspan dx="4.9" dy="-5.4">+</tspan><tspan font-style="italic" dx="6.2" dy="-1">f</tspan><tspan font-size="15.5" dx="-1.8" dy="6.4">B1</tspan></text>
<text transform="translate(617.6 544) rotate(-90)" class="m" font-size="21.9"><tspan font-style="italic">f</tspan><tspan font-style="italic" font-size="15.5" dx="-1.2" dy="6.4">c</tspan><tspan dx="4.9" dy="-5.4">+</tspan><tspan dx="4.7" dy="-1">2</tspan><tspan font-style="italic" dx="0.2">f</tspan><tspan font-size="15.5" dx="-1.8" dy="6.4">B1</tspan></text>
<clipPath id="cb2"><rect x="95" y="693.6" width="280.2" height="287.2"/></clipPath>
<line x1="235.1" y1="980.8" x2="235.1" y2="693.6" stroke="#EC5759" stroke-width="4.3" stroke-dasharray="15.7 6.7"/>
<g clip-path="url(#cb2)" fill="none" stroke-linejoin="round" stroke-linecap="round">
<path d="M106.5 902L107.7 915.1L110.2 900.8L111.4 922.5L113.3 905.7L114.5 916.3L116.4 899.5L118.2 915.1L120.1 908.2L121.1 924.3L122.3 878.2L124.4 871.1L125.6 901.5L126.9 892.1L128.4 933L130 911.6L131.8 907.5L133.7 927.4L136.8 902L139.9 926.2L143.3 893.3L146 898L147.5 944.1L149.1 927.7L151.2 897L152.9 925L155 900.8L157.2 909.1L158.4 922.5L160.3 914.4L161.5 936.7L164.6 906.9L166.5 931.1L168.3 904.5L170.4 939L171.9 909.4L173.7 933.6L175.6 905.7L177.4 915.1L178.7 888.4L180.5 913.8L182.4 883.4L185.1 932.4L187.3 904.5L188.6 905.4L190.4 941L192.9 905.7L194.7 916.6L196.2 929.9L197.2 892.1L199.3 910.1L200.9 887.8L203.6 944.1L207.1 899.5L209 923.7L210.8 910.6L212.7 922.5L213.9 896.4L215.5 925L217 896.4L218.8 910.1L220.5 879.7L223.2 926.2L225 890.9L226.6 901.5L226.9 865.5L228.7 884.2L230.6 859.9L231.8 881.7L233.3 848.2L235.5 853.5L237.2 875.5L239.5 861.2L241 879.5L242.2 908.9L244 899.5L245.3 910.1L247.1 899.5L249 908.9L250.6 889L251.5 918.8L253.3 902L254.6 908.9L256 889.6L258.3 904.2L258.9 931.1L260.7 916.8L262.3 936.1L263.8 916.8L265.7 929.9L267.5 919.3L269.1 944.7L270.6 923L271.9 942.3L273.1 925.5L275 941L276.8 916.8L279 946L280.5 903.2L282 915.1L283.4 893.3L285.1 918.8L288.6 894L290.4 896.8L293.1 929.9L295.4 910.4L297.2 903.2L298.5 925L300.3 911.9L301.5 933.6L302.6 918.1L303.2 932.4L305.1 906.7L306.7 892.1L308.8 923.7L311.3 898.3L313.1 931.4L315.2 950.3L316.8 894.6L318.7 920L319.6 904.5L321.2 929.3L323.6 899.5L325.7 908.9L329 884.1L330.7 915.1L333.5 896.4L334.8 920.3L337.2 926.2L338.7 905.1L340.3 919L342.8 933.6L345.3 901.1L347.8 893.3L349.6 912.6L351.2 893.3L353 929.9L354.9 903.2L357 937.3L359.5 909.4L361.6 926.2L362.8 908.8L363.6 913.5" stroke="#000" stroke-width="3.9"/>
</g>
<rect x="95" y="693.6" width="280.2" height="287.2" fill="none" stroke="#000" stroke-width="1.7" stroke-linejoin="miter"/>
<line x1="87.7" y1="755" x2="95" y2="755" stroke="#000" stroke-width="1.7"/>
<text transform="translate(81.4 763.6) scale(1 1.05)" text-anchor="end" class="t"><tspan dy="1.2">−</tspan><tspan dy="-1.2">110</tspan></text>
<line x1="87.7" y1="857.75" x2="95" y2="857.75" stroke="#000" stroke-width="1.7"/>
<text transform="translate(81.4 866.35) scale(1 1.05)" text-anchor="end" class="t"><tspan dy="1.2">−</tspan><tspan dy="-1.2">115</tspan></text>
<line x1="87.7" y1="960.5" x2="95" y2="960.5" stroke="#000" stroke-width="1.7"/>
<text transform="translate(81.4 969.1) scale(1 1.05)" text-anchor="end" class="t"><tspan dy="1.2">−</tspan><tspan dy="-1.2">120</tspan></text>
<line x1="235" y1="980.8" x2="235" y2="988.1" stroke="#000" stroke-width="1.7"/>
<text transform="translate(235.5 1013.9) scale(1 1.05)" text-anchor="middle" class="t">1208.750</text>
<text x="102.4" y="722.3" class="bl" font-size="24">b2</text>
<clipPath id="cb3"><rect x="403.5" y="693.5" width="280.5" height="287.4"/></clipPath>
<line x1="543.7" y1="980.9" x2="543.7" y2="693.5" stroke="#2C6A9A" stroke-width="4.3" stroke-dasharray="15.7 6.7"/>
<g clip-path="url(#cb3)" fill="none" stroke-linejoin="round" stroke-linecap="round">
<path d="M414.9 927.1L416.6 935L417.7 919.9L419.2 902.6L420.6 918.4L421.7 914.6L422.8 928.7L424.3 916.9L425.7 929.9L427.2 895.2L428.9 912.7L429.7 898.6L431.4 924.1L432.6 902L433.7 923L435.4 911.2L436.6 923L437.7 893.5L439.4 919.6L441.1 908.5L443.1 874.6L445.1 915L446.8 899.4L448.3 892.9L449.7 915L451.4 894L453.1 914.2L454.8 918.4L456 904.9L457.7 924.5L460 932.1L461.3 907.2L463.4 925.3L465.7 911.2L467.4 918.4L469.1 900.5L471.2 891.2L472.5 907L474.2 900.9L476 933.6L477.7 935.6L479.1 892.5L481.4 937.4L483.7 906.2L486 923.7L488.3 906.2L489.4 932.8L492.8 920.6L495.1 893.6L498.1 916.9L500.8 897.1L503.1 926L506.5 908.5L508.8 916.9L511.1 903.9L513.3 923.7L514.5 890.2L517.9 907.7L519 891.4L521.3 907L523.6 912.3L524.7 879.6L527 865.1L529.3 865.9L530 871.3L532.3 818L534.6 799.8L536.8 786.1L538.4 765.6L539.1 754.2L540.5 747.5L541.4 757.3L542.5 744.5L543.7 752.5L545 742.5L546 747.5L547.4 732.5L548.3 744.5L549.4 741.5L550.3 749.5L551 744.5L552 762L552.8 777L555.1 822.6L557.4 831.7L559.6 845.4L561.9 879.6L564.2 897.8L565.3 928.3L567.6 906.2L568.8 923.7L571 903.9L572.9 921.4L575.6 907L577.9 901.6L580.2 916.9L582.4 899.3L584.7 907L586.5 926L588.8 906.2L590.4 919.1L592 890.2L595 938.9L596 937.8L597.8 902.2L598.9 913.2L600.7 896.4L601.8 910.9L603.6 889.4L605.3 915.6L607.1 892.9L608.8 900.7L610.6 927.3L612.9 903.4L615.3 920.3L616.4 900.7L618.8 897.6L620.5 917.9L622.6 903.4L624.4 934.3L626.1 915.1L627.5 930.8L629.1 905.4L631.3 890L632.8 920.3L634.3 903.4L636.3 923.8L639.2 904.6L641 923.8L642.5 908.1L644.5 921.8L645.6 935.4L647.4 905.1L650 927.3L652.1 897L654.4 916.7L656.7 899.9L659.1 920.3L660.8 899.3L663.2 898.4L664.9 917.9L667.2 904.6L669.6 924.9L671.3 909.2L672.5 914.4" stroke="#000" stroke-width="3.9"/>
</g>
<rect x="403.5" y="693.5" width="280.5" height="287.4" fill="none" stroke="#000" stroke-width="1.7" stroke-linejoin="miter"/>
<line x1="396.2" y1="755" x2="403.5" y2="755" stroke="#000" stroke-width="1.7"/>
<line x1="396.2" y1="857.75" x2="403.5" y2="857.75" stroke="#000" stroke-width="1.7"/>
<line x1="396.2" y1="960.5" x2="403.5" y2="960.5" stroke="#000" stroke-width="1.7"/>
<line x1="543.7" y1="980.9" x2="543.7" y2="988.2" stroke="#000" stroke-width="1.7"/>
<text transform="translate(544.2 1013.9) scale(1 1.05)" text-anchor="middle" class="t">1208.812</text>
<text x="410.5" y="722.3" class="bl" font-size="24">b3</text>
<text transform="translate(389.5 1045.8) scale(1 1.05)" text-anchor="middle" class="t">Frequency (MHz)</text>
</svg></body></html>
